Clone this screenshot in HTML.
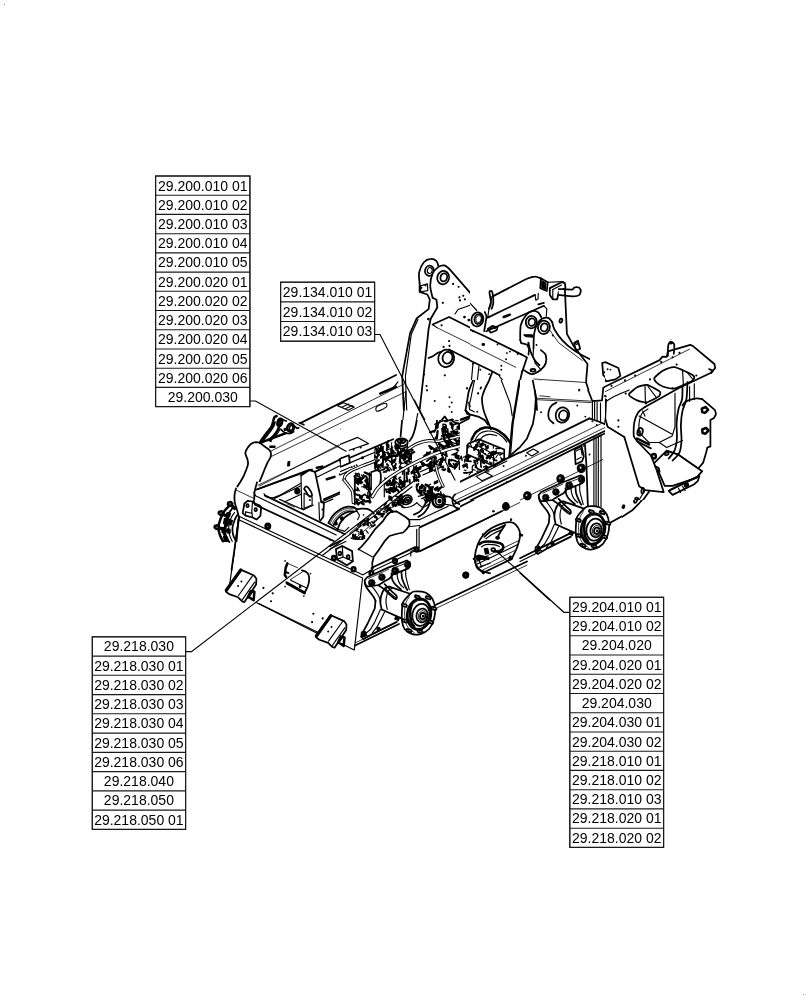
<!DOCTYPE html>
<html><head><meta charset="utf-8"><title>Parts diagram</title>
<style>
html,body{margin:0;padding:0;background:#fff;}
body{width:812px;height:1000px;overflow:hidden;font-family:"Liberation Sans",sans-serif;}
svg{display:block;position:absolute;left:0;top:0;filter:grayscale(1);}
.tb rect,.tb path{stroke:#1a1a1a;stroke-width:1.1;}
.tb text{font-family:"Liberation Sans",sans-serif;font-size:14.0px;fill:#000;text-anchor:middle;}
.d path,.d circle,.d ellipse,.d polygon,.d polyline,.d line{fill:none;stroke:#000;stroke-width:1.15;stroke-linejoin:round;stroke-linecap:round;}
.d .w{fill:#fff;}
.d .k{fill:#000;}
.d .t{stroke-width:0.8;}
.d .h{stroke-width:1.75;}
.d .hh{stroke-width:2.5;}
.ld path{fill:none;stroke:#000;stroke-width:1.15;}
</style></head><body>
<svg width="812" height="1000" viewBox="0 0 812 1000">
<rect x="0" y="0" width="812" height="1000" fill="#fff"/>
<g class="d">
<defs><clipPath id="c2_i"><path d="M300 380H430V530H300Z"/></clipPath><clipPath id="c2_1"><path d="M0 0H812V1000H0ZM340 420H460V540H340Z" clip-rule="evenodd"/></clipPath><clipPath id="c2_2"><path d="M0 0H812V1000H0ZM250 440H370V540H250Z" clip-rule="evenodd"/></clipPath><clipPath id="c3_i"><path d="M0 0H812V1000H0Z"/></clipPath><clipPath id="c3_1"><path d="M0 0H812V1000H0ZM430 380H520V500H430Z" clip-rule="evenodd"/></clipPath><clipPath id="c3_2"><path d="M0 0H812V1000H0ZM470 260H590V380H470Z" clip-rule="evenodd"/></clipPath><clipPath id="c4_i"><path d="M0 0H812V1000H0Z"/></clipPath><clipPath id="c4_1"><path d="M0 0H812V1000H0ZM520 390H640V510H520Z" clip-rule="evenodd"/></clipPath><clipPath id="c4_2"><path d="M0 0H812V1000H0ZM605 340H740V500H605Z" clip-rule="evenodd"/></clipPath><clipPath id="c4_3"><path d="M0 0H812V1000H0ZM470 260H590V380H470Z" clip-rule="evenodd"/></clipPath><clipPath id="c5_i"><path d="M0 0H812V1000H0Z"/></clipPath><clipPath id="c5_1"><path d="M0 0H812V1000H0ZM340 420H460V540H340Z" clip-rule="evenodd"/></clipPath><clipPath id="c5_2"><path d="M0 0H812V1000H0ZM520 390H640V510H520Z" clip-rule="evenodd"/></clipPath><clipPath id="c5_3"><path d="M0 0H812V1000H0ZM430 380H520V500H430Z" clip-rule="evenodd"/></clipPath><clipPath id="c6_i"><path d="M0 0H622V1000H0Z"/></clipPath><clipPath id="c6_1"><path d="M0 0H812V1000H0ZM520 390H640V510H520Z" clip-rule="evenodd"/></clipPath><clipPath id="c7_i"><path d="M0 0H812V1000H0Z"/></clipPath><clipPath id="c7_1"><path d="M0 0H812V1000H0ZM340 420H460V540H340Z" clip-rule="evenodd"/></clipPath><clipPath id="c7_2"><path d="M0 0H812V1000H0ZM250 440H370V540H250Z" clip-rule="evenodd"/></clipPath><clipPath id="c7_3"><path d="M0 0H812V1000H0ZM430 400H590V560H430Z" clip-rule="evenodd"/></clipPath><clipPath id="c9_i"><path d="M622 0H812V1000H622Z"/></clipPath><clipPath id="c9_1"><path d="M0 0H812V1000H0ZM520 390H640V510H520Z" clip-rule="evenodd"/></clipPath><clipPath id="c9_2"><path d="M0 0H812V1000H0ZM605 340H740V500H605Z" clip-rule="evenodd"/></clipPath><clipPath id="c11_i"><path d="M0 0H812V1000H0Z"/></clipPath><clipPath id="c11_1"><path d="M0 0H812V1000H0ZM340 420H460V540H340Z" clip-rule="evenodd"/></clipPath><clipPath id="c11_2"><path d="M0 0H812V1000H0ZM330 540H370V560H330Z" clip-rule="evenodd"/></clipPath><clipPath id="c12_i"><path d="M340 420H460V540H340Z"/></clipPath><clipPath id="c13_i"><path d="M520 390H640V510H520Z"/></clipPath><clipPath id="c13_1"><path d="M0 0H812V1000H0ZM605 340H740V500H605Z" clip-rule="evenodd"/></clipPath><clipPath id="c14_i"><path d="M430 380H520V500H430Z"/></clipPath><clipPath id="c14_1"><path d="M0 0H812V1000H0ZM340 420H460V540H340Z" clip-rule="evenodd"/></clipPath><clipPath id="c15_i"><path d="M605 340H740V500H605Z"/></clipPath><clipPath id="c16_i"><path d="M470 260H590V380H470Z"/></clipPath></defs>
<path d="M238.3 519.4 L362.6 578.0 L354.3 650.0 L258.7 603.6"/>
<path d="M238.3 519.4 L234.1 553.9 L229.6 584.7"/>
<path d="M239.5 516.5 L362.6 574.8"/>
<path d="M229.6 584.7 L232.1 588.4"/>
<path d="M256.7 602.7 L317.1 633.2"/>
<path class='w h' d="M240.7 569.6 L254.0 575.5 L256.4 578.8 L256.1 584.4 L244.4 602.1 L242.2 601.4 L238.1 597.3 L229.2 594.1 L226.1 591.8 L225.9 590.1 L240.7 569.6"/>
<path class='hh' d="M225.9 590.3 L240.7 569.6"/>
<path class='h' d="M226.5 591.3 L241.1 570.8"/>
<path d="M252.5 575.9 L238.5 595.5"/>
<path d="M254.7 582.2 L242.2 599.9"/>
<path class='w hh' d="M250.7 591.0 L254.4 591.8 L253.6 600.3 L251.0 598.4 L248.1 596.9 L250.7 591.0"/>
<path class='hh' d="M248.1 596.9 L252.5 591.0"/>
<circle class="k" cx="241.4" cy="581.4" r="0.4"/>
<circle class="k" cx="238.1" cy="585.9" r="0.4"/>
<path class='w h' d="M330.8 615.2 L344.1 621.1 L346.5 624.4 L346.2 630.0 L334.5 647.7 L332.3 647.0 L328.2 642.9 L319.3 639.7 L316.2 637.4 L316.0 635.7 L330.8 615.2"/>
<path class='hh' d="M316.0 635.9 L330.8 615.2"/>
<path class='h' d="M316.6 636.9 L331.2 616.4"/>
<path d="M342.6 621.5 L328.6 641.1"/>
<path d="M344.8 627.8 L332.3 645.5"/>
<path class='w hh' d="M340.8 636.6 L344.5 637.4 L343.7 645.9 L341.1 644.0 L338.2 642.5 L340.8 636.6"/>
<path class='hh' d="M338.2 642.5 L342.6 636.6"/>
<circle class="k" cx="331.5" cy="627.0" r="0.4"/>
<circle class="k" cx="328.2" cy="631.5" r="0.4"/>
<path class='t' d="M287.4 563.3 L297.5 567.7"/>
<path class='hh' d="M287.4 563.3 L285.7 567.7 L284.8 575.1 L286.0 576.7"/>
<path class='h' d="M285.8 572.2 L288.5 573.1"/>
<path class='h' d="M301.8 570.3 C302.5 570.6 305.1 571.2 306.2 571.9 C307.3 572.6 307.9 573.3 308.4 574.5 C308.9 575.8 309.3 577.6 309.2 579.6 C309.1 581.5 308.6 584.1 307.8 586.2 C307.1 588.4 305.2 591.4 304.7 592.5"/>
<path class='t' d="M302.5 571.9 L290.3 579.6"/>
<path class='hh' d="M286.6 582.5 L304.4 592.5"/>
<path class='hh' d="M287.1 583.4 L304.6 593.2"/>
<path d="M290.7 580.3 L306.2 587.8"/>
<path class='k' d="M299.3 585.9 L300.7 585.5 L301.0 587.2 L299.6 587.5Z"/>
<circle class="k" cx="285.1" cy="560.9" r="0.3"/>
<circle class="k" cx="310.5" cy="573.6" r="0.3"/>
<circle class="k" cx="285.1" cy="586.6" r="0.3"/>
<circle class="k" cx="303.8" cy="596.0" r="0.3"/>
<circle class="k" cx="263.4" cy="587.9" r="0.5"/>
<circle class="k" cx="272.7" cy="593.3" r="0.5"/>
<circle class="k" cx="271.0" cy="601.2" r="0.5"/>
<circle class="k" cx="313.4" cy="613.7" r="0.5"/>
<circle class="k" cx="322.7" cy="618.4" r="0.5"/>
<circle class="k" cx="312.1" cy="622.1" r="0.5"/>
<circle class="k" cx="322.0" cy="627.0" r="0.5"/>
<path class='t' d="M270.9 456.7 L405.8 391.7"/>
<path class='t' d="M259.5 486.0 L338.9 444.9"/>
<path class='h' d="M257.6 489.3 L312.0 469.5"/>
<path class='h' d="M300.4 423.1 L396.1 375.0"/>
<path class='t' d="M269.1 452.0 L404.8 383.7"/>
<path class='w h' d="M259.7 481.3 L262.5 474.6 L265.0 468.3 L267.6 462.4 L270.3 457.9 L271.0 455.0 L270.7 452.0 L269.1 449.7 L259.5 442.6 L256.1 442.1 L253.2 442.7 L250.2 444.6 L247.7 447.6 L245.8 451.0 L245.3 453.2 L246.1 455.9 L247.5 459.4 L248.1 462.8 L247.7 465.8 L245.5 471.7 L243.3 476.8 L240.3 482.0 L237.3 486.5"/>
<path class='hh' d="M260.2 442.1 C260.7 441.3 261.9 439.4 263.3 437.5 C264.6 435.6 266.9 432.7 268.3 430.9 C269.7 429.0 270.9 428.0 271.7 426.4 C272.5 424.8 272.7 422.8 273.2 421.3 C273.6 419.7 273.8 418.1 274.4 417.3 C274.9 416.4 276.2 416.3 276.6 416.1"/>
<path class='h' d="M262.4 441.4 C263.0 440.6 264.7 438.5 266.1 436.8 C267.4 435.0 269.3 432.6 270.5 430.9 C271.7 429.1 272.7 427.9 273.5 426.4 C274.2 425.0 274.7 422.9 275.0 422.1"/>
<path class='hh' d="M269.0 439.9 C269.7 439.4 271.5 438.0 272.7 436.8 C274.0 435.5 275.4 433.8 276.4 432.3 C277.4 430.9 278.1 429.2 278.6 427.9 C279.2 426.6 279.4 425.0 279.5 424.4"/>
<path d="M271.6 439.7 C272.2 439.2 273.8 437.6 275.0 436.4 C276.1 435.2 277.4 433.6 278.3 432.3 C279.1 431.0 279.8 429.3 280.1 428.6"/>
<path class='hh' d="M260.2 442.8 L269.8 439.1 L286.0 433.2"/>
<path class='k' d="M269.5 439.7 L270.8 439.1 L271.4 441.1 L270.1 441.5Z"/>
<ellipse class='w hh' cx="279.8" cy="422.4" rx="2.2" ry="3.8" transform="rotate(15 279.8 422.4)"/>
<ellipse class='h' cx="280.1" cy="422.4" rx="1.0" ry="2.4" transform="rotate(15 280.1 422.4)"/>
<path class='h' d="M282.2 419.5 L286.3 421.0"/>
<path class='h' d="M281.0 429.5 C281.6 430.0 283.1 431.8 284.6 432.5 C286.0 433.2 288.2 433.6 289.7 433.5 C291.2 433.4 292.9 432.0 293.6 431.7"/>
<ellipse class='w hh' cx="290.6" cy="427.6" rx="3.3" ry="4.1" transform="rotate(15 290.6 427.6)"/>
<ellipse class='h' cx="291.2" cy="427.9" rx="1.8" ry="2.6" transform="rotate(15 291.2 427.9)"/>
<path class='h' d="M294.9 426.4 L297.1 428.3 L298.7 427.8"/>
<path class='k' d="M284.1 428.6 L286.0 428.3 L286.3 430.1 L284.4 430.4Z"/>
<path class='h' d="M299.3 422.7 L303.9 424.7"/>
<path class='k' d="M269.9 446.1 L275.0 446.1 L275.0 447.3 L269.9 447.3Z"/>
<path class='k' d="M288.0 461.8 L289.8 461.5 L289.5 465.8 L287.7 465.9Z"/>
<g clip-path="url(#c2_2)">
<g clip-path="url(#c2_1)">
<g clip-path="url(#c2_i)">
<path d="M337.4 405.6 L343.6 402.7 L354.3 407.1 L348.1 410.3 L337.4 405.6"/>
<path d="M342.2 407.1 L348.8 404.1"/>
<path d="M345.9 408.6 L352.2 405.6"/>
<path d="M375.9 408.9 C376.1 408.4 375.8 407.1 377.3 406.2 C378.9 405.3 383.4 403.5 385.0 403.3 C386.6 403.0 386.6 403.8 386.8 404.4 C387.0 405.1 387.6 406.0 386.2 407.1 C384.8 408.2 380.0 410.5 378.4 411.1 C376.7 411.7 376.6 411.0 376.2 410.6 C375.7 410.3 375.9 409.2 375.9 408.9"/>
<path d="M339.5 444.3 L354.3 437.7 L367.6 444.0 L352.2 451.0"/>
<path d="M320.0 436.9 L344.8 451.0"/>
<path d="M320.0 451.0 L339.2 459.9"/>
<circle class="k" cx="351.8" cy="449.5" r="0.4"/>
<circle class="k" cx="360.2" cy="447.6" r="0.4"/>
<path class='h' d="M339.2 459.9 L348.8 455.4 L349.3 462.1 L341.0 466.2 L339.2 459.9"/>
<path class='h' d="M320.0 469.5 L339.2 459.9"/>
<path class='h' d="M320.0 472.7 L340.0 463.5"/>
<path class='h' d="M349.3 458.4 L392.4 438.7"/>
<path d="M349.3 461.8 L376.2 449.5"/>
<path d="M320.0 482.8 L340.7 473.2"/>
<path class='hh' d="M328.9 480.5 L332.6 479.1"/>
<circle class="k" cx="351.3" cy="468.3" r="0.4"/>
<circle class="k" cx="353.7" cy="467.2" r="0.4"/>
<circle class="k" cx="355.5" cy="466.5" r="0.4"/>
<path d="M414.4 400.0 L440.0 448.8"/>
<path d="M405.9 391.7 L401.3 434.7"/>
<path d="M417.8 413.3 L412.4 438.7"/>
<path d="M423.4 436.9 C424.2 435.7 426.4 432.0 427.9 429.6 C429.4 427.1 431.6 423.4 432.3 422.2"/>
<ellipse class='w h' cx="401.0" cy="440.6" rx="5.3" ry="3.3"/>
<ellipse class='h' cx="401.0" cy="439.6" rx="3.3" ry="1.9"/>
<ellipse class='k' cx="401.0" cy="439.3" rx="1.5" ry="0.9"/>
<path d="M395.7 441.4 L395.7 445.1"/>
<path d="M406.3 441.4 L406.3 445.1"/>
<path class='h' d="M395.7 445.1 C396.6 445.5 399.2 447.6 401.0 447.6 C402.8 447.6 405.4 445.5 406.3 445.1"/>
<path class='h' d="M340.7 477.6 C340.9 476.8 340.4 474.4 341.9 472.7 C343.3 471.1 345.8 469.6 349.6 467.7 C353.3 465.8 360.1 463.1 364.3 461.3 C368.6 459.6 373.2 458.0 375.0 457.3"/>
<path d="M343.3 478.3 C343.5 477.7 343.1 476.0 344.4 474.6 C345.7 473.3 347.7 471.9 351.0 470.2 C354.4 468.5 360.4 466.0 364.3 464.3 C368.3 462.6 373.0 460.6 374.7 459.9"/>
<path class='h' d="M340.7 477.6 C341.6 478.8 344.3 482.9 345.9 485.0 C347.5 487.1 349.4 487.1 350.3 490.1 C351.2 493.2 351.2 501.2 351.3 503.4"/>
<path d="M343.3 478.3 C344.3 479.4 347.2 483.0 348.8 485.0 C350.4 486.9 351.9 487.3 352.8 490.1 C353.7 493.0 353.8 500.0 354.0 502.0"/>
<path class='h' d="M373.2 494.6 C373.9 493.3 374.9 490.1 377.6 487.2 C380.3 484.2 384.3 480.5 389.5 476.8 C394.6 473.2 403.0 468.3 408.7 465.0 C414.3 461.7 418.2 459.1 423.4 456.9 C428.7 454.7 437.2 452.6 440.0 451.7"/>
<path d="M375.9 496.1 C376.5 495.0 377.2 492.2 379.9 489.4 C382.5 486.7 386.6 483.1 391.7 479.5 C396.7 475.9 404.6 471.0 410.1 467.7 C415.7 464.3 420.0 461.6 424.9 459.4 C429.9 457.2 437.5 455.2 440.0 454.4"/>
<path d="M407.2 447.3 C408.4 446.6 411.4 444.0 414.6 442.9 C417.8 441.7 422.7 440.4 426.4 440.2 C430.1 440.0 435.0 441.2 436.7 441.4"/>
<path d="M408.7 449.5 C409.9 448.8 413.0 446.2 416.1 445.1 C419.1 444.0 423.7 443.0 427.1 442.9 C430.6 442.7 435.1 443.8 436.7 444.0"/>
<path class='h' d="M370.2 520.0 C372.2 518.2 376.7 513.6 382.1 509.4 C387.5 505.1 397.3 499.0 402.8 494.6 C408.2 490.1 412.6 484.7 414.6 482.8"/>
<path d="M373.9 520.0 C375.8 518.5 379.7 514.8 385.0 510.8 C390.3 506.8 400.4 500.4 405.7 496.1 C411.0 491.7 415.0 486.5 416.8 484.5"/>
<path class='h' d="M368.8 473.9 C369.8 473.4 373.0 470.9 374.7 470.9 C376.4 470.9 378.3 471.9 379.1 473.9 C380.0 475.9 380.3 479.8 379.9 482.8 C379.4 485.7 376.8 490.1 376.2 491.6"/>
<path d="M368.8 473.9 L368.8 494.6"/>
<path class='k' d="M356.9 476.8 L360.2 475.7 L360.5 479.5 L357.2 480.7Z"/>
<path class='k' d="M359.9 480.5 L363.2 479.4 L363.4 483.2 L360.2 484.4Z"/>
<path class='k' d="M356.9 485.7 L360.2 484.5 L360.5 488.4 L357.2 489.6Z"/>
<path class='k' d="M361.4 488.7 L364.6 487.5 L364.9 491.3 L361.7 492.5Z"/>
<path class='k' d="M357.7 494.6 L360.9 493.4 L361.2 497.2 L358.0 498.4Z"/>
<path class='k' d="M362.9 496.1 L366.1 494.9 L366.4 498.7 L363.2 499.9Z"/>
<path class='k' d="M364.3 476.8 L367.6 475.7 L367.9 479.5 L364.6 480.7Z"/>
<path class='k' d="M365.8 482.8 L369.1 481.6 L369.4 485.4 L366.1 486.6Z"/>
<path class='k' d="M355.5 490.1 L358.7 489.0 L359.0 492.8 L355.8 494.0Z"/>
<path class='k' d="M364.3 502.0 L367.6 500.8 L367.9 504.6 L364.6 505.8Z"/>
<path class='k' d="M358.4 502.0 L361.7 500.8 L362.0 504.6 L358.7 505.8Z"/>
<path class='k' d="M377.6 451.7 L380.3 450.5 L380.6 453.5 L377.9 454.7Z"/>
<path class='k' d="M382.1 450.2 L384.7 449.1 L385.0 452.0 L382.4 453.2Z"/>
<path class='k' d="M379.1 457.6 L381.8 456.5 L382.1 459.4 L379.4 460.6Z"/>
<path class='k' d="M385.0 456.2 L387.7 455.0 L388.0 457.9 L385.3 459.1Z"/>
<path class='k' d="M376.2 462.1 L378.8 460.9 L379.1 463.8 L376.5 465.0Z"/>
<path class='k' d="M383.5 463.5 L386.2 462.4 L386.5 465.3 L383.8 466.5Z"/>
<path class='k' d="M389.5 465.0 L392.1 463.8 L392.4 466.8 L389.8 468.0Z"/>
<path class='k' d="M386.5 448.8 L389.2 447.6 L389.5 450.5 L386.8 451.7Z"/>
<path class='k' d="M393.9 450.2 L396.6 449.1 L396.8 452.0 L394.2 453.2Z"/>
<path class='k' d="M396.8 454.7 L399.5 453.5 L399.8 456.5 L397.1 457.6Z"/>
<path class='k' d="M402.8 451.7 L405.4 450.5 L405.7 453.5 L403.1 454.7Z"/>
<path class='k' d="M407.2 453.2 L409.9 452.0 L410.1 455.0 L407.5 456.2Z"/>
<path class='k' d="M399.8 447.3 L402.5 446.1 L402.8 449.1 L400.1 450.2Z"/>
<path class='k' d="M385.0 482.8 L387.4 481.9 L387.7 484.5 L385.3 485.4Z"/>
<path class='k' d="M389.5 480.5 L391.8 479.7 L392.1 482.3 L389.8 483.2Z"/>
<path class='k' d="M386.5 488.7 L388.9 487.8 L389.2 490.4 L386.8 491.3Z"/>
<path class='k' d="M392.4 487.2 L394.8 486.3 L395.1 489.0 L392.7 489.9Z"/>
<path class='k' d="M396.8 482.8 L399.2 481.9 L399.5 484.5 L397.1 485.4Z"/>
<path class='k' d="M399.8 476.8 L402.2 476.0 L402.5 478.6 L400.1 479.5Z"/>
<path class='k' d="M402.8 472.4 L405.1 471.5 L405.4 474.2 L403.1 475.1Z"/>
<path class='k' d="M407.2 469.5 L409.6 468.6 L409.9 471.2 L407.5 472.1Z"/>
<path class='k' d="M408.7 476.8 L411.0 476.0 L411.3 478.6 L409.0 479.5Z"/>
<path class='k' d="M396.8 491.6 L399.2 490.7 L399.5 493.4 L397.1 494.3Z"/>
<path class='k' d="M389.5 494.6 L391.8 493.7 L392.1 496.4 L389.8 497.2Z"/>
<path class='k' d="M383.5 494.6 L385.9 493.7 L386.2 496.4 L383.8 497.2Z"/>
<path class='k' d="M414.6 470.9 L416.9 470.0 L417.2 472.7 L414.9 473.6Z"/>
<path class='k' d="M419.0 473.9 L421.4 473.0 L421.7 475.7 L419.3 476.6Z"/>
<path class='k' d="M423.4 468.0 L425.8 467.1 L426.1 469.8 L423.7 470.6Z"/>
<path class='k' d="M426.4 476.8 L428.8 476.0 L429.1 478.6 L426.7 479.5Z"/>
<path class='k' d="M422.0 482.8 L424.3 481.9 L424.6 484.5 L422.3 485.4Z"/>
<path class='k' d="M416.1 479.8 L418.4 478.9 L418.7 481.6 L416.4 482.5Z"/>
<path class='k' d="M429.4 469.5 L431.7 468.6 L432.0 471.2 L429.7 472.1Z"/>
<path class='k' d="M432.3 465.0 L434.7 464.1 L435.0 466.8 L432.6 467.7Z"/>
<path class='k' d="M423.4 488.7 L425.8 487.8 L426.1 490.4 L423.7 491.3Z"/>
<path class='k' d="M417.5 490.1 L419.9 489.3 L420.2 491.9 L417.8 492.8Z"/>
<path class='k' d="M413.1 485.7 L415.5 484.8 L415.8 487.5 L413.4 488.4Z"/>
<path d="M376.2 448.8 L376.2 469.5"/>
<path d="M383.5 447.3 L383.5 468.0"/>
<path d="M393.9 445.8 L393.9 459.1"/>
<path d="M402.8 448.8 L411.6 451.7 L411.6 459.1"/>
<path d="M355.5 473.9 L355.5 503.4"/>
<path d="M368.8 494.6 L373.2 497.5 L373.2 503.4"/>
<ellipse class='h' cx="407.2" cy="500.5" rx="5.9" ry="4.7" transform="rotate(-25 407.2 500.5)"/>
<ellipse cx="407.2" cy="500.5" rx="3.3" ry="2.5" transform="rotate(-25 407.2 500.5)"/>
<ellipse class='hh' cx="432.3" cy="497.5" rx="3.8" ry="4.4"/>
<ellipse class='h' cx="432.3" cy="497.5" rx="1.5" ry="1.8"/>
<path class='h' d="M414.6 503.4 C416.1 502.7 421.0 500.5 423.4 499.0 C425.9 497.5 428.4 495.3 429.4 494.6"/>
<path class='h' d="M417.5 509.4 C419.0 508.5 423.9 505.4 426.4 504.2 C428.9 503.0 431.3 502.3 432.3 502.0"/>
<ellipse class='hh' cx="438.2" cy="502.0" rx="2.7" ry="5.0"/>
<path d="M333.3 520.0 C334.3 518.7 336.5 514.3 339.2 512.3 C341.9 510.3 346.4 508.3 349.6 507.9 C352.8 507.5 356.9 509.7 358.4 510.1"/>
<path d="M336.3 520.0 C337.2 519.1 339.7 516.1 342.2 514.5 C344.6 513.0 349.6 511.5 351.0 510.8"/>
<path class='h' d="M358.4 510.1 C359.4 510.5 362.9 510.7 364.3 512.3 C365.8 514.0 366.8 518.7 367.3 520.0"/>
<path class='h' d="M330.3 520.0 C331.3 518.5 333.3 513.2 336.3 510.8 C339.2 508.4 346.1 506.5 348.1 505.7"/>
<path class='hh' d="M320.0 491.6 L321.5 494.6 L321.5 520.0"/>
<path d="M323.0 497.5 L342.2 488.7"/>
<path d="M323.0 502.0 L337.7 494.6"/>
</g>
</g>
</g>
<g clip-path="url(#c3_2)">
<g clip-path="url(#c3_1)">
<g clip-path="url(#c3_i)">
<path d="M478.7 302.2 L527.9 277.6 L536.8 276.6 L550.0 283.5"/>
<path d="M492.5 298.3 L535.8 278.0"/>
<path d="M488.5 313.1 L541.7 288.4"/>
<path class='t' d="M492.5 315.0 L543.7 290.4"/>
<path d="M488.1 328.8 L527.9 312.7 L550.0 306.2"/>
<path d="M536.8 276.6 L537.8 285.5 L541.7 288.4"/>
<path d="M539.8 279.6 L546.7 281.5 L547.6 290.4 L541.7 292.4 L539.8 279.6"/>
<path d="M536.8 299.3 L541.7 297.3 L542.7 302.2 L537.8 304.2"/>
<path class='h' d="M505.3 316.0 L508.2 314.6 L509.2 317.0"/>
<path class='h' d="M488.5 328.8 L494.4 325.9 L497.4 327.8 L491.5 331.2 L488.5 328.8"/>
<path class='h' d="M488.5 307.5 C488.7 306.6 489.7 304.1 489.7 301.6 C489.7 299.2 488.5 294.7 488.5 293.0 C488.6 291.2 489.5 291.2 490.1 291.0 C490.7 290.8 491.7 290.5 492.1 291.8 C492.5 293.1 492.6 296.2 492.5 298.9 C492.3 301.5 491.5 306.1 491.3 307.5"/>
<path d="M455.0 314.0 L458.0 309.5 L478.7 302.2 L488.5 307.5 L484.2 329.8"/>
<ellipse class='w h' cx="477.1" cy="320.0" rx="5.9" ry="6.7" transform="rotate(20 477.1 320.0)"/>
<ellipse cx="478.3" cy="319.4" rx="3.9" ry="4.7" transform="rotate(20 478.3 319.4)"/>
<circle class="k" cx="464.5" cy="317.0" r="0.8"/>
<circle class="k" cx="468.8" cy="320.0" r="0.8"/>
<path class='h' d="M419.6 283.1 C419.5 281.3 418.4 275.6 419.2 272.1 C419.9 268.6 422.0 264.4 423.9 262.2 C425.8 260.0 428.3 259.1 430.4 258.9 C432.5 258.6 435.0 259.6 436.3 260.8 C437.7 262.1 438.1 265.3 438.5 266.2"/>
<ellipse class='h' cx="429.4" cy="270.7" rx="4.3" ry="5.1" transform="rotate(15 429.4 270.7)"/>
<ellipse cx="429.8" cy="270.5" rx="2.4" ry="3.0" transform="rotate(15 429.8 270.5)"/>
<path class='h' d="M419.6 283.1 L419.6 291.8 L427.4 294.5 L429.8 299.7 L428.6 309.1 L416.8 318.2 L410.1 333.2 L402.2 376.1 L403.8 410.0"/>
<path d="M418.0 319.4 L411.3 334.3 L405.4 376.1 L406.7 410.0"/>
<path d="M420.5 285.9 L427.4 283.9 L427.8 290.6 L420.7 291.8 L420.5 285.9"/>
<circle class="k" cx="421.5" cy="287.8" r="0.4"/>
<circle class="k" cx="425.5" cy="285.5" r="0.4"/>
<path class='w h' d="M432.6 297.7 C432.2 295.6 430.2 289.5 430.2 285.5 C430.2 281.5 431.2 276.7 432.6 273.6 C433.9 270.6 436.5 268.3 438.5 266.9 C440.4 265.6 442.6 265.1 444.4 265.4 C446.2 265.7 448.3 268.2 449.1 268.7"/>
<path class='h' d="M449.1 268.7 L478.7 302.6"/>
<ellipse class='w h' cx="443.2" cy="277.6" rx="5.9" ry="6.7" transform="rotate(15 443.2 277.6)"/>
<ellipse class='h' cx="443.8" cy="277.4" rx="3.3" ry="4.1" transform="rotate(15 443.8 277.4)"/>
<path class='h' d="M432.6 297.7 L436.5 299.7 L437.3 307.5 L430.6 319.0 L428.6 329.2 L423.5 376.1 L419.6 410.0"/>
<circle class="k" cx="428.4" cy="319.0" r="0.8"/>
<path class='h' d="M432.6 324.5 L449.1 317.0 L526.0 355.8"/>
<path class='t' d="M436.9 327.6 L516.1 366.7"/>
<path d="M432.6 324.5 L436.9 327.6"/>
<path class='h' d="M428.6 358.0 L432.6 356.4 L438.3 352.5 L449.1 349.5 L517.7 384.4"/>
<path class='h' d="M526.0 355.8 L518.1 384.4 L516.1 410.0"/>
<ellipse class='w h' cx="446.2" cy="358.4" rx="7.9" ry="8.7" transform="rotate(15 446.2 358.4)"/>
<ellipse class='h' cx="447.5" cy="357.8" rx="4.9" ry="5.9" transform="rotate(15 447.5 357.8)"/>
<path class='h' d="M474.7 364.3 L471.2 387.9 L467.2 410.0"/>
<path d="M474.7 364.3 L492.5 372.6"/>
<path d="M477.7 368.2 L472.8 391.9 L469.8 410.0"/>
<path class='h' d="M492.5 372.6 C491.5 374.8 488.3 381.8 486.9 386.0 C485.6 390.2 484.8 393.8 484.2 397.8 C483.5 401.8 483.2 408.0 483.0 410.0"/>
<path d="M497.4 376.1 C498.7 377.8 503.5 382.7 505.3 386.0 C507.1 389.2 507.7 394.2 508.2 395.8"/>
<path d="M508.2 395.8 L516.1 401.7"/>
<path d="M500.3 376.1 C501.7 378.1 505.6 384.6 508.2 387.9 C510.9 391.2 514.8 394.5 516.1 395.8"/>
<path class='h' d="M521.6 333.2 C521.8 331.2 521.4 324.6 522.4 321.3 C523.5 318.0 525.9 315.2 527.9 313.4 C530.0 311.7 532.8 311.0 534.8 311.1 C536.9 311.2 539.3 313.7 540.1 314.2"/>
<ellipse class='h' cx="532.9" cy="321.9" rx="5.3" ry="6.1" transform="rotate(15 532.9 321.9)"/>
<ellipse cx="533.3" cy="321.7" rx="2.8" ry="3.3" transform="rotate(15 533.3 321.7)"/>
<path class='w h' d="M535.8 337.1 C536.0 335.4 536.0 329.8 537.0 326.8 C538.0 323.9 540.0 321.0 541.7 319.4 C543.5 317.7 546.3 317.3 547.6 317.0 C549.0 316.7 549.6 317.7 550.0 317.8"/>
<ellipse class='w h' cx="544.1" cy="327.2" rx="5.9" ry="6.7" transform="rotate(15 544.1 327.2)"/>
<ellipse class='h' cx="544.7" cy="327.0" rx="3.3" ry="4.1" transform="rotate(15 544.7 327.0)"/>
<path class='h' d="M521.6 333.2 L520.8 342.6 L526.4 345.0 L528.3 348.9 L526.0 355.8"/>
<path class='h' d="M535.8 337.1 L531.9 339.1 L531.5 345.0 L536.2 352.9 L542.9 360.3 L543.7 366.3 L536.8 369.4 L526.0 368.2"/>
<path d="M542.9 360.3 L550.0 363.3"/>
<ellipse class='h' cx="532.9" cy="370.2" rx="2.2" ry="1.4"/>
<path class='h' d="M531.9 376.1 L536.2 397.8 L537.0 410.0"/>
<path d="M536.8 369.4 L531.9 376.1"/>
<path d="M543.7 366.3 L550.0 368.2"/>
<path class='t' d="M539.8 395.8 L550.0 396.8"/>
<circle class="k" cx="442.8" cy="302.8" r="0.5"/>
<circle class="k" cx="453.1" cy="283.9" r="0.5"/>
<circle class="k" cx="458.6" cy="286.7" r="0.5"/>
<circle class="k" cx="459.4" cy="297.3" r="0.5"/>
<circle class="k" cx="463.3" cy="295.7" r="0.5"/>
<circle class="k" cx="464.9" cy="299.3" r="0.5"/>
<circle class="k" cx="460.0" cy="300.4" r="0.5"/>
<circle class="k" cx="441.6" cy="325.3" r="0.5"/>
<circle class="k" cx="449.1" cy="341.0" r="0.5"/>
<circle class="k" cx="449.5" cy="345.8" r="0.5"/>
<circle class="k" cx="443.6" cy="346.9" r="0.5"/>
<circle class="k" cx="473.2" cy="331.2" r="0.5"/>
<circle class="k" cx="482.6" cy="344.6" r="0.5"/>
<circle class="k" cx="497.4" cy="344.6" r="0.5"/>
<circle class="k" cx="508.2" cy="352.5" r="0.5"/>
<circle class="k" cx="511.8" cy="351.3" r="0.5"/>
<circle class="k" cx="502.3" cy="365.9" r="0.5"/>
<circle class="k" cx="502.7" cy="369.8" r="0.5"/>
<circle class="k" cx="506.3" cy="360.3" r="0.5"/>
<circle class="k" cx="426.5" cy="386.0" r="0.5"/>
<circle class="k" cx="427.0" cy="390.3" r="0.5"/>
<circle class="k" cx="444.8" cy="375.3" r="0.5"/>
<circle class="k" cx="449.1" cy="396.8" r="0.5"/>
<circle class="k" cx="423.9" cy="374.5" r="0.5"/>
<circle class="k" cx="478.7" cy="386.0" r="0.5"/>
<circle class="k" cx="481.0" cy="387.9" r="0.5"/>
<circle class="k" cx="477.7" cy="393.8" r="0.5"/>
<circle class="k" cx="470.8" cy="384.0" r="0.5"/>
<circle class="k" cx="527.9" cy="342.6" r="0.5"/>
<circle class="k" cx="536.8" cy="346.2" r="0.5"/>
<circle class="k" cx="526.0" cy="360.3" r="0.5"/>
</g>
</g>
</g>
<g clip-path="url(#c4_3)">
<g clip-path="url(#c4_2)">
<g clip-path="url(#c4_1)">
<g clip-path="url(#c4_i)">
<path d="M540.0 278.3 L549.4 282.5 L550.8 290.4 L544.7 293.2"/>
<path class='h' d="M549.4 289.5 L554.0 282.5 L564.6 281.1 L565.7 295.1 L557.8 299.8 L550.8 298.6 L549.4 289.5"/>
<path d="M554.0 282.5 L554.5 292.8 L557.8 299.8"/>
<path class='h' d="M559.2 289.5 C561.1 289.6 567.9 290.3 570.4 290.0 C572.9 289.6 572.8 288.0 574.2 287.6 C575.5 287.2 577.5 287.1 578.6 287.6 C579.7 288.1 580.9 289.2 580.9 290.4 C580.9 291.6 580.0 293.8 578.6 294.6 C577.2 295.5 574.4 295.5 572.8 295.6 C571.2 295.6 571.3 295.3 569.0 295.1 C566.8 294.9 560.8 294.7 559.2 294.6"/>
<path d="M540.0 295.1 L547.0 292.8"/>
<path class='h' d="M564.6 295.1 L567.1 337.2 L570.9 347.0 L572.8 350.1 L587.5 363.9 L586.1 382.6 L591.9 400.2"/>
<path class='t' d="M540.0 309.6 L547.0 315.2 L554.0 328.3 L560.1 340.0 L570.9 351.7 L582.1 360.1"/>
<path d="M540.0 306.3 L545.1 305.4"/>
<path class='h' d="M540.0 350.1 C540.5 350.7 542.3 351.8 542.8 353.6 C543.4 355.4 543.7 358.5 543.3 360.6 C542.8 362.8 540.5 365.5 540.0 366.5"/>
<path class='h' d="M575.1 342.4 L578.8 341.0 L580.2 350.3 L575.6 351.7 L575.1 342.4"/>
<ellipse cx="577.0" cy="343.8" rx="1.9" ry="1.4"/>
<path class='t' d="M540.0 379.8 L589.6 375.1"/>
<path class='t' d="M540.0 395.2 L590.5 400.9"/>
<circle class="k" cx="561.1" cy="321.3" r="0.6"/>
<circle class="k" cx="553.1" cy="335.3" r="0.6"/>
<circle class="k" cx="568.5" cy="340.7" r="0.6"/>
<circle class="k" cx="579.3" cy="389.9" r="0.6"/>
<circle class="k" cx="577.4" cy="405.5" r="0.6"/>
<circle class="k" cx="563.4" cy="396.9" r="0.6"/>
<circle class="k" cx="585.6" cy="414.4" r="0.6"/>
<circle class="k" cx="590.3" cy="413.3" r="0.6"/>
<ellipse class='w h' cx="557.5" cy="414.4" rx="9.8" ry="11.2" transform="rotate(15 557.5 414.4)"/>
<ellipse class='h' cx="561.5" cy="413.3" rx="5.8" ry="7.0" transform="rotate(15 561.5 413.3)"/>
<path d="M550.5 406.2 L554.5 405.1"/>
<path d="M554.0 425.0 L558.3 423.8"/>
<path class='w h' d="M540.0 439.2 C544.7 437.5 559.3 432.1 568.1 428.9 C576.9 425.8 586.8 421.8 592.6 420.5 C598.5 419.3 600.6 420.4 603.2 421.5 C605.8 422.5 607.7 424.8 608.3 426.6 C608.9 428.4 610.3 430.0 606.7 432.2 C603.1 434.4 596.4 436.7 586.8 439.7 C577.2 442.7 555.6 448.3 549.4 450.0"/>
<path d="M540.0 444.9 L593.8 425.7 L603.6 426.6"/>
<path class='t' d="M570.4 428.9 L598.5 422.9"/>
<path d="M540.0 450.0 L549.4 447.2"/>
<path d="M592.9 400.9 L592.9 421.5"/>
<path d="M596.2 400.9 L596.2 421.5"/>
<path d="M599.4 401.8 L599.4 421.9"/>
<path d="M602.2 400.4 L602.2 421.9"/>
<path d="M594.3 433.2 L594.3 450.0"/>
<path d="M597.6 434.3 L597.6 450.0"/>
<path d="M600.4 433.2 L600.4 450.0"/>
<path class='h' d="M602.2 398.5 L603.2 387.8 L689.8 345.6 L693.5 347.0 L713.2 363.4 L714.3 367.2 L710.3 372.8 L671.0 392.4 L645.3 406.5 L638.3 412.6 L635.0 421.9 L633.6 443.0"/>
<path class='t' d="M604.6 391.0 L689.8 349.4"/>
<path class='h' d="M602.2 398.5 L607.9 400.9 L606.9 410.2 L610.2 428.9 L633.6 443.0 L650.0 450.0"/>
<path d="M607.9 400.9 L627.0 391.0"/>
<path class='h' d="M602.2 363.0 L606.9 361.8 L619.6 367.6 L619.6 377.5 L610.2 382.1 L603.2 375.1 L602.2 363.0"/>
<circle class="k" cx="607.9" cy="368.8" r="0.5"/>
<circle class="k" cx="604.3" cy="372.3" r="0.5"/>
<circle class="k" cx="611.4" cy="369.5" r="0.5"/>
<path class='h' d="M667.5 355.9 C667.6 353.7 667.6 344.9 668.2 342.4 C668.8 339.8 670.2 340.7 671.0 340.7 C671.9 340.7 673.1 340.1 673.4 342.4 C673.7 344.6 673.0 352.1 672.9 354.1"/>
<ellipse class='k' cx="670.8" cy="341.9" rx="2.3" ry="1.4"/>
<path class='h' d="M630.8 391.5 C631.9 390.0 635.4 387.4 638.3 386.4 C641.2 385.3 644.2 383.9 648.1 385.2 C652.0 386.4 659.6 391.6 661.7 393.8 C663.7 396.1 662.2 397.0 660.3 398.5 C658.3 400.1 653.6 402.9 650.0 403.2 C646.3 403.5 641.3 401.7 638.3 400.4 C635.2 399.1 633.0 396.7 631.7 395.2 C630.5 393.8 629.7 393.0 630.8 391.5Z"/>
<path class='h' d="M654.7 377.0 C655.7 375.4 658.6 372.9 662.1 371.1 C665.7 369.4 671.2 365.9 676.2 366.5 C681.2 367.1 689.6 372.3 692.1 374.7 C694.6 377.0 693.8 378.3 690.9 380.5 C688.0 382.7 679.4 387.0 674.5 387.8 C669.7 388.5 664.8 386.4 661.7 385.2 C658.6 384.0 657.0 381.9 655.8 380.5 C654.7 379.1 653.6 378.6 654.7 377.0Z"/>
<path d="M640.6 387.5 L650.0 400.4"/>
<path d="M646.5 386.4 L647.2 402.3"/>
<path d="M680.4 368.1 L682.7 386.4"/>
<path d="M685.1 370.0 L691.6 377.0"/>
<path class='h' d="M644.4 409.8 L638.3 417.2 L637.3 437.8"/>
<path d="M638.3 417.2 L671.0 433.6 L676.2 428.9 L676.2 391.0"/>
<path d="M633.6 443.0 L666.4 445.3 L674.8 438.3 L676.2 428.9"/>
<path d="M689.8 381.7 L689.8 400.4"/>
<path d="M694.4 379.8 L694.4 398.5"/>
<path class='h' d="M710.3 372.8 L714.3 375.1"/>
<ellipse class='h' cx="640.6" cy="432.0" rx="3.3" ry="4.2" transform="rotate(20 640.6 432.0)"/>
<path d="M635.9 437.8 L643.0 444.9 L650.0 447.2"/>
<path d="M610.2 428.9 L617.2 433.2"/>
<circle class="k" cx="624.7" cy="380.5" r="0.5"/>
<circle class="k" cx="634.8" cy="375.1" r="0.5"/>
<circle class="k" cx="651.8" cy="366.5" r="0.5"/>
<circle class="k" cx="661.7" cy="361.1" r="0.5"/>
<circle class="k" cx="672.2" cy="355.5" r="0.5"/>
<circle class="k" cx="679.9" cy="352.4" r="0.5"/>
<circle class="k" cx="605.5" cy="393.8" r="0.5"/>
<circle class="k" cx="626.1" cy="393.8" r="0.5"/>
<circle class="k" cx="611.4" cy="386.4" r="0.5"/>
<circle class="k" cx="646.5" cy="402.3" r="0.5"/>
<circle class="k" cx="672.2" cy="389.2" r="0.5"/>
<circle class="k" cx="686.2" cy="372.3" r="0.5"/>
<circle class="k" cx="689.8" cy="387.5" r="0.5"/>
<circle class="k" cx="617.2" cy="421.5" r="0.5"/>
<circle class="k" cx="618.4" cy="427.3" r="0.5"/>
<circle class="k" cx="643.0" cy="414.4" r="0.5"/>
</g>
</g>
</g>
</g>
<g clip-path="url(#c5_3)">
<g clip-path="url(#c5_2)">
<g clip-path="url(#c5_1)">
<g clip-path="url(#c5_i)">
<path class='h' d="M509.8 458.3 L590.0 418.5"/>
<path class='t' d="M446.7 498.5 L508.8 469.0 L590.0 430.1"/>
<path class='h' d="M452.1 505.2 L520.0 472.1 L590.0 438.6"/>
<path class='t' d="M448.7 503.6 L520.0 469.4 L590.0 435.7"/>
<path class='h' d="M430.0 521.8 L449.7 511.9 L520.0 476.1 L590.0 443.0"/>
<path class='t' d="M430.0 546.8 L577.8 473.9"/>
<path d="M477.3 475.9 L489.1 470.5 L495.0 473.3 L483.6 478.8 L477.3 475.9"/>
<path class='h' d="M526.6 452.2 L532.5 449.3 L537.6 451.6 L531.7 454.8 L526.6 452.2"/>
<circle class="k" cx="503.3" cy="463.4" r="0.5"/>
<circle class="k" cx="519.7" cy="455.6" r="0.5"/>
<circle class="k" cx="541.9" cy="412.2" r="0.5"/>
<circle class="k" cx="556.1" cy="444.9" r="0.5"/>
<circle class="k" cx="449.3" cy="412.2" r="0.5"/>
<circle class="k" cx="451.7" cy="405.9" r="0.5"/>
<circle class="k" cx="493.1" cy="511.3" r="0.5"/>
<circle class="k" cx="511.2" cy="519.2" r="0.5"/>
<circle class="k" cx="521.6" cy="535.0" r="0.5"/>
<circle class="k" cx="506.5" cy="482.8" r="0.5"/>
<path class='h' d="M444.8 496.6 C445.6 496.9 448.5 497.1 449.7 498.5 C450.9 500.0 452.1 503.0 452.1 505.2 C452.1 507.5 450.1 510.8 449.7 511.9"/>
<path class='h' d="M430.0 502.5 C431.3 501.8 435.4 499.5 437.9 498.5 C440.3 497.5 443.6 496.9 444.8 496.6"/>
<ellipse class='w hh' cx="437.9" cy="501.5" rx="5.9" ry="6.7"/>
<ellipse class='h' cx="437.9" cy="501.5" rx="2.8" ry="3.3"/>
<ellipse class='k' cx="437.9" cy="501.5" rx="1.0" ry="1.2"/>
<path d="M573.8 447.3 L573.8 465.0 L579.8 468.0"/>
<path d="M576.8 446.3 L576.8 464.0"/>
<path d="M585.7 442.4 L585.7 466.0"/>
<path d="M582.7 443.7 L582.7 465.0"/>
<path d="M573.8 451.6 L582.7 448.3"/>
<path class='h' d="M465.5 400.0 L466.7 409.9 L475.7 416.2 L485.6 418.1 L489.1 425.6"/>
<path d="M457.6 421.7 L469.4 418.7 L471.4 420.7 L461.5 423.6"/>
<path class='h' d="M481.6 400.0 C482.1 402.0 483.1 407.9 484.4 411.8 C485.6 415.8 487.2 420.6 489.1 423.6 C491.1 426.7 494.9 428.9 496.0 430.0"/>
<path class='h' d="M515.1 400.0 C514.7 403.3 513.5 413.1 512.8 419.7 C512.0 426.3 511.0 433.0 510.4 439.4 C509.8 445.8 509.4 455.2 509.2 458.3"/>
<path d="M517.7 400.0 C517.3 403.3 516.3 413.1 515.5 419.7 C514.7 426.3 513.5 433.3 512.8 439.4 C512.0 445.5 511.4 453.4 511.2 456.2"/>
<path class='h' d="M536.4 400.0 C535.7 403.3 534.4 413.1 532.5 419.7 C530.6 426.3 527.9 433.8 525.0 439.4 C522.1 445.0 517.8 450.0 515.1 453.2 C512.5 456.4 510.2 457.5 509.2 458.3"/>
<path d="M495.0 400.0 C495.7 402.0 496.7 408.9 499.0 411.8 C501.3 414.8 507.2 416.7 508.8 417.7"/>
<path class='h' d="M472.4 435.1 C473.5 434.2 476.5 431.2 479.3 430.0 C482.1 428.7 485.8 427.3 489.1 427.6 C492.5 427.8 496.3 429.5 499.4 431.5 C502.4 433.6 505.7 436.8 507.2 439.8 C508.8 442.8 508.6 447.7 508.8 449.3"/>
<path d="M476.3 437.4 C477.5 436.6 480.7 433.6 483.2 432.5 C485.7 431.5 488.5 430.8 491.1 431.1 C493.7 431.5 496.7 432.9 499.0 434.7 C501.3 436.5 503.9 440.6 504.9 441.8"/>
<path d="M472.4 435.1 L472.4 442.4"/>
<path class='h' d="M459.6 447.3 L469.4 442.4 L497.0 439.4 L505.3 447.3 L505.3 457.5 L485.6 469.0 L463.9 465.4 L459.6 459.1 L459.6 447.3"/>
<path d="M469.4 442.4 L469.4 451.6 L495.0 449.3 L497.0 439.4"/>
<path d="M469.4 451.6 L463.9 465.4"/>
<path d="M495.0 449.3 L505.3 457.5"/>
<path d="M474.3 444.9 L474.3 450.8"/>
<path d="M479.3 444.3 L479.3 450.4"/>
<path d="M485.2 443.7 L485.2 450.0"/>
<path d="M490.1 443.3 L490.1 449.7"/>
<path style="stroke-width:1.2" d="M478.9 458.3L481.5 453.6"/>
<path class="k" d="M481.3 457.6L483.7 456.3L483.7 458.2L481.3 459.4Z"/>
<path style="stroke-width:1.1" d="M486.9 448.5Q488.3 451.5 486.6 453.7"/>
<path style="stroke-width:1.4" d="M493.2 450.0L497.1 448.1"/>
<path style="stroke-width:1.2" d="M479.2 446.9Q478.7 448.7 481.7 448.4"/>
<path style="stroke-width:1.2" d="M477.1 464.7L478.6 464.2"/>
<path style="stroke-width:1.4" d="M487.6 462.1L489.1 462.7"/>
<path class="k" d="M465.7 460.3L468.2 459.1L468.2 461.7L465.7 462.9Z"/>
<path style="stroke-width:1.4" d="M480.0 443.4L480.1 446.7"/>
<path style="stroke-width:1.8" d="M502.8 457.8L505.5 456.0"/>
<path style="stroke-width:1.1" d="M469.5 445.4Q469.9 445.1 469.1 448.6"/>
<path class="k" d="M476.4 457.8L479.1 456.4L479.1 459.8L476.4 461.2Z"/>
<path class="k" d="M499.2 444.8L502.6 443.1L502.6 446.5L499.2 448.2Z"/>
<path style="stroke-width:1.8" d="M489.9 444.5L495.6 443.7"/>
<path class="k" d="M478.8 442.5L482.3 444.2L482.3 446.3L478.8 444.5Z"/>
<path style="stroke-width:1.9" d="M468.8 462.5Q471.2 464.4 473.8 465.0"/>
<path class="k" d="M487.7 441.6L491.1 439.9L491.1 443.1L487.7 444.8Z"/>
<path class="k" d="M471.9 452.6L473.7 451.6L473.7 454.0L471.9 454.9Z"/>
<path style="stroke-width:1.0" d="M479.1 449.2Q481.8 450.0 481.2 449.2"/>
<path style="stroke-width:1.4" d="M488.5 452.8L488.8 454.6"/>
<path style="stroke-width:1.8" d="M493.1 441.0L493.4 445.5"/>
<path style="stroke-width:1.5" d="M477.1 463.4L480.1 462.1"/>
<path style="stroke-width:1.7" d="M462.5 456.8L463.9 459.8"/>
<path class="k" d="M479.7 464.2L482.8 462.7L482.8 464.2L479.7 465.8Z"/>
<path style="stroke-width:1.4" d="M480.2 448.0L482.9 444.4"/>
<path style="stroke-width:1.6" d="M473.6 444.0L479.1 443.3"/>
<path style="stroke-width:1.7" d="M498.0 450.1Q499.2 448.0 502.7 448.1"/>
<path class="k" d="M501.7 445.6L503.9 444.5L503.9 448.1L501.7 449.2Z"/>
<path style="stroke-width:1.3" d="M470.1 442.8L474.3 446.0"/>
<path style="stroke-width:1.3" d="M489.2 462.9L491.4 458.2"/>
<path style="stroke-width:1.2" d="M489.0 448.4L492.1 447.1"/>
<path style="stroke-width:1.6" d="M469.8 461.5L473.7 463.4"/>
<path class="k" d="M468.7 453.5L470.2 452.7L470.2 455.3L468.7 456.0Z"/>
<path style="stroke-width:1.1" d="M464.8 447.5L470.7 447.5"/>
<path style="stroke-width:1.6" d="M490.4 444.6L492.7 447.4"/>
<path style="stroke-width:1.2" d="M476.7 454.0L476.8 458.4"/>
<path style="stroke-width:1.1" d="M495.6 459.3Q498.9 460.1 498.3 457.5"/>
<path class="k" d="M471.5 460.6L474.1 461.9L474.1 463.5L471.5 462.2Z"/>
<path style="stroke-width:1.4" d="M482.5 463.6Q484.8 462.9 487.0 460.6"/>
<path style="stroke-width:1.9" d="M499.2 453.0L503.7 453.6"/>
<path style="stroke-width:1.8" d="M467.8 454.9L471.6 455.1"/>
<path style="stroke-width:1.5" d="M472.9 451.2Q473.8 450.3 474.7 450.1"/>
<path class="k" d="M476.8 455.3L480.2 453.6L480.2 456.4L476.8 458.1Z"/>
<path class="k" d="M482.0 459.8L484.6 461.1L484.6 463.6L482.0 462.3Z"/>
<path class="k" d="M471.9 453.4L474.3 454.6L474.3 458.0L471.9 456.8Z"/>
<path style="stroke-width:1.7" d="M482.6 442.9Q482.3 441.5 484.6 442.3"/>
<path style="stroke-width:1.1" d="M490.1 451.2L491.8 446.7"/>
<path style="stroke-width:1.7" d="M469.6 443.6L472.4 446.9"/>
<path style="stroke-width:1.6" d="M481.8 466.1L486.6 463.8"/>
<path style="stroke-width:1.8" d="M470.1 459.8Q472.2 462.9 470.3 462.8"/>
<path class='h' d="M430.0 433.5 L455.6 480.8"/>
<path class='h' d="M432.8 432.5 L457.6 478.8"/>
<path class='h' d="M439.9 421.7 C440.5 420.9 442.8 416.7 443.8 416.7 C444.8 416.7 445.6 419.2 445.8 421.7 C445.9 424.1 444.3 428.6 444.8 431.5 C445.3 434.5 446.9 437.1 448.7 439.4 C450.5 441.7 453.8 444.0 455.6 445.3 C457.4 446.6 458.9 447.0 459.6 447.3"/>
<path class='h' d="M437.9 425.6 C438.5 426.3 440.8 427.3 441.8 429.6 C442.8 431.9 442.5 436.5 443.8 439.4 C445.1 442.4 447.4 445.3 449.7 447.3 C452.0 449.3 456.3 450.9 457.6 451.6"/>
<path d="M430.0 450.2 C431.6 450.1 436.6 448.8 439.9 449.3 C443.1 449.8 446.4 451.6 449.7 453.2 C453.0 454.8 457.9 458.1 459.6 459.1"/>
<path d="M430.0 457.1 C432.0 457.5 437.6 457.8 441.8 459.1 C446.1 460.4 453.3 464.0 455.6 465.0"/>
<path class='hh' d="M433.9 468.0 C434.3 469.1 434.9 472.1 435.9 474.9 C436.9 477.7 438.5 482.1 439.9 484.7 C441.2 487.4 443.1 489.7 443.8 490.6"/>
<path d="M437.9 467.0 C438.2 468.3 438.9 472.2 439.9 474.9 C440.8 477.5 442.2 480.5 443.4 482.8 C444.5 485.1 446.2 487.7 446.7 488.7"/>
<ellipse class='k' cx="435.5" cy="468.0" rx="2.0" ry="1.6"/>
<path d="M461.5 474.9 L481.2 467.0"/>
<path d="M459.6 480.8 L485.2 470.9"/>
<ellipse class='k' cx="505.9" cy="506.4" rx="3.3" ry="3.7"/>
<ellipse class='k' cx="527.5" cy="495.8" rx="3.3" ry="3.7"/>
<path class='h' d="M482.9 572.7 C481.8 571.5 477.7 568.1 476.4 565.3 C475.0 562.6 474.6 559.7 474.9 556.2 C475.1 552.7 476.5 547.8 477.8 544.3 C479.2 540.9 480.5 538.2 482.9 535.5 C485.2 532.8 488.3 530.1 491.7 528.1 C495.2 526.0 500.1 524.0 503.5 523.1 C507.0 522.1 510.0 521.6 512.4 522.5 C514.9 523.3 517.0 525.9 518.3 528.1 C519.6 530.2 520.3 532.3 520.1 535.5 C519.9 538.7 518.5 543.4 517.1 547.3 C515.8 551.1 512.7 556.7 511.8 558.5"/>
<path class='h' d="M484.3 536.9 C485.3 536.1 487.8 533.3 490.2 531.8 C492.7 530.3 496.7 529.2 499.1 528.1 C501.6 527.0 504.0 525.6 505.0 525.1"/>
<path d="M485.8 538.7 C487.0 537.9 490.5 535.2 493.2 533.7 C495.9 532.2 500.6 530.2 502.1 529.6"/>
<path class='h' d="M505.0 525.1 L500.6 531.8 L498.4 535.5"/>
<path class='t' d="M476.4 560.9 L518.3 540.8"/>
<path d="M477.2 564.1 L517.7 544.6"/>
<path class='t' d="M479.3 568.0 L515.4 550.2"/>
<path class='t' d="M481.4 570.6 L512.7 555.9"/>
<path class='h' d="M483.2 572.7 L510.9 559.4"/>
<path class='hh' d="M479.3 544.3 C480.1 543.9 481.5 542.0 484.3 541.7 C487.1 541.3 493.2 541.8 496.2 542.3 C499.1 542.7 500.9 543.3 502.1 544.3 C503.2 545.4 503.4 547.5 503.0 548.8 C502.5 550.0 501.0 551.3 499.4 551.7 C497.8 552.1 494.5 551.2 493.5 551.1"/>
<path d="M481.4 547.0 C482.1 546.6 483.5 545.0 485.8 544.6 C488.1 544.3 492.7 544.6 495.0 544.9 C497.2 545.3 498.7 546.4 499.4 546.7"/>
<path class='k' d="M475.5 556.2 L478.7 555.0 L488.8 557.3 L488.8 559.4 L476.9 559.4Z"/>
<path class='k' d="M484.3 548.8 L487.6 548.2 L488.8 553.2 L485.5 554.1Z"/>
<ellipse class='k' cx="497.6" cy="537.7" rx="1.8" ry="1.5"/>
<ellipse class='w h' cx="493.2" cy="549.7" rx="1.8" ry="1.5"/>
<path class='hh' d="M511.8 558.5 C511.4 558.7 509.7 559.7 509.5 559.4 C509.2 559.1 510.2 557.2 510.3 556.7"/>
<circle class="k" cx="510.9" cy="520.1" r="0.5"/>
<circle class="k" cx="482.9" cy="534.3" r="0.5"/>
<circle class="k" cx="521.0" cy="534.9" r="0.5"/>
<circle class="k" cx="473.7" cy="558.8" r="0.5"/>
<circle class="k" cx="483.2" cy="573.3" r="0.5"/>
<circle class="k" cx="493.8" cy="511.2" r="0.5"/>
<circle class="k" cx="503.5" cy="526.6" r="0.5"/>
<ellipse class='h' cx="465.9" cy="575.1" rx="2.5" ry="2.7"/>
<ellipse class='h' cx="465.9" cy="575.1" rx="1.3" ry="1.5"/>
</g>
</g>
</g>
</g>
<g clip-path="url(#c6_1)">
<g clip-path="url(#c6_i)">
<path d="M587.0 443.9 L588.0 505.0"/>
<path d="M593.3 440.0 L593.3 507.0"/>
<path d="M595.9 440.0 L595.9 507.4"/>
<path d="M598.8 440.0 L598.8 508.0"/>
<path d="M601.8 440.0 L601.8 509.0"/>
<path class='h' d="M575.2 449.5 L583.1 445.9 L585.0 462.1 L575.6 465.6 L575.2 449.5"/>
<path d="M577.5 451.8 L582.7 449.9 L583.4 458.7 L577.9 461.3"/>
<circle class="k" cx="590.0" cy="454.2" r="0.5"/>
<circle class="k" cx="527.5" cy="454.2" r="0.5"/>
<path d="M527.9 452.2 L532.2 449.9 L536.2 451.8 L531.4 454.6 L527.9 452.2"/>
<path class='h' d="M520.0 558.2 L571.6 532.6"/>
<path d="M520.0 561.4 L537.7 552.7"/>
<path class='hh' d="M520.0 534.6 L522.0 535.4"/>
<path class='h' d="M624.4 440.0 L640.6 488.5 L643.7 487.3 L646.5 493.2 L640.6 502.7 L630.9 511.3 L607.7 523.9"/>
<path d="M630.3 440.0 L643.2 479.4"/>
<ellipse class='h' cx="635.9" cy="500.1" rx="2.0" ry="3.0" transform="rotate(30 635.9 500.1)"/>
<ellipse class='h' cx="622.9" cy="507.4" rx="1.2" ry="1.8" transform="rotate(30 622.9 507.4)"/>
<path d="M641.8 489.3 C642.2 489.7 644.0 490.8 644.1 491.6 C644.3 492.4 642.8 493.8 642.6 494.2"/>
<path class='h' d="M646.1 445.9 L656.4 450.2 L654.0 455.4 L657.9 466.0 L656.0 471.9 L661.9 491.6 L671.7 494.4 L680.0 490.4"/>
<path d="M657.9 466.0 L680.0 456.2"/>
<path class='h' d="M661.9 480.4 L680.0 471.9"/>
<path d="M664.8 491.6 L680.0 483.7"/>
<path d="M656.0 471.9 L665.8 467.6"/>
<path d="M669.8 494.8 L673.7 491.6 L680.0 488.9"/>
<path d="M638.2 440.0 L650.0 446.9 L657.9 443.0"/>
<path d="M650.0 446.9 L651.0 453.8"/>
<ellipse class='hh' cx="654.0" cy="455.8" rx="2.0" ry="2.4"/>
<path d="M665.8 451.8 L669.8 453.8"/>
<circle class="k" cx="666.8" cy="459.7" r="0.6"/>
<circle class="k" cx="671.7" cy="443.9" r="0.6"/>
<path class='h' d="M677.6 440.0 L680.0 445.9"/>
<path d="M520.0 573.0 L549.6 600.0"/>
</g>
</g>
<g clip-path="url(#c7_3)">
<g clip-path="url(#c7_2)">
<g clip-path="url(#c7_1)">
<g clip-path="url(#c7_i)">
<path class='h' d="M371.4 568.0 L415.1 547.1"/>
<path d="M373.7 570.4 L416.7 549.9"/>
<path d="M419.1 528.4 L419.1 547.5 L415.1 549.5 L410.8 551.5 L410.8 556.0"/>
<path d="M416.7 529.4 L416.7 547.1"/>
<path class='h' d="M419.7 527.4 L490.0 494.3"/>
<path class='t' d="M422.6 529.4 L490.0 497.9"/>
<path class='h' d="M354.6 645.7 L399.0 624.0"/>
<path class='h' d="M434.4 605.5 L527.0 561.5"/>
<path class='t' d="M436.4 608.2 L527.0 565.1"/>
<path class='t' d="M355.6 642.7 L397.0 622.4"/>
<path style="fill:#fff;stroke:none" d="M358.4 549.3 L361.8 546.3 L367.7 539.4 L375.6 528.6 L382.5 521.7 L386.5 515.8 L389.4 512.8 L396.3 511.3 L405.2 516.7 L409.1 519.7 L409.6 523.6 L407.1 528.6 L403.2 532.5 L396.3 534.0 L389.4 536.0 L384.5 541.4 L378.6 550.2 L373.6 557.1 L372.2 563.1 L372.7 569.0 L372.2 556.7Z"/>
<path class='h' d="M372.7 569.0 L372.2 563.1 L373.6 557.1 L378.6 550.2 L384.5 541.4 L389.4 536.0 L396.3 534.0 L403.2 532.5 L407.1 528.6 L409.1 525.8 L409.6 523.6 L409.1 519.7 L405.2 516.7 L396.3 511.3 L392.4 511.6 L389.4 512.8"/>
<path class='h' d="M389.4 512.8 L386.5 515.8 L382.5 521.7 L375.6 528.6 L367.7 539.4 L361.8 546.3 L358.4 549.3"/>
<path d="M358.4 549.3 L372.2 556.7"/>
<path d="M408.0 519.6 L419.9 519.6 L448.2 506.2"/>
<path d="M408.4 526.7 L419.7 525.5"/>
<path d="M372.4 569.2 L363.1 574.7"/>
<path class='h' d="M330.0 546.2 L348.7 536.5"/>
<path d="M330.0 549.1 L345.8 541.6"/>
<path class='w h' d="M335.9 549.1 L342.2 546.0 L352.1 551.1 L352.9 561.3 L346.9 565.3 L337.1 559.4 L335.9 549.1"/>
<path d="M342.2 546.0 L343.0 557.0 L337.1 559.4"/>
<path d="M343.0 557.0 L352.9 561.3"/>
<ellipse class='h' cx="339.9" cy="553.4" rx="1.4" ry="1.8"/>
<ellipse class='h' cx="348.1" cy="557.0" rx="1.4" ry="1.8"/>
<ellipse class='hh' cx="333.9" cy="558.0" rx="1.8" ry="2.0"/>
<ellipse class='hh' cx="353.6" cy="569.2" rx="1.8" ry="2.0"/>
<ellipse class='hh' cx="371.4" cy="573.2" rx="1.8" ry="2.0"/>
<ellipse class='hh' cx="395.0" cy="560.9" rx="1.8" ry="2.0"/>
<ellipse class='hh' cx="416.7" cy="549.5" rx="1.8" ry="2.0"/>
<ellipse class='h' cx="465.6" cy="575.1" rx="2.4" ry="2.6"/>
<ellipse cx="465.6" cy="575.1" rx="1.2" ry="1.4"/>
<path class='h' d="M490.0 531.8 C488.7 532.7 484.4 534.4 482.1 537.3 C479.8 540.2 477.4 545.4 476.2 549.1 C475.0 552.8 474.5 556.0 474.8 559.4 C475.2 562.7 475.6 566.9 478.2 569.2 C480.7 571.5 488.0 572.5 490.0 573.2"/>
<path d="M490.0 539.3 C488.9 539.9 485.4 541.2 483.7 543.2 C482.0 545.2 480.6 548.5 479.8 551.1 C478.9 553.7 478.4 556.3 478.8 559.0 C479.1 561.6 481.2 565.5 481.7 566.8"/>
<path d="M475.8 555.0 L490.0 549.1"/>
<path d="M476.8 561.3 L490.0 556.0"/>
<path d="M479.8 566.8 L490.0 563.3"/>
<ellipse class='k' cx="483.7" cy="551.1" rx="1.6" ry="2.0"/>
<circle class="k" cx="473.4" cy="558.6" r="0.6"/>
<circle class="k" cx="483.7" cy="572.8" r="0.6"/>
<circle class="k" cx="482.7" cy="535.7" r="0.6"/>
<path class='h' d="M446.3 497.9 C447.9 498.9 454.6 502.1 456.1 503.8 C457.6 505.5 455.5 507.4 455.3 508.1"/>
<path d="M455.3 508.1 L419.9 525.9"/>
<ellipse class='w hh' cx="437.4" cy="500.8" rx="6.7" ry="7.5"/>
<ellipse class='h' cx="438.0" cy="501.2" rx="3.5" ry="4.1"/>
<ellipse class='k' cx="438.4" cy="501.4" rx="1.4" ry="1.6"/>
<path class='h' d="M422.6 502.2 C423.6 500.8 426.8 495.0 428.5 493.9 C430.2 492.9 433.1 493.9 432.9 495.9 C432.6 497.9 429.6 503.1 426.9 506.2 C424.3 509.2 418.7 512.7 417.1 514.0"/>
<path d="M416.7 501.8 C417.7 502.8 420.6 505.8 422.6 507.7 C424.6 509.7 428.5 511.7 428.5 513.6 C428.5 515.6 423.6 518.6 422.6 519.6"/>
<path d="M404.9 501.8 C406.2 501.2 410.5 497.9 412.8 497.9 C415.1 497.9 418.0 499.9 418.7 501.8 C419.3 503.8 418.3 507.7 416.7 509.7 C415.1 511.7 410.1 513.0 408.8 513.6"/>
<path d="M452.2 499.9 L490.0 481.7"/>
<path class='k' d="M349.7 493.9 L352.7 493.0 L352.9 496.3 L349.9 497.3Z"/>
<path class='k' d="M355.6 497.9 L358.6 496.9 L358.8 500.2 L355.8 501.2Z"/>
<path class='k' d="M361.5 492.0 L364.5 491.0 L364.7 494.3 L361.7 495.3Z"/>
<path class='k' d="M369.4 495.9 L372.4 494.9 L372.6 498.3 L369.6 499.3Z"/>
<path class='k' d="M375.3 492.0 L378.3 491.0 L378.5 494.3 L375.5 495.3Z"/>
<path class='k' d="M395.0 501.8 L398.0 500.8 L398.2 504.2 L395.2 505.2Z"/>
<path class='k' d="M399.0 495.9 L401.9 494.9 L402.1 498.3 L399.2 499.3Z"/>
<path class='k' d="M383.2 509.7 L386.2 508.7 L386.4 512.1 L383.4 513.1Z"/>
<path class='k' d="M379.3 515.6 L382.2 514.6 L382.4 518.0 L379.5 519.0Z"/>
<path class='k' d="M371.4 519.6 L374.3 518.6 L374.5 521.9 L371.6 522.9Z"/>
<path class='k' d="M367.4 523.5 L370.4 522.5 L370.6 525.9 L367.6 526.8Z"/>
<path class='k' d="M357.6 529.4 L360.5 528.4 L360.7 531.8 L357.8 532.8Z"/>
<path class='k' d="M353.6 534.3 L356.6 533.3 L356.8 536.7 L353.8 537.7Z"/>
<path class='k' d="M389.1 505.8 L392.1 504.8 L392.3 508.1 L389.3 509.1Z"/>
<path class='k' d="M393.1 493.9 L396.0 493.0 L396.2 496.3 L393.3 497.3Z"/>
<path class='k' d="M385.2 497.9 L388.1 496.9 L388.3 500.2 L385.4 501.2Z"/>
<path class='h' d="M330.0 519.6 C331.3 518.2 335.3 513.3 337.9 511.7 C340.5 510.0 343.5 509.4 345.8 509.7 C348.1 510.0 350.4 512.0 351.7 513.6 C353.0 515.3 353.3 518.6 353.6 519.6"/>
<path d="M333.9 523.5 C334.9 522.3 337.7 518.1 339.9 516.6 C342.0 515.1 344.9 514.5 346.7 514.6 C348.6 514.8 350.0 517.1 350.7 517.6"/>
<path d="M330.0 513.6 C331.0 512.7 333.6 509.7 335.9 507.7 C338.2 505.8 341.2 503.1 343.8 501.8 C346.4 500.5 350.4 500.2 351.7 499.9"/>
<path d="M330.0 537.3 L361.5 521.5 L389.1 507.7"/>
<path d="M330.0 540.2 L353.6 528.4"/>
<path d="M353.6 528.4 L357.6 534.3"/>
<path d="M351.7 513.6 C352.3 515.6 354.0 523.8 355.6 525.5 C357.3 527.1 359.9 525.1 361.5 523.5 C363.2 521.9 365.8 517.9 365.5 515.6 C365.1 513.3 360.5 510.7 359.6 509.7"/>
<path d="M402.9 501.8 C403.9 502.5 406.8 503.8 408.8 505.8 C410.8 507.7 413.4 511.0 414.7 513.6 C416.0 516.3 416.4 520.2 416.7 521.5"/>
</g>
</g>
</g>
</g>
<path class='hh' d="M229.8 505.5 C228.9 506.4 225.9 508.9 224.4 511.0 C222.8 513.2 221.7 515.7 220.7 518.4 C219.7 521.1 218.6 524.6 218.4 527.3 C218.3 530.0 219.0 532.3 219.8 534.7 C220.5 537.0 222.4 540.2 222.9 541.3"/>
<path class='h' d="M232.5 508.1 C231.7 509.2 229.1 512.3 227.9 514.7 C226.7 517.2 225.8 520.1 225.3 522.9 C224.8 525.6 224.5 528.4 224.8 531.0 C225.1 533.6 226.4 536.5 227.2 538.4 C227.9 540.2 229.0 541.5 229.4 542.1"/>
<path class='h' d="M237.5 514.7 C237.0 515.6 235.5 517.8 234.7 519.9 C233.9 522.0 232.8 524.8 232.5 527.3 C232.2 529.8 232.5 532.3 233.1 534.7 C233.7 537.0 235.5 540.2 236.0 541.3"/>
<path d="M234.6 512.5 C233.9 513.5 231.8 516.1 230.9 518.4 C229.9 520.8 229.0 523.8 228.8 526.6 C228.5 529.3 228.8 532.2 229.4 534.7 C230.0 537.1 231.8 540.2 232.3 541.3"/>
<path class='k' d="M227.2 512.5 L230.5 513.4 L228.5 516.9 L225.8 515.5Z"/>
<path class='k' d="M224.4 518.4 L228.5 519.9 L227.2 524.3 L223.5 523.6Z"/>
<path class='k' d="M221.6 527.3 L226.1 528.0 L225.7 533.2 L222.1 532.6Z"/>
<path class='k' d="M229.4 519.2 L232.5 520.5 L231.0 525.1 L228.5 524.3Z"/>
<path class='k' d="M223.5 536.2 L227.2 536.9 L228.6 541.3 L224.4 541.3Z"/>
<path class='k' d="M227.2 528.8 L230.1 529.4 L230.1 533.2 L227.5 532.9Z"/>
<path class='hh' d="M226.4 531.0 L223.5 531.7 L224.4 534.7"/>
<path class='hh' d="M229.4 514.7 L226.4 521.4"/>
<path class='hh' d="M227.2 525.1 L224.8 527.3"/>
<path class='hh' d="M230.9 504.2 L235.1 508.4"/>
<path class='h' d="M230.4 505.1 L234.6 509.4"/>
<path class='w hh' d="M228.2 502.8 L230.7 502.0 L232.3 503.5 L232.0 505.1 L229.7 505.7 L227.9 504.4Z"/>
<path class='hh' d="M221.6 513.4 L227.5 515.9"/>
<path class='h' d="M221.2 514.3 L226.9 516.9"/>
<path class='w hh' d="M219.0 511.9 L221.5 511.2 L223.1 512.7 L222.8 514.3 L220.4 514.9 L218.7 513.5Z"/>
<path class='hh' d="M217.6 527.4 L223.8 528.8"/>
<path class='h' d="M217.1 528.3 L223.3 529.8"/>
<path class='w hh' d="M214.9 526.0 L217.4 525.2 L219.0 526.7 L218.7 528.3 L216.4 528.9 L214.6 527.6Z"/>
<path class='h' d="M239.0 516.9 C238.8 518.2 238.4 521.6 238.1 524.3 C237.8 527.0 237.5 530.4 237.2 533.2 C237.0 536.0 236.7 540.0 236.6 541.3"/>
<path class='h' d="M236.0 488.5 C235.8 489.5 234.8 492.3 234.6 494.6 C234.4 496.9 234.3 499.4 234.8 502.3 C235.3 505.1 236.9 509.4 237.6 511.9 C238.3 514.4 238.8 516.4 239.0 517.3"/>
<path class='h' d="M257.0 482.3 C256.6 484.0 255.0 489.3 254.5 492.2 C254.1 495.0 254.3 498.3 254.3 499.6"/>
<path class='t' d="M236.0 490.0 L254.3 498.6"/>
<path class='h' d="M239.0 517.5 L231.5 570.0"/>
<path class='w h' d="M244.4 503.5 L247.6 500.8 L252.5 501.5 L254.5 503.3 L259.2 505.2 L261.2 507.2 L260.4 515.8 L256.7 519.5 L252.5 517.5 L245.6 515.6 L242.7 513.1 L244.4 503.5"/>
<path d="M252.5 501.5 L251.8 511.9 L252.5 517.5"/>
<path d="M245.6 511.9 L251.8 513.3"/>
<path d="M245.6 511.9 L245.6 515.6"/>
<ellipse class='h' cx="247.5" cy="505.7" rx="1.2" ry="1.5"/>
<ellipse class='h' cx="255.7" cy="509.7" rx="1.2" ry="1.5"/>
<ellipse class='hh' cx="267.8" cy="526.2" rx="2.2" ry="2.5"/>
<ellipse cx="267.8" cy="526.2" rx="1.0" ry="1.1"/>
<g clip-path="url(#c9_2)">
<g clip-path="url(#c9_1)">
<g clip-path="url(#c9_i)">
<path class='w h' d="M677.6 410.9 C678.1 410.0 678.6 406.8 680.5 405.0 C682.5 403.2 686.7 401.0 689.1 400.0 C691.5 399.0 693.3 398.8 695.0 399.1 C696.7 399.5 698.7 401.6 699.5 402.1"/>
<path class='h' d="M699.5 402.1 L714.2 410.3 L715.7 413.3 L714.5 416.8 L710.7 419.8 L710.7 443.4 L707.7 444.3 L706.8 448.2 L703.9 460.0"/>
<path class='h' d="M677.6 410.9 C677.3 413.9 675.9 423.3 676.1 428.7 C676.3 434.1 678.8 439.0 678.8 443.4 C678.8 447.9 677.8 452.5 676.1 455.3 C674.4 458.0 670.0 459.2 668.7 460.0"/>
<path d="M681.0 409.5 C680.8 412.7 679.5 423.0 679.7 428.7 C679.8 434.3 682.0 438.8 682.0 443.4 C682.0 448.1 680.9 454.0 679.7 456.7 C678.4 459.5 675.2 459.5 674.3 460.0"/>
<path d="M693.5 382.9 L694.4 399.1"/>
<path d="M683.2 385.8 L682.0 405.0"/>
<path d="M674.3 390.2 L674.3 431.6 L668.7 437.5"/>
<path class='w hh' d="M702.0 409.5 L705.8 408.0 L707.9 410.6 L704.9 413.3 L702.3 412.7Z"/>
<path class='h' d="M703.2 410.3 L705.8 409.8 L706.1 412.1"/>
<path class='w hh' d="M702.0 429.0 L705.8 427.5 L707.9 430.1 L704.9 432.8 L702.3 432.2Z"/>
<path class='h' d="M703.2 429.9 L705.8 429.3 L706.1 431.6"/>
<path class='h' d="M708.3 373.7 L711.6 374.7 L710.5 376.7"/>
<path class='h' d="M620.0 435.5 L624.1 437.4 L639.5 485.0 L662.9 492.7 L664.3 489.5 L656.2 473.2 L652.8 462.9 L650.3 450.3 L624.1 437.4"/>
<path d="M639.5 485.0 L642.2 486.8 L643.3 492.7 L646.0 489.8 L650.3 489.5"/>
<path class='h' d="M650.3 489.5 L642.2 499.8 L632.6 510.1 L620.0 518.3"/>
<ellipse class='h' cx="636.0" cy="500.5" rx="1.3" ry="2.4" transform="rotate(25 636.0 500.5)"/>
<ellipse class='h' cx="623.0" cy="507.2" rx="0.9" ry="1.5" transform="rotate(25 623.0 507.2)"/>
<ellipse class='h' cx="643.3" cy="489.5" rx="1.2" ry="2.7" transform="rotate(10 643.3 489.5)"/>
<path class='h' d="M634.0 420.0 L634.0 436.3 L636.3 439.2 L649.6 445.1 L651.9 451.0"/>
<path d="M642.2 420.0 L671.7 433.6 L673.5 420.0"/>
<path class='h' d="M651.9 447.5 L671.7 436.6 L675.0 431.8 L676.5 420.0"/>
<path class='hh' d="M636.3 439.2 L648.1 443.6 L649.6 448.1"/>
<ellipse class='h' cx="639.2" cy="431.8" rx="2.4" ry="3.8" transform="rotate(35 639.2 431.8)"/>
<ellipse cx="639.7" cy="431.8" rx="1.0" ry="1.9" transform="rotate(35 639.7 431.8)"/>
<path class='h' d="M708.7 420.0 L709.6 442.2 L706.0 443.6 L704.5 462.9 L700.7 467.3 L682.1 451.3"/>
<path class='hh' d="M709.6 442.2 L709.9 447.3"/>
<path class='h' d="M676.5 420.0 C676.6 422.5 677.2 429.9 677.0 434.8 C676.9 439.7 676.5 445.9 675.6 449.6 C674.7 453.3 673.1 455.2 671.7 456.9 C670.4 458.7 668.3 459.4 667.6 459.9"/>
<path d="M680.6 420.0 C680.6 423.0 681.1 432.6 680.9 437.7 C680.6 442.9 678.9 448.7 679.1 451.0 C679.4 453.3 681.8 451.5 682.4 451.6"/>
<path class='h' d="M653.3 462.9 L664.3 449.6 L682.1 451.3 L702.8 471.1 L696.8 476.5 L671.7 483.5 L664.3 482.1 L656.2 470.2"/>
<path d="M664.3 449.6 L671.7 456.9"/>
<path d="M668.8 479.9 C670.0 479.5 673.9 478.1 676.2 477.9 C678.4 477.8 682.8 478.2 682.1 479.1 C681.3 480.0 673.4 482.8 671.7 483.5"/>
<path class='h' d="M668.8 489.5 L693.9 478.5 L696.8 477.0 L695.4 480.9 L692.4 483.8 L671.7 494.2 L668.8 489.5"/>
<path d="M670.2 488.3 L693.2 477.3"/>
<path d="M682.1 483.8 L685.0 488.0"/>
<path d="M678.4 485.8 L680.3 489.5"/>
<ellipse class='hh' cx="686.8" cy="484.4" rx="1.3" ry="1.5"/>
<ellipse class='hh' cx="654.7" cy="455.8" rx="1.9" ry="2.1"/>
<ellipse class='h' cx="668.8" cy="453.7" rx="2.1" ry="1.2" transform="rotate(-25 668.8 453.7)"/>
<ellipse class='hh' cx="705.0" cy="430.6" rx="2.1" ry="2.2"/>
<circle class="k" cx="669.5" cy="443.3" r="0.6"/>
<path class='h' d="M654.7 467.3 L658.1 468.8 L658.7 471.7"/>
</g>
</g>
</g>
<path class='hh' d="M380.2 393.6 L396.0 386.9"/>
<path d="M386.1 392.1 C387.3 391.3 391.0 389.4 393.0 387.7 C395.0 386.0 397.1 382.8 397.9 381.8"/>
<path class='h' d="M264.8 495.4 L344.8 534.2"/>
<path d="M253.9 492.3 L255.5 495.8 L336.2 534.9"/>
<path class='h' d="M253.7 500.9 L254.9 504.6 L333.7 541.0"/>
<path class='h' d="M419.5 551.4 L502.0 511.0"/>
<path class='t' d="M533.7 379.0 L586.0 382.5"/>
<path d="M322.0 555.8 L412.0 486.8"/>
<g clip-path="url(#c11_2)">
<g clip-path="url(#c11_1)">
<g clip-path="url(#c11_i)">
<path class='t' d="M258.1 485.2 L301.0 464.5 L340.4 445.3"/>
<path class='h' d="M255.9 489.7 L309.9 469.6"/>
<path d="M264.0 493.5 C264.4 494.0 264.4 496.1 266.0 496.7 C267.6 497.4 271.3 497.9 273.6 497.6 C276.0 497.3 279.2 495.4 280.3 495.0"/>
<path d="M280.3 495.0 L301.0 483.2"/>
<path d="M274.4 498.5 L300.5 486.1"/>
<path d="M279.6 499.4 L303.2 509.8"/>
<path d="M284.3 502.1 L301.7 494.1"/>
<path d="M303.2 509.8 L318.9 502.4"/>
<path class='t' d="M286.9 503.8 L294.3 507.2"/>
<path class='w h' d="M301.0 475.5 L309.4 470.1 L315.0 471.9 L320.3 496.2 L321.2 502.1 L323.9 503.0 L323.3 516.8 L320.3 520.7"/>
<path d="M301.0 475.5 L301.7 508.3"/>
<path d="M318.9 502.4 L319.5 519.8"/>
<path d="M301.7 508.3 L304.7 509.5"/>
<path class='h' d="M304.1 488.8 C304.4 488.4 305.3 486.4 306.2 486.4 C307.0 486.4 308.1 487.3 309.1 488.8 C310.1 490.2 312.0 493.7 312.1 495.0 C312.1 496.3 310.4 496.9 309.4 496.5 C308.4 496.0 307.0 493.3 306.2 492.0 C305.3 490.7 304.4 489.3 304.1 488.8"/>
<path d="M304.1 493.2 L312.1 497.0 L312.1 505.0 L304.1 508.3 L304.1 493.2"/>
<circle class="k" cx="309.9" cy="499.9" r="0.4"/>
<circle class="k" cx="322.4" cy="509.5" r="0.4"/>
<ellipse class='hh' cx="297.3" cy="491.1" rx="1.9" ry="2.2"/>
<ellipse cx="297.3" cy="491.1" rx="0.7" ry="0.9"/>
<path class='h' d="M315.0 471.9 L340.4 459.2"/>
<path d="M316.8 477.2 L341.9 464.8"/>
<path class='h' d="M323.9 499.4 L347.8 488.8"/>
<path d="M321.2 502.1 L344.6 491.7"/>
<path d="M323.9 503.0 L332.8 499.1"/>
<path class='w h' d="M339.6 459.2 L348.4 455.4 L349.3 462.2 L341.6 466.6 L339.6 459.2"/>
<path class='h' d="M349.3 458.0 L370.0 447.7"/>
<path d="M349.3 462.2 L370.0 452.7"/>
<path class='hh' d="M326.8 479.3 L334.5 476.9"/>
<path class='hh' d="M316.8 467.8 L322.4 466.6"/>
<circle class="k" cx="352.0" cy="466.6" r="0.4"/>
<circle class="k" cx="354.2" cy="465.7" r="0.4"/>
<circle class="k" cx="356.4" cy="464.8" r="0.4"/>
<circle class="k" cx="344.6" cy="462.2" r="0.4"/>
<path class='h' d="M340.1 474.3 C340.5 473.8 341.2 472.4 342.5 471.6 C343.8 470.8 345.0 470.6 347.8 469.6 C350.6 468.5 355.7 466.8 359.4 465.4 C363.1 464.0 368.2 461.7 370.0 461.0"/>
<path d="M342.5 475.5 C342.9 475.1 343.5 474.0 344.6 473.4 C345.7 472.8 346.4 472.6 349.0 471.6 C351.6 470.6 356.6 468.9 360.1 467.5 C363.6 466.1 368.3 464.0 370.0 463.3"/>
<path class='h' d="M340.1 474.3 C340.9 476.0 342.6 481.7 344.6 484.3 C346.6 487.0 350.7 487.3 352.0 490.2 C353.3 493.2 352.2 500.1 352.3 502.1"/>
<path d="M342.5 475.5 C343.2 476.8 344.9 481.3 346.8 483.6 C348.7 485.9 352.9 486.6 354.2 489.5 C355.5 492.5 354.6 499.4 354.6 501.3"/>
<path class='h' d="M328.4 523.0 C329.1 521.8 330.9 517.8 332.8 515.6 C334.7 513.4 337.2 511.2 339.7 509.7 C342.2 508.2 345.3 507.2 347.6 506.7 C349.9 506.3 352.0 506.8 353.5 507.2 C355.0 507.7 356.1 509.0 356.7 509.3"/>
<path class='t' d="M329.9 524.0 C330.5 522.8 332.2 518.9 334.0 516.8 C335.8 514.6 338.2 512.5 340.5 511.1 C342.8 509.7 345.8 508.7 348.0 508.3 C350.1 507.9 352.6 508.7 353.5 508.7"/>
<path class='t' d="M331.6 524.7 C332.3 523.6 333.9 520.0 335.6 518.0 C337.2 516.0 339.5 514.0 341.7 512.7 C343.8 511.3 346.6 510.5 348.6 510.1 C350.5 509.7 352.5 510.3 353.3 510.3"/>
<path class='h' d="M333.3 525.7 C333.9 524.6 335.4 521.3 336.9 519.4 C338.5 517.5 340.6 515.5 342.7 514.2 C344.7 513.0 347.4 512.1 349.2 511.7 C351.0 511.3 352.8 511.8 353.5 511.9"/>
<path class='h' d="M337.7 529.2 C338.1 528.2 339.0 525.0 340.2 523.0 C341.4 521.0 343.3 518.7 345.1 517.1 C346.9 515.5 349.1 514.2 351.0 513.2 C353.0 512.1 355.7 511.3 356.7 510.9"/>
<path d="M328.4 523.0 L337.7 529.2"/>
<path d="M337.7 529.2 L344.6 531.4 L348.8 527.4"/>
<path class='k' d="M340.2 517.6 L342.9 516.8 L343.6 519.6 L341.1 520.3Z"/>
<path class='k' d="M334.8 522.5 L336.7 521.9 L337.3 524.5 L335.4 525.1Z"/>
<path class='h' d="M356.7 509.3 C357.4 509.2 359.6 508.8 361.4 508.7 C363.2 508.7 365.6 508.6 367.3 508.9 C368.9 509.3 370.1 510.1 371.2 510.9 C372.3 511.7 373.4 513.2 373.8 513.6"/>
<path d="M356.7 510.9 C357.1 511.6 359.2 514.0 359.4 515.4 C359.6 516.9 357.9 518.9 357.6 519.6"/>
<circle class="k" cx="363.5" cy="514.8" r="0.3"/>
<path d="M354.2 475.5 L362.3 471.8 L370.0 474.0"/>
<path d="M354.2 475.5 L354.2 506.5"/>
<path class='h' d="M360.1 474.0 L360.1 502.1"/>
<path class='h' d="M365.3 474.7 L365.3 499.1"/>
<path class='k' d="M354.9 478.7 L359.4 477.8 L359.4 481.1 L354.9 482.0Z"/>
<path class='k' d="M361.1 476.9 L364.7 476.1 L364.7 480.5 L361.1 481.4Z"/>
<path class='k' d="M355.2 484.3 L359.4 483.4 L359.4 487.3 L355.2 488.2Z"/>
<path class='k' d="M360.8 484.3 L364.7 483.4 L364.7 487.0 L360.8 487.9Z"/>
<path class='k' d="M355.7 491.0 L359.5 490.1 L359.5 494.5 L355.7 495.4Z"/>
<path class='k' d="M361.1 490.2 L364.7 489.4 L364.7 493.5 L361.1 494.4Z"/>
<path class='k' d="M355.2 498.4 L359.7 497.5 L359.7 501.3 L355.2 502.2Z"/>
<path class='k' d="M361.6 496.9 L365.4 496.0 L365.4 499.9 L361.6 500.7Z"/>
<path class='k' d="M366.2 478.7 L369.1 477.8 L369.1 481.7 L366.2 482.6Z"/>
<path class='k' d="M366.5 485.8 L369.4 484.9 L369.4 489.4 L366.5 490.2Z"/>
<path class='k' d="M366.7 493.2 L369.4 492.3 L369.4 496.2 L366.7 497.0Z"/>
<path d="M352.0 502.1 L356.4 506.5 L362.3 505.0"/>
<path class='h' d="M353.4 528.7 C354.2 529.7 356.2 533.1 357.9 534.6 C359.6 536.1 361.8 537.5 363.8 537.5 C365.8 537.5 369.0 535.1 370.0 534.6"/>
<path d="M352.0 534.6 C352.7 535.6 354.7 539.0 356.4 540.5 C358.1 542.0 361.3 543.0 362.3 543.4"/>
<path class='h' d="M362.3 528.7 L370.0 525.0"/>
<path class='hh' d="M359.4 533.1 L368.2 528.7"/>
<path class='w h' d="M337.5 548.6 L342.8 546.7 L344.6 548.6 L349.3 550.5 L352.0 552.3 L351.4 560.0"/>
<path d="M342.8 546.7 L342.2 560.0"/>
<ellipse class='h' cx="340.1" cy="552.3" rx="1.2" ry="1.8"/>
<ellipse class='h' cx="347.8" cy="556.0" rx="1.2" ry="1.8"/>
</g>
</g>
</g>
<g clip-path="url(#c12_i)">
<path d="M340.0 444.4 L357.7 437.4 L368.4 443.6 L349.2 450.3"/>
<circle class="k" cx="353.6" cy="449.6" r="0.5"/>
<circle class="k" cx="360.7" cy="447.5" r="0.5"/>
<path class='h' d="M340.0 458.7 L348.9 455.2 L349.8 462.9 L340.9 466.7"/>
<path class='h' d="M340.0 458.7 L340.0 466.7"/>
<path class='h' d="M349.8 457.8 L393.2 439.2"/>
<path d="M349.8 462.9 L374.3 452.5"/>
<path d="M340.0 471.7 L350.3 467.3"/>
<path d="M340.0 475.0 L348.9 471.0"/>
<circle class="k" cx="351.8" cy="467.0" r="0.4"/>
<circle class="k" cx="354.2" cy="466.1" r="0.4"/>
<circle class="k" cx="356.6" cy="465.2" r="0.4"/>
<ellipse class='k' cx="362.5" cy="457.7" rx="0.9" ry="1.0"/>
<path class='h' d="M402.1 420.0 L400.6 436.3"/>
<path class='h' d="M416.8 420.0 C416.5 421.7 415.4 427.6 414.6 430.3 C413.9 433.1 413.3 434.8 412.4 436.6 C411.6 438.3 410.0 440.2 409.5 441.0"/>
<path d="M340.0 428.9 L340.0 428.9"/>
<ellipse class='w h' cx="401.5" cy="442.2" rx="6.2" ry="3.8"/>
<ellipse class='h' cx="401.5" cy="441.0" rx="3.8" ry="2.2"/>
<ellipse class='k' cx="401.5" cy="440.7" rx="1.8" ry="1.0"/>
<path d="M395.3 442.5 L395.6 446.3"/>
<path d="M407.7 442.5 L407.4 446.3"/>
<path class='h' d="M395.6 446.3 C396.6 446.7 399.5 448.7 401.5 448.7 C403.4 448.7 406.4 446.7 407.4 446.3"/>
<path class='h' d="M371.3 472.0 C372.6 471.7 377.1 469.8 378.7 470.2 C380.3 470.7 380.5 472.8 380.8 475.0 C381.0 477.2 380.9 481.1 380.2 483.5 C379.5 486.0 377.0 488.7 376.4 489.8"/>
<path d="M371.3 472.0 L371.3 489.5"/>
<path d="M384.3 468.8 C385.1 468.5 387.5 466.7 388.8 467.0 C390.0 467.2 391.2 469.7 391.7 470.2"/>
<path class='h' d="M354.8 476.2 L354.8 504.2"/>
<path class='h' d="M369.6 473.2 L369.6 502.8"/>
<path d="M374.9 449.6 L374.9 468.8"/>
<path class='h' d="M382.9 446.6 L382.9 467.3"/>
<path class='h' d="M391.7 445.9 L391.7 464.3"/>
<path d="M400.6 448.1 L400.6 462.9"/>
<path d="M409.5 448.1 L409.5 461.4"/>
<path d="M374.9 468.8 C375.5 469.1 376.8 471.0 378.4 471.0 C380.0 471.0 383.3 469.1 384.3 468.8"/>
<path d="M384.3 480.6 L384.3 496.8"/>
<path class='h' d="M394.1 475.0 L394.1 490.9"/>
<path class='h' d="M404.4 469.7 L404.4 485.0"/>
<path class='h' d="M442.0 428.9 C442.2 430.1 442.5 434.0 443.4 436.3 C444.4 438.5 446.4 440.7 447.9 442.2 C449.4 443.6 450.3 444.4 452.3 445.1 C454.3 445.9 458.7 446.4 460.0 446.6"/>
<path d="M444.6 428.3 C444.9 429.5 445.2 433.3 446.1 435.4 C447.0 437.4 448.7 439.4 450.0 440.7 C451.2 442.0 452.1 442.5 453.8 443.1 C455.5 443.6 459.0 444.0 460.0 444.2"/>
<path d="M434.6 424.4 L452.3 417.0"/>
<ellipse class='k' cx="435.5" cy="465.8" rx="1.3" ry="1.2"/>
<path d="M416.8 468.8 L434.6 461.4"/>
<path d="M419.8 472.0 L437.5 464.3"/>
<path d="M422.8 475.0 L443.4 466.1"/>
<ellipse class='h' cx="406.8" cy="499.8" rx="5.3" ry="4.4" transform="rotate(-25 406.8 499.8)"/>
<ellipse class='h' cx="407.4" cy="499.8" rx="3.0" ry="2.4" transform="rotate(-25 407.4 499.8)"/>
<ellipse class='k' cx="407.7" cy="500.0" rx="1.2" ry="1.0"/>
<path d="M399.1 502.8 C399.9 503.5 401.6 506.6 403.5 507.2 C405.5 507.8 408.7 507.2 410.9 506.5 C413.2 505.7 415.9 503.4 416.8 502.8"/>
<ellipse class='w hh' cx="438.7" cy="500.7" rx="6.2" ry="6.5"/>
<ellipse class='h' cx="439.3" cy="501.0" rx="3.8" ry="4.1"/>
<ellipse class='k' cx="439.6" cy="501.1" rx="1.6" ry="1.8"/>
<ellipse class='w hh' cx="429.3" cy="496.8" rx="3.3" ry="3.8"/>
<ellipse class='h' cx="429.3" cy="496.8" rx="1.2" ry="1.5"/>
<path class='h' d="M426.9 499.8 C426.5 500.8 425.4 503.7 424.2 505.7 C423.1 507.7 421.5 510.1 419.8 511.6 C418.1 513.1 414.9 514.1 413.9 514.6"/>
<path class='h' d="M430.4 501.0 C430.0 502.0 429.2 505.1 428.1 507.2 C426.9 509.3 425.3 511.8 423.6 513.4 C422.0 515.0 419.2 516.2 418.3 516.8"/>
<path d="M416.8 502.8 C417.8 503.5 420.8 506.9 422.8 507.2 C424.7 507.4 427.7 504.7 428.7 504.2"/>
<path class='h' d="M443.4 496.8 C444.4 496.8 447.1 495.9 449.4 496.8 C451.6 497.8 455.0 501.5 456.7 502.8 C458.5 504.0 459.5 504.0 460.0 504.2"/>
<path d="M445.2 504.2 C446.4 504.5 449.9 505.0 452.3 505.7 C454.8 506.5 458.7 508.2 460.0 508.7"/>
<path d="M443.4 493.9 L446.4 496.8"/>
<path style="stroke-width:1.7" d="M354.7 502.1L359.4 503.6"/>
<path style="stroke-width:1.0" d="M357.1 487.0L359.7 491.2"/>
<path style="stroke-width:1.8" d="M367.0 478.5L367.3 480.1"/>
<path style="stroke-width:2.3" d="M359.1 479.9L363.5 477.7"/>
<path style="stroke-width:2.3" d="M359.4 495.3L362.1 497.4"/>
<path style="stroke-width:2.0" d="M355.1 494.1L357.9 495.0"/>
<path style="stroke-width:1.8" d="M367.8 497.6Q368.0 497.3 370.2 494.6"/>
<path style="stroke-width:1.2" d="M361.5 474.9Q363.2 476.6 362.3 479.3"/>
<path style="stroke-width:1.3" d="M366.8 487.4Q366.1 490.1 367.8 489.4"/>
<path style="stroke-width:1.8" d="M364.2 484.6L364.2 487.3"/>
<path style="stroke-width:1.7" d="M364.6 501.7L370.3 501.0"/>
<path style="stroke-width:1.9" d="M359.9 502.5L363.8 500.6"/>
<path class="k" d="M355.3 479.3L358.0 480.7L358.0 484.1L355.3 482.8Z"/>
<path style="stroke-width:1.5" d="M360.5 498.7Q361.2 499.4 364.6 499.9"/>
<path style="stroke-width:1.2" d="M356.6 482.5Q357.0 482.1 358.7 479.4"/>
<path style="stroke-width:2.4" d="M357.5 480.7Q358.8 478.3 360.9 479.8"/>
<path style="stroke-width:1.0" d="M361.5 486.8L365.4 486.8"/>
<path style="stroke-width:1.1" d="M367.4 495.3Q366.9 497.4 369.7 496.1"/>
<path style="stroke-width:1.1" d="M359.3 473.9L360.4 479.2"/>
<path style="stroke-width:1.1" d="M356.5 503.9L358.9 503.4"/>
<path style="stroke-width:1.5" d="M369.1 491.6L371.2 494.6"/>
<path style="stroke-width:1.9" d="M358.1 481.8L358.3 484.3"/>
<path style="stroke-width:1.1" d="M367.5 497.0Q371.5 495.6 372.3 496.5"/>
<path style="stroke-width:1.3" d="M367.7 492.4L367.9 494.4"/>
<path style="stroke-width:1.6" d="M366.7 497.6L369.6 498.0"/>
<path style="stroke-width:1.8" d="M355.6 473.4L358.2 476.4"/>
<path style="stroke-width:2.1" d="M359.8 481.2L362.3 482.4"/>
<path style="stroke-width:1.8" d="M354.3 476.3Q356.2 475.7 358.4 473.5"/>
<path style="stroke-width:2.1" d="M356.7 500.9L358.3 504.6"/>
<path class="k" d="M367.0 482.5L369.1 483.6L369.1 485.2L367.0 484.1Z"/>
<path style="stroke-width:2.4" d="M365.4 480.6L369.1 484.9"/>
<path style="stroke-width:1.5" d="M354.9 478.5Q355.5 477.5 358.5 479.0"/>
<path class="k" d="M361.0 501.8L364.0 503.3L364.0 505.1L361.0 503.5Z"/>
<path style="stroke-width:1.9" d="M359.1 482.7L361.0 483.4"/>
<path style="stroke-width:1.1" d="M355.1 477.4Q356.9 478.1 357.6 480.5"/>
<path style="stroke-width:1.5" d="M367.9 486.9L368.8 491.8"/>
<path class="k" d="M366.2 477.4L368.0 478.3L368.0 481.8L366.2 480.9Z"/>
<path style="stroke-width:1.8" d="M355.5 489.8L357.8 490.5"/>
<path style="stroke-width:2.0" d="M365.7 501.5Q367.9 500.5 370.5 502.2"/>
<path style="stroke-width:1.6" d="M365.5 495.1Q366.8 496.2 368.5 496.9"/>
<path style="stroke-width:2.0" d="M357.5 488.3L358.0 489.8"/>
<path style="stroke-width:1.9" d="M363.4 475.1Q363.0 475.9 366.5 476.5"/>
<path style="stroke-width:1.7" d="M361.8 496.3Q363.0 495.5 364.9 494.3"/>
<path class="k" d="M359.5 495.2L361.1 496.0L361.1 498.7L359.5 497.9Z"/>
<path style="stroke-width:1.8" d="M356.2 499.2Q358.3 499.6 358.8 500.3"/>
<path style="stroke-width:1.4" d="M355.1 475.2Q356.5 476.3 357.4 475.3"/>
<path style="stroke-width:1.7" d="M367.1 480.8Q366.1 482.2 367.0 486.8"/>
<path style="stroke-width:2.4" d="M364.9 472.5L370.0 474.9"/>
<path class="k" d="M368.5 487.0L370.7 488.1L370.7 489.9L368.5 488.8Z"/>
<path class="k" d="M365.1 486.1L367.2 485.0L367.2 487.1L365.1 488.2Z"/>
<path class="k" d="M359.2 477.1L361.2 478.1L361.2 480.3L359.2 479.3Z"/>
<path style="stroke-width:2.2" d="M369.1 485.7L369.0 489.4"/>
<path style="stroke-width:1.1" d="M406.2 463.3L408.5 464.2"/>
<path style="stroke-width:1.0" d="M393.5 452.4L395.1 452.3"/>
<path style="stroke-width:1.3" d="M385.6 452.8Q385.4 452.6 387.8 452.4"/>
<path style="stroke-width:2.3" d="M386.9 458.7L389.8 454.9"/>
<path style="stroke-width:2.0" d="M404.6 454.0L406.4 449.5"/>
<path style="stroke-width:1.9" d="M392.6 456.0L397.7 456.1"/>
<path style="stroke-width:1.3" d="M408.2 451.5Q410.8 450.3 411.9 451.9"/>
<path style="stroke-width:2.2" d="M407.9 448.1L412.6 450.0"/>
<path style="stroke-width:2.0" d="M392.8 460.7L395.6 459.3"/>
<path class="k" d="M405.3 451.4L408.5 449.8L408.5 453.6L405.3 455.2Z"/>
<path style="stroke-width:2.1" d="M373.7 462.2Q375.4 462.4 378.9 460.1"/>
<path class="k" d="M376.3 452.0L377.8 451.2L377.8 453.0L376.3 453.7Z"/>
<path class="k" d="M375.0 463.5L377.0 462.5L377.0 465.9L375.0 466.9Z"/>
<path class="k" d="M403.3 457.1L406.0 455.7L406.0 459.0L403.3 460.4Z"/>
<path style="stroke-width:1.4" d="M386.0 459.3L389.4 460.6"/>
<path style="stroke-width:1.9" d="M384.5 452.0Q382.9 453.1 384.5 454.5"/>
<path style="stroke-width:1.4" d="M397.6 451.5L397.1 454.5"/>
<path style="stroke-width:1.2" d="M399.2 463.2L400.9 462.0"/>
<path style="stroke-width:1.6" d="M382.0 469.7Q383.6 469.9 384.5 469.1"/>
<path style="stroke-width:1.2" d="M404.5 460.9L407.3 464.9"/>
<path class="k" d="M380.4 456.7L382.1 455.9L382.1 457.4L380.4 458.3Z"/>
<path style="stroke-width:2.3" d="M399.0 452.7L402.4 457.1"/>
<path style="stroke-width:1.8" d="M388.6 457.6L394.0 455.9"/>
<path class="k" d="M400.5 455.7L404.0 457.5L404.0 459.3L400.5 457.5Z"/>
<path style="stroke-width:1.1" d="M383.9 472.0Q386.6 472.8 387.1 471.0"/>
<path style="stroke-width:1.4" d="M398.6 455.0L400.2 455.4"/>
<path class="k" d="M382.7 456.1L385.0 454.9L385.0 458.1L382.7 459.2Z"/>
<path class="k" d="M404.1 453.1L405.8 453.9L405.8 455.6L404.1 454.8Z"/>
<path style="stroke-width:1.2" d="M399.1 467.7L401.5 462.4"/>
<path style="stroke-width:1.4" d="M392.4 465.3Q393.3 466.9 394.2 470.3"/>
<path style="stroke-width:1.8" d="M390.0 461.6L392.2 462.3"/>
<path style="stroke-width:1.3" d="M409.2 462.9L411.5 461.2"/>
<path style="stroke-width:2.4" d="M398.3 453.5L404.0 455.4"/>
<path style="stroke-width:2.0" d="M387.4 446.7L386.8 450.2"/>
<path style="stroke-width:2.0" d="M395.3 445.8L398.4 444.7"/>
<path style="stroke-width:2.3" d="M375.4 447.6Q377.1 449.9 376.9 450.9"/>
<path style="stroke-width:1.0" d="M382.3 458.1L383.7 462.2"/>
<path class="k" d="M399.9 466.3L403.4 468.0L403.4 471.2L399.9 469.4Z"/>
<path style="stroke-width:1.8" d="M375.6 467.7L380.4 464.8"/>
<path style="stroke-width:2.4" d="M401.1 454.6Q399.1 455.7 401.1 457.0"/>
<path style="stroke-width:1.6" d="M405.6 463.5L409.2 459.2"/>
<path style="stroke-width:2.2" d="M397.2 449.8L399.7 453.3"/>
<path style="stroke-width:1.7" d="M374.8 455.9Q374.3 457.7 377.5 456.8"/>
<path style="stroke-width:1.8" d="M395.5 448.6L397.5 445.6"/>
<path style="stroke-width:2.2" d="M375.6 465.7Q377.6 466.1 378.5 467.3"/>
<path style="stroke-width:1.6" d="M394.0 466.9Q394.3 469.2 396.3 467.8"/>
<path style="stroke-width:1.5" d="M378.3 464.8L378.6 467.9"/>
<path style="stroke-width:1.9" d="M394.2 466.2L393.5 469.6"/>
<path class="k" d="M387.0 443.8L388.9 444.8L388.9 447.8L387.0 446.9Z"/>
<path style="stroke-width:1.5" d="M378.0 446.9L380.8 451.3"/>
<path style="stroke-width:2.2" d="M411.2 454.0L410.7 458.9"/>
<path style="stroke-width:1.4" d="M385.5 458.4L385.8 462.0"/>
<path style="stroke-width:1.0" d="M391.8 442.4L391.4 444.5"/>
<path style="stroke-width:2.2" d="M387.3 468.3L389.3 470.5"/>
<path style="stroke-width:1.1" d="M395.4 452.6Q394.4 454.4 395.8 458.2"/>
<path style="stroke-width:1.1" d="M388.5 449.4L393.0 447.7"/>
<path style="stroke-width:2.1" d="M400.1 458.1Q399.9 461.2 399.6 461.5"/>
<path style="stroke-width:2.1" d="M387.0 464.1L388.0 465.5"/>
<path style="stroke-width:2.4" d="M407.0 456.8L410.5 458.7"/>
<path style="stroke-width:1.6" d="M404.8 455.0L410.3 454.9"/>
<path style="stroke-width:2.1" d="M378.5 468.1Q377.1 469.0 379.0 471.0"/>
<path style="stroke-width:1.3" d="M399.8 446.2L401.6 441.0"/>
<path style="stroke-width:1.0" d="M394.7 446.2L397.9 443.8"/>
<path class="k" d="M387.5 457.2L389.7 456.1L389.7 457.6L387.5 458.8Z"/>
<path style="stroke-width:1.9" d="M382.5 455.9L385.2 454.7"/>
<path style="stroke-width:1.2" d="M411.3 454.5L411.3 459.7"/>
<path style="stroke-width:2.1" d="M380.9 445.4L381.0 448.7"/>
<path style="stroke-width:2.0" d="M395.6 456.4L397.3 454.6"/>
<path class="k" d="M396.0 447.0L398.7 445.7L398.7 448.6L396.0 450.0Z"/>
<path style="stroke-width:1.3" d="M401.1 463.7Q402.9 463.5 406.1 461.7"/>
<path style="stroke-width:1.6" d="M378.6 450.8L382.0 450.9"/>
<path class="k" d="M392.2 461.3L395.1 459.9L395.1 462.0L392.2 463.5Z"/>
<path style="stroke-width:2.2" d="M381.4 449.0L383.7 453.3"/>
<path style="stroke-width:2.1" d="M411.1 453.4L414.3 452.0"/>
<path style="stroke-width:1.9" d="M386.6 444.9L388.3 440.9"/>
<path class="k" d="M401.2 450.3L404.5 448.7L404.5 450.9L401.2 452.5Z"/>
<path style="stroke-width:2.0" d="M394.7 467.2Q395.6 464.4 395.9 463.8"/>
<path style="stroke-width:1.7" d="M379.1 466.5L381.9 463.2"/>
<path style="stroke-width:1.5" d="M383.3 472.1L388.5 469.8"/>
<path style="stroke-width:1.2" d="M387.4 453.8L391.8 453.0"/>
<path style="stroke-width:1.4" d="M388.0 451.9Q387.8 454.5 391.2 456.8"/>
<path style="stroke-width:1.6" d="M407.5 461.0L411.2 458.2"/>
<path style="stroke-width:2.0" d="M376.8 458.7Q376.1 456.6 379.3 454.7"/>
<path style="stroke-width:1.8" d="M386.0 456.9Q387.5 457.3 387.6 458.1"/>
<path style="stroke-width:2.1" d="M378.9 452.3L380.2 448.5"/>
<path style="stroke-width:1.9" d="M377.7 449.1L378.0 454.8"/>
<path style="stroke-width:1.9" d="M408.4 457.7Q411.6 456.8 411.1 455.6"/>
<path style="stroke-width:1.6" d="M374.3 461.4L377.7 461.5"/>
<path style="stroke-width:2.3" d="M405.0 462.3Q405.2 461.2 408.9 461.2"/>
<path class="k" d="M383.7 457.9L386.6 459.4L386.6 461.1L383.7 459.6Z"/>
<path style="stroke-width:2.1" d="M395.5 447.3Q395.7 448.6 398.9 447.9"/>
<path style="stroke-width:1.2" d="M380.5 468.3L382.1 464.4"/>
<path style="stroke-width:1.6" d="M374.3 461.6L375.5 463.9"/>
<path class="k" d="M390.9 449.1L393.9 450.7L393.9 454.4L390.9 452.8Z"/>
<path style="stroke-width:1.4" d="M384.7 467.0L387.4 467.0"/>
<path style="stroke-width:1.0" d="M391.3 482.9L392.3 481.4"/>
<path style="stroke-width:2.3" d="M414.3 478.9L414.5 481.0"/>
<path class="k" d="M388.9 495.7L392.0 497.3L392.0 500.7L388.9 499.1Z"/>
<path style="stroke-width:1.6" d="M399.3 485.8L402.0 490.1"/>
<path class="k" d="M416.0 467.5L417.9 468.5L417.9 472.2L416.0 471.3Z"/>
<path style="stroke-width:2.3" d="M402.3 482.5L406.7 481.2"/>
<path style="stroke-width:2.2" d="M388.0 491.9L390.0 493.2"/>
<path style="stroke-width:1.6" d="M385.9 488.9Q386.6 491.6 386.5 492.3"/>
<path style="stroke-width:1.4" d="M394.4 482.2Q397.5 481.7 399.8 484.9"/>
<path style="stroke-width:2.0" d="M414.0 476.9Q418.5 478.0 419.3 476.6"/>
<path style="stroke-width:1.4" d="M391.9 484.6Q394.2 487.1 394.3 485.7"/>
<path style="stroke-width:1.7" d="M394.3 474.6L395.1 478.8"/>
<path style="stroke-width:1.0" d="M393.5 488.7L398.8 486.3"/>
<path style="stroke-width:1.5" d="M406.4 472.7L406.6 475.6"/>
<path style="stroke-width:1.2" d="M392.0 477.3L396.4 476.1"/>
<path style="stroke-width:1.8" d="M407.1 472.3L407.9 474.0"/>
<path style="stroke-width:1.3" d="M407.9 469.3L408.7 474.1"/>
<path class="k" d="M393.1 490.2L396.6 488.4L396.6 490.6L393.1 492.4Z"/>
<path style="stroke-width:1.2" d="M414.1 474.6Q416.6 474.6 416.7 476.3"/>
<path style="stroke-width:1.3" d="M394.8 476.7L397.0 479.3"/>
<path style="stroke-width:2.1" d="M400.7 483.8L403.5 481.6"/>
<path class="k" d="M416.2 478.4L418.7 479.7L418.7 481.5L416.2 480.2Z"/>
<path class="k" d="M417.3 468.1L420.8 466.3L420.8 469.0L417.3 470.8Z"/>
<path style="stroke-width:1.9" d="M389.4 489.5L389.2 491.1"/>
<path style="stroke-width:2.2" d="M391.9 484.0L394.1 479.3"/>
<path style="stroke-width:1.9" d="M409.6 479.7L409.8 482.8"/>
<path style="stroke-width:2.1" d="M395.8 489.0Q399.0 490.3 398.6 492.3"/>
<path style="stroke-width:2.3" d="M390.6 485.0L395.4 482.4"/>
<path class="k" d="M392.7 479.6L395.9 481.2L395.9 484.2L392.7 482.6Z"/>
<path class="k" d="M388.3 489.7L390.0 490.6L390.0 492.3L388.3 491.5Z"/>
<path style="stroke-width:1.8" d="M412.8 470.6L416.4 466.0"/>
<path style="stroke-width:1.3" d="M384.4 490.1Q388.9 489.5 389.3 487.8"/>
<path style="stroke-width:1.5" d="M398.5 486.7L401.5 488.0"/>
<path style="stroke-width:1.6" d="M384.9 478.0L387.1 483.5"/>
<path style="stroke-width:1.7" d="M408.4 467.6L409.0 471.3"/>
<path style="stroke-width:1.3" d="M415.2 467.3L415.1 470.3"/>
<path style="stroke-width:2.4" d="M417.8 472.2L419.7 475.9"/>
<path style="stroke-width:1.2" d="M411.0 472.2L415.3 469.6"/>
<path style="stroke-width:1.1" d="M398.0 484.6L403.9 483.4"/>
<path style="stroke-width:2.2" d="M386.8 485.1Q387.7 485.7 389.3 484.4"/>
<path style="stroke-width:1.6" d="M414.0 472.4L414.6 475.4"/>
<path style="stroke-width:2.2" d="M389.9 482.4Q390.5 483.3 391.7 484.7"/>
<path style="stroke-width:1.6" d="M402.9 471.0L402.6 474.1"/>
<path style="stroke-width:1.2" d="M413.8 465.9L413.5 469.8"/>
<path style="stroke-width:1.2" d="M396.3 485.5L396.0 490.3"/>
<path style="stroke-width:1.6" d="M385.9 480.8Q385.6 481.0 388.0 484.6"/>
<path style="stroke-width:2.1" d="M392.5 487.8Q392.2 491.5 391.8 491.3"/>
<path style="stroke-width:1.6" d="M387.5 483.3L389.7 484.1"/>
<path class="k" d="M402.7 483.0L404.8 482.0L404.8 485.3L402.7 486.3Z"/>
<path style="stroke-width:1.4" d="M413.0 476.6L416.2 481.2"/>
<path class="k" d="M411.3 472.0L414.2 470.6L414.2 472.6L411.3 474.0Z"/>
<path style="stroke-width:1.9" d="M406.8 476.4Q406.6 477.8 407.6 481.4"/>
<path style="stroke-width:2.0" d="M385.7 480.5Q387.1 483.1 385.9 483.5"/>
<path class="k" d="M390.4 487.3L392.6 488.4L392.6 491.7L390.4 490.6Z"/>
<path style="stroke-width:1.7" d="M387.7 480.5Q388.7 481.4 390.1 480.8"/>
<path class="k" d="M399.4 479.3L401.4 480.3L401.4 483.7L399.4 482.7Z"/>
<path class="k" d="M402.8 483.9L404.3 484.7L404.3 486.6L402.8 485.9Z"/>
<path class="k" d="M388.3 479.4L390.2 480.4L390.2 482.3L388.3 481.3Z"/>
<path class="k" d="M401.8 485.2L404.6 483.8L404.6 486.4L401.8 487.7Z"/>
<path style="stroke-width:1.7" d="M399.0 478.2L400.4 477.3"/>
<path style="stroke-width:1.5" d="M414.4 473.5Q414.3 473.2 417.9 471.0"/>
<path style="stroke-width:1.0" d="M391.4 489.3Q395.2 489.5 395.0 491.1"/>
<path class="k" d="M435.7 425.4L438.1 424.2L438.1 427.8L435.7 429.0Z"/>
<path style="stroke-width:1.9" d="M455.7 461.3L458.5 462.2"/>
<path class="k" d="M454.2 464.5L456.9 463.1L456.9 466.2L454.2 467.6Z"/>
<path style="stroke-width:2.2" d="M452.2 445.3L457.0 447.9"/>
<path style="stroke-width:2.1" d="M436.3 448.0Q436.3 451.3 436.6 450.7"/>
<path style="stroke-width:1.6" d="M440.9 450.8Q441.2 451.1 440.4 453.2"/>
<path style="stroke-width:2.2" d="M432.6 457.5L435.6 457.1"/>
<path style="stroke-width:1.6" d="M429.9 448.0Q431.7 450.0 432.0 448.9"/>
<path style="stroke-width:1.2" d="M456.9 457.4L459.4 455.9"/>
<path style="stroke-width:1.6" d="M453.3 463.5Q454.0 465.8 455.5 464.4"/>
<path style="stroke-width:2.3" d="M450.2 436.1Q449.6 437.6 452.4 437.1"/>
<path style="stroke-width:2.4" d="M442.4 469.4Q443.9 470.5 445.1 469.4"/>
<path style="stroke-width:1.3" d="M434.6 471.2L437.9 469.4"/>
<path class="k" d="M445.8 440.1L447.7 441.1L447.7 442.7L445.8 441.7Z"/>
<path class="k" d="M429.1 464.0L430.7 463.2L430.7 466.8L429.1 467.6Z"/>
<path style="stroke-width:1.3" d="M458.8 439.2L460.5 438.4"/>
<path style="stroke-width:2.1" d="M454.6 468.7L457.3 465.2"/>
<path style="stroke-width:2.4" d="M445.8 453.2L446.4 454.9"/>
<path style="stroke-width:1.7" d="M453.7 424.6L458.1 423.2"/>
<path style="stroke-width:2.2" d="M435.3 438.3Q437.3 439.2 436.8 437.9"/>
<path style="stroke-width:2.1" d="M453.3 447.9L456.8 445.5"/>
<path style="stroke-width:1.7" d="M449.3 465.9L453.3 467.0"/>
<path style="stroke-width:1.5" d="M442.9 424.3Q446.1 424.3 445.6 424.8"/>
<path style="stroke-width:1.9" d="M434.8 457.2L436.1 458.7"/>
<path style="stroke-width:1.3" d="M439.5 443.0Q441.7 440.1 441.3 437.9"/>
<path style="stroke-width:2.2" d="M452.0 424.6Q453.8 424.1 451.8 427.6"/>
<path class="k" d="M426.6 452.0L428.3 452.9L428.3 456.2L426.6 455.3Z"/>
<path style="stroke-width:2.4" d="M438.7 444.2L443.2 446.1"/>
<path style="stroke-width:2.3" d="M445.8 451.5L448.2 448.3"/>
<path style="stroke-width:1.9" d="M436.2 449.5Q435.9 448.9 438.8 451.2"/>
<path style="stroke-width:1.9" d="M452.0 424.1L452.6 429.1"/>
<path style="stroke-width:1.0" d="M456.1 434.0L456.2 435.6"/>
<path style="stroke-width:1.7" d="M451.2 459.6L455.1 460.9"/>
<path style="stroke-width:2.2" d="M455.8 457.5Q458.7 458.7 459.2 458.6"/>
<path style="stroke-width:1.4" d="M451.9 454.8Q453.4 454.6 456.3 453.5"/>
<path style="stroke-width:1.6" d="M459.4 464.2L460.3 466.9"/>
<path style="stroke-width:2.3" d="M428.3 465.4L431.5 465.5"/>
<path style="stroke-width:1.9" d="M455.2 448.6L458.3 450.6"/>
<path style="stroke-width:1.2" d="M441.4 419.6L446.7 421.7"/>
<path style="stroke-width:2.1" d="M445.9 446.2Q449.0 444.9 448.4 446.9"/>
<path style="stroke-width:2.3" d="M430.9 462.2L430.5 466.7"/>
<path style="stroke-width:1.3" d="M447.1 447.5Q448.8 446.8 450.4 447.0"/>
<path style="stroke-width:1.5" d="M423.7 464.8L429.1 465.2"/>
<path class="k" d="M458.4 425.3L461.7 423.6L461.7 427.0L458.4 428.7Z"/>
<path style="stroke-width:2.3" d="M454.9 447.5L458.0 444.0"/>
<path style="stroke-width:2.3" d="M433.3 464.0Q435.6 464.3 436.8 461.5"/>
<path style="stroke-width:2.2" d="M443.7 429.8L446.7 431.8"/>
<path style="stroke-width:1.1" d="M458.0 420.3L460.0 418.0"/>
<path style="stroke-width:1.5" d="M438.0 447.9L441.6 445.1"/>
<path style="stroke-width:1.4" d="M439.2 465.7L441.2 464.2"/>
<path style="stroke-width:1.2" d="M448.7 434.2L450.2 437.1"/>
<path style="stroke-width:1.2" d="M438.6 447.9Q441.8 449.0 441.9 446.6"/>
<path style="stroke-width:1.4" d="M429.7 456.0L432.1 459.6"/>
<path class="k" d="M431.3 466.4L434.4 464.8L434.4 466.5L431.3 468.1Z"/>
<path style="stroke-width:1.7" d="M442.4 453.5Q444.1 454.7 447.1 456.3"/>
<path class="k" d="M459.6 426.0L462.9 427.7L462.9 429.4L459.6 427.8Z"/>
<path style="stroke-width:2.3" d="M429.2 446.1L434.3 449.2"/>
<path style="stroke-width:1.5" d="M448.8 459.9L451.6 460.7"/>
<path style="stroke-width:1.1" d="M444.3 435.8Q446.0 438.4 444.1 437.6"/>
<path style="stroke-width:1.2" d="M446.4 432.3L447.3 430.0"/>
<path style="stroke-width:1.1" d="M440.8 443.9Q440.6 445.2 442.7 448.5"/>
<path style="stroke-width:1.2" d="M442.8 425.6Q444.9 426.3 443.0 429.5"/>
<path style="stroke-width:2.1" d="M445.1 435.1Q449.5 434.9 450.0 433.7"/>
<path style="stroke-width:1.8" d="M447.0 440.0Q446.2 439.8 448.8 442.4"/>
<path style="stroke-width:2.0" d="M445.0 421.2Q446.7 421.5 448.9 419.5"/>
<path style="stroke-width:2.2" d="M437.6 431.2L437.0 436.8"/>
<path style="stroke-width:1.8" d="M441.7 435.9L443.9 435.4"/>
<path class="k" d="M439.7 461.7L442.5 460.3L442.5 462.3L439.7 463.7Z"/>
<path style="stroke-width:2.3" d="M424.2 456.1L426.9 454.7"/>
<path class="k" d="M421.7 462.2L423.6 463.1L423.6 466.0L421.7 465.1Z"/>
<path class="k" d="M438.9 463.8L441.4 462.5L441.4 464.7L438.9 465.9Z"/>
<path style="stroke-width:2.3" d="M453.7 433.6L457.3 431.5"/>
<path style="stroke-width:2.3" d="M425.6 455.0L430.1 452.2"/>
<path style="stroke-width:1.4" d="M427.2 466.4L428.7 466.8"/>
<path style="stroke-width:1.8" d="M437.0 420.1L436.7 423.9"/>
<path style="stroke-width:1.8" d="M448.5 433.9L452.4 435.2"/>
<path style="stroke-width:1.3" d="M445.7 456.9L445.7 460.8"/>
<path style="stroke-width:1.8" d="M444.2 447.5L447.7 445.3"/>
<path class="k" d="M447.8 467.9L449.7 468.9L449.7 472.6L447.8 471.6Z"/>
<path style="stroke-width:1.4" d="M446.1 444.9L450.2 446.7"/>
<path style="stroke-width:1.4" d="M451.8 431.8L451.9 437.7"/>
<path class="k" d="M455.0 453.9L458.5 455.6L458.5 458.0L455.0 456.3Z"/>
<path style="stroke-width:2.1" d="M434.8 450.4Q433.6 449.2 435.9 451.9"/>
<path style="stroke-width:1.7" d="M458.2 440.6L461.3 440.3"/>
<path class="k" d="M442.9 446.9L444.7 445.9L444.7 448.5L442.9 449.4Z"/>
<path class="k" d="M450.0 422.0L451.8 422.9L451.8 425.4L450.0 424.5Z"/>
<path style="stroke-width:2.3" d="M448.9 463.7Q452.0 466.2 451.6 465.7"/>
<path style="stroke-width:1.3" d="M458.7 460.4L459.7 463.4"/>
<path style="stroke-width:1.3" d="M438.4 459.9L443.0 457.9"/>
<path style="stroke-width:2.2" d="M454.4 439.5L459.5 442.0"/>
<path style="stroke-width:1.4" d="M432.9 465.5L435.5 463.7"/>
<path style="stroke-width:2.0" d="M443.0 449.9Q442.5 453.7 441.9 455.5"/>
<path style="stroke-width:1.3" d="M450.2 463.8L452.7 467.3"/>
<path style="stroke-width:1.5" d="M457.2 464.8Q457.5 463.8 459.2 463.2"/>
<path style="stroke-width:1.9" d="M427.0 461.0Q430.3 458.1 431.2 458.8"/>
<path class="k" d="M444.5 426.4L446.4 425.5L446.4 428.8L444.5 429.8Z"/>
<path style="stroke-width:2.0" d="M456.4 443.1L460.0 445.0"/>
<path class="k" d="M433.4 451.3L435.4 452.3L435.4 454.0L433.4 453.0Z"/>
<path style="stroke-width:1.7" d="M454.8 419.7L457.3 420.5"/>
<path style="stroke-width:2.2" d="M420.7 461.6L424.6 464.3"/>
<path style="stroke-width:1.9" d="M436.2 460.9L437.8 461.5"/>
<path style="stroke-width:1.4" d="M455.7 440.7Q456.6 442.8 458.3 444.3"/>
<path style="stroke-width:2.3" d="M452.8 431.7L457.6 433.3"/>
<path style="stroke-width:2.2" d="M447.7 436.9L447.6 439.3"/>
<path style="stroke-width:1.6" d="M429.9 462.4L432.1 460.9"/>
<path style="stroke-width:2.2" d="M434.8 458.3L433.9 463.1"/>
<path class="k" d="M429.6 468.1L432.7 466.6L432.7 470.3L429.6 471.8Z"/>
<path style="stroke-width:1.8" d="M449.2 439.6L449.0 444.7"/>
<path style="stroke-width:1.4" d="M448.1 435.7Q450.3 437.7 451.2 437.7"/>
<path style="stroke-width:1.4" d="M455.1 468.1L457.1 465.2"/>
<path style="stroke-width:1.6" d="M453.6 454.6Q455.3 454.2 457.3 452.4"/>
<path style="stroke-width:2.1" d="M430.0 432.4L433.8 431.0"/>
<path style="stroke-width:2.1" d="M449.5 459.7Q448.0 463.1 450.1 464.7"/>
<path style="stroke-width:2.0" d="M436.6 436.3Q436.3 436.2 436.7 438.0"/>
<path style="stroke-width:1.1" d="M424.1 456.7L429.1 456.5"/>
<path class="k" d="M440.5 458.7L443.4 457.2L443.4 460.6L440.5 462.1Z"/>
<path style="stroke-width:1.6" d="M455.4 455.7L456.9 455.3"/>
<path class="k" d="M459.2 466.9L461.0 467.8L461.0 470.2L459.2 469.3Z"/>
<path style="stroke-width:2.0" d="M441.0 466.1L443.3 467.4"/>
<path class="k" d="M457.1 426.3L459.3 427.4L459.3 429.5L457.1 428.4Z"/>
<path style="stroke-width:2.3" d="M432.7 497.2L436.3 496.5"/>
<path style="stroke-width:1.4" d="M428.4 485.8L430.4 484.3"/>
<path class="k" d="M434.3 482.1L437.7 480.5L437.7 482.5L434.3 484.1Z"/>
<path class="k" d="M419.4 486.6L422.7 485.0L422.7 487.9L419.4 489.6Z"/>
<path class="k" d="M423.8 487.8L425.6 488.7L425.6 490.3L423.8 489.4Z"/>
<path style="stroke-width:1.4" d="M440.7 491.6L441.2 494.7"/>
<path class="k" d="M420.0 490.4L422.0 491.4L422.0 495.1L420.0 494.1Z"/>
<path style="stroke-width:1.9" d="M437.9 489.0L442.0 486.8"/>
<path style="stroke-width:1.7" d="M417.1 486.4L418.5 483.6"/>
<path style="stroke-width:1.8" d="M416.7 484.4Q416.2 486.0 417.1 490.1"/>
<path style="stroke-width:1.1" d="M425.8 484.1L428.9 485.5"/>
<path class="k" d="M417.4 489.5L420.7 491.2L420.7 493.3L417.4 491.7Z"/>
<path style="stroke-width:1.6" d="M419.5 490.2Q419.0 493.6 419.5 493.0"/>
<path class="k" d="M430.4 487.2L432.5 488.3L432.5 491.6L430.4 490.5Z"/>
<path class="k" d="M425.7 493.2L427.8 494.2L427.8 497.0L425.7 496.0Z"/>
<path style="stroke-width:1.9" d="M427.3 496.5L431.9 498.8"/>
<path style="stroke-width:2.2" d="M423.9 492.3L426.9 496.7"/>
<path class="k" d="M431.0 491.8L434.3 493.4L434.3 497.1L431.0 495.4Z"/>
<path style="stroke-width:1.9" d="M434.4 489.0L437.8 489.2"/>
<path class="k" d="M435.0 496.4L436.8 495.4L436.8 498.0L435.0 498.9Z"/>
<path style="stroke-width:1.2" d="M418.3 496.3L424.0 494.8"/>
<path style="stroke-width:1.8" d="M429.8 490.1Q431.5 490.2 430.0 494.4"/>
<path style="stroke-width:2.4" d="M425.6 484.8L429.0 486.8"/>
<path style="stroke-width:1.6" d="M421.8 484.6L425.9 487.8"/>
<path class="k" d="M435.2 488.0L437.9 486.6L437.9 489.4L435.2 490.8Z"/>
<path class="k" d="M425.5 500.5L427.2 499.6L427.2 502.4L425.5 503.3Z"/>
<path style="stroke-width:1.4" d="M424.0 499.0L425.3 501.2"/>
<path style="stroke-width:1.7" d="M429.1 488.4Q430.8 488.8 431.6 489.7"/>
<path style="stroke-width:1.3" d="M421.8 498.7L425.4 496.9"/>
<path style="stroke-width:2.0" d="M421.2 490.8Q424.4 490.1 425.5 491.0"/>
<path style="stroke-width:2.0" d="M430.0 487.5L433.1 486.9"/>
<path class="k" d="M432.2 495.5L435.1 497.0L435.1 498.9L432.2 497.5Z"/>
<path style="stroke-width:1.7" d="M438.0 491.4L441.3 487.3"/>
<path style="stroke-width:1.4" d="M427.7 497.9L430.9 496.6"/>
<path style="stroke-width:1.8" d="M429.8 490.6Q430.7 491.3 429.7 494.0"/>
<path class="k" d="M427.3 490.8L429.1 489.9L429.1 492.8L427.3 493.7Z"/>
<path style="stroke-width:1.8" d="M402.2 507.0L404.2 507.5"/>
<path class="k" d="M402.7 499.1L405.2 500.3L405.2 502.3L402.7 501.0Z"/>
<path style="stroke-width:1.1" d="M395.2 502.0L398.8 504.1"/>
<path style="stroke-width:1.1" d="M397.4 498.9Q401.4 499.3 402.2 497.0"/>
<path style="stroke-width:1.7" d="M395.7 500.1Q399.0 500.1 400.9 501.7"/>
<path class="k" d="M397.9 501.8L399.8 500.8L399.8 504.3L397.9 505.2Z"/>
<path style="stroke-width:1.4" d="M395.7 496.3L399.9 497.0"/>
<path style="stroke-width:2.4" d="M397.9 497.1Q399.4 497.2 401.3 494.8"/>
<path style="stroke-width:2.1" d="M395.7 506.0L398.2 501.4"/>
<path style="stroke-width:1.6" d="M398.2 504.6L402.5 506.1"/>
<path style="stroke-width:2.3" d="M399.4 498.9Q400.6 499.5 402.4 497.0"/>
<path style="stroke-width:1.7" d="M400.4 500.3L402.8 496.2"/>
<path class="k" d="M400.3 499.8L403.7 501.6L403.7 504.5L400.3 502.8Z"/>
<path style="stroke-width:1.0" d="M399.3 499.0L398.7 501.7"/>
<path style="stroke-width:3.3;stroke:#000" d="M408.9 448.7 C410.3 447.8 414.1 445.0 417.4 443.6 C420.7 442.3 425.3 441.1 428.7 440.7 C432.1 440.3 434.8 441.5 437.8 441.3 C440.8 441.0 443.0 440.0 446.7 439.2 C450.4 438.4 457.8 436.7 460.0 436.3"/>
<path style="stroke-width:1.5;stroke:#fff" d="M408.9 448.7 C410.3 447.8 414.1 445.0 417.4 443.6 C420.7 442.3 425.3 441.1 428.7 440.7 C432.1 440.3 434.8 441.5 437.8 441.3 C440.8 441.0 443.0 440.0 446.7 439.2 C450.4 438.4 457.8 436.7 460.0 436.3"/>
<path style="stroke-width:3.3;stroke:#000" d="M344.1 479.9 C344.4 479.0 344.4 476.5 345.6 475.0 C346.8 473.4 348.6 472.1 351.2 470.7 C353.9 469.2 357.5 467.9 361.4 466.3 C365.3 464.7 372.4 461.9 374.6 461.1"/>
<path style="stroke-width:1.5;stroke:#fff" d="M344.1 479.9 C344.4 479.0 344.4 476.5 345.6 475.0 C346.8 473.4 348.6 472.1 351.2 470.7 C353.9 469.2 357.5 467.9 361.4 466.3 C365.3 464.7 372.4 461.9 374.6 461.1"/>
<path style="stroke-width:3.3;stroke:#000" d="M344.1 479.9 C344.9 480.8 347.2 483.7 348.6 485.6 C350.0 487.6 351.6 488.7 352.4 491.5 C353.2 494.3 353.2 500.6 353.3 502.5"/>
<path style="stroke-width:1.5;stroke:#fff" d="M344.1 479.9 C344.9 480.8 347.2 483.7 348.6 485.6 C350.0 487.6 351.6 488.7 352.4 491.5 C353.2 494.3 353.2 500.6 353.3 502.5"/>
<path style="stroke-width:3.7;stroke:#000" d="M372.5 496.6 C373.4 495.1 375.2 491.0 378.1 487.8 C381.0 484.7 384.7 481.3 389.8 477.6 C394.9 474.0 403.1 469.1 408.7 466.0 C414.3 462.8 418.1 461.0 423.5 458.6 C428.9 456.2 435.1 453.5 441.2 451.5 C447.3 449.4 456.9 447.0 460.0 446.2"/>
<path style="stroke-width:1.9;stroke:#fff" d="M372.5 496.6 C373.4 495.1 375.2 491.0 378.1 487.8 C381.0 484.7 384.7 481.3 389.8 477.6 C394.9 474.0 403.1 469.1 408.7 466.0 C414.3 462.8 418.1 461.0 423.5 458.6 C428.9 456.2 435.1 453.5 441.2 451.5 C447.3 449.4 456.9 447.0 460.0 446.2"/>
<path style="stroke-width:3.1;stroke:#000" d="M435.8 465.5 C436.1 466.7 436.7 470.2 437.5 472.9 C438.4 475.6 439.9 479.3 440.8 481.5 C441.7 483.7 442.8 485.4 443.2 486.2"/>
<path style="stroke-width:1.3;stroke:#fff" d="M435.8 465.5 C436.1 466.7 436.7 470.2 437.5 472.9 C438.4 475.6 439.9 479.3 440.8 481.5 C441.7 483.7 442.8 485.4 443.2 486.2"/>
<path class='h' d="M470.3 417.2 L469.5 419.4 L459.1 423.8 L454.7 422.4 L450.2 419.4 L447.3 420.9 L444.3 415.7 L441.4 418.7 L436.9 426.1 L434.3 432.0"/>
<path class='hh' d="M443.2 427.5 C443.3 429.5 443.4 436.4 444.3 439.4 C445.3 442.4 448.0 444.5 448.8 445.6"/>
<path class='h' d="M447.6 429.0 C447.8 430.6 448.0 436.2 448.8 438.6 C449.5 441.1 451.5 442.9 452.0 443.8"/>
<path d="M450.2 432.0 L482.8 418.7"/>
<path d="M451.7 436.4 L484.2 421.9"/>
<path class='h' d="M328.4 523.0 C329.1 521.8 330.9 517.8 332.8 515.6 C334.7 513.4 337.2 511.2 339.7 509.7 C342.2 508.2 345.3 507.2 347.6 506.7 C349.9 506.3 352.0 506.8 353.5 507.2 C355.0 507.7 356.1 509.0 356.7 509.3"/>
<path class='t' d="M329.9 524.0 C330.5 522.8 332.2 518.9 334.0 516.8 C335.8 514.6 338.2 512.5 340.5 511.1 C342.8 509.7 345.8 508.7 348.0 508.3 C350.1 507.9 352.6 508.7 353.5 508.7"/>
<path class='t' d="M331.6 524.7 C332.3 523.6 333.9 520.0 335.6 518.0 C337.2 516.0 339.5 514.0 341.7 512.7 C343.8 511.3 346.6 510.5 348.6 510.1 C350.5 509.7 352.5 510.3 353.3 510.3"/>
<path class='h' d="M333.3 525.7 C333.9 524.6 335.4 521.3 336.9 519.4 C338.5 517.5 340.6 515.5 342.7 514.2 C344.7 513.0 347.4 512.1 349.2 511.7 C351.0 511.3 352.8 511.8 353.5 511.9"/>
<path class='h' d="M337.7 529.2 C338.1 528.2 339.0 525.0 340.2 523.0 C341.4 521.0 343.3 518.7 345.1 517.1 C346.9 515.5 349.1 514.2 351.0 513.2 C353.0 512.1 355.7 511.3 356.7 510.9"/>
<path d="M328.4 523.0 L337.7 529.2"/>
<path d="M337.7 529.2 L344.6 531.4 L348.8 527.4"/>
<path class='k' d="M340.2 517.6 L342.9 516.8 L343.6 519.6 L341.1 520.3Z"/>
<path class='k' d="M334.8 522.5 L336.7 521.9 L337.3 524.5 L335.4 525.1Z"/>
<path class='h' d="M356.7 509.3 C357.4 509.2 359.6 508.8 361.4 508.7 C363.2 508.7 365.6 508.6 367.3 508.9 C368.9 509.3 370.1 510.1 371.2 510.9 C372.3 511.7 373.4 513.2 373.8 513.6"/>
<path d="M356.7 510.9 C357.1 511.6 359.2 514.0 359.4 515.4 C359.6 516.9 357.9 518.9 357.6 519.6"/>
<circle class="k" cx="363.5" cy="514.8" r="0.3"/>
<path class='t' d="M455.0 494.5 L460.0 492.1"/>
<path class='t' d="M455.0 500.6 L460.0 498.2"/>
<path class='h' d="M455.0 503.8 L460.0 501.4"/>
<path class='h' d="M455.0 494.5 C454.6 495.1 453.2 496.6 452.8 498.0 C452.4 499.4 452.4 501.5 452.8 503.0 C453.2 504.5 454.1 506.0 455.0 507.0 C455.9 508.0 457.5 508.8 458.0 509.2"/>
<path style="fill:#fff;stroke:none" d="M358.4 549.3 L361.8 546.3 L367.7 539.4 L375.6 528.6 L382.5 521.7 L386.5 515.8 L389.4 512.8 L396.3 511.3 L405.2 516.7 L409.1 519.7 L409.6 523.6 L407.1 528.6 L403.2 532.5 L396.3 534.0 L389.4 536.0 L384.5 541.4 L378.6 550.2 L373.6 557.1 L372.2 563.1 L372.7 569.0 L372.2 556.7Z"/>
<path class='h' d="M372.7 569.0 L372.2 563.1 L373.6 557.1 L378.6 550.2 L384.5 541.4 L389.4 536.0 L396.3 534.0 L403.2 532.5 L407.1 528.6 L409.1 525.8 L409.6 523.6 L409.1 519.7 L405.2 516.7 L396.3 511.3 L392.4 511.6 L389.4 512.8"/>
<path class='h' d="M389.4 512.8 L386.5 515.8 L382.5 521.7 L375.6 528.6 L367.7 539.4 L361.8 546.3 L358.4 549.3"/>
<path d="M358.4 549.3 L372.2 556.7"/>
<path d="M408.4 526.7 L419.7 525.5"/>
<path d="M408.0 519.6 L419.9 519.6 L448.2 506.2"/>
<path d="M419.1 528.4 L419.1 547.5"/>
<path d="M416.7 529.4 L416.7 547.1"/>
<path class='h' d="M419.7 527.4 L490.0 494.3"/>
<path class="k" d="M374.4 515.6L376.9 516.9L376.9 518.5L374.4 517.2Z"/>
<path style="stroke-width:1.5" d="M368.1 522.6L369.8 522.8"/>
<path class="k" d="M366.8 523.0L368.4 523.8L368.4 525.7L366.8 524.9Z"/>
<path style="stroke-width:1.2" d="M384.6 505.4L386.7 502.9"/>
<path style="stroke-width:1.4" d="M383.9 507.2L385.3 506.8"/>
<path style="stroke-width:1.4" d="M364.2 519.8L367.4 522.0"/>
<path style="stroke-width:1.1" d="M387.4 511.1Q385.9 513.4 387.9 513.6"/>
<path class="k" d="M376.8 511.5L379.2 512.6L379.2 515.0L376.8 513.8Z"/>
<path style="stroke-width:1.8" d="M371.8 526.6L375.0 524.9"/>
<path style="stroke-width:1.1" d="M375.1 517.5Q374.1 516.3 375.8 516.3"/>
<path style="stroke-width:1.1" d="M354.7 536.0L355.8 534.2"/>
<path style="stroke-width:1.2" d="M357.4 539.0L360.7 539.6"/>
<path style="stroke-width:1.4" d="M353.7 534.1L353.8 535.9"/>
<path style="stroke-width:1.2" d="M358.7 524.2Q357.3 524.1 358.3 526.4"/>
<path style="stroke-width:1.1" d="M357.0 531.3Q359.8 530.8 358.7 534.1"/>
<path style="stroke-width:1.4" d="M376.3 520.5Q375.0 521.5 377.5 518.7"/>
<path style="stroke-width:1.1" d="M370.1 522.7Q370.8 525.9 371.5 526.1"/>
<path class="k" d="M385.5 506.9L388.3 505.5L388.3 507.3L385.5 508.7Z"/>
<path style="stroke-width:1.2" d="M364.1 521.4Q363.0 521.6 365.2 522.2"/>
<path style="stroke-width:1.1" d="M390.1 508.1Q389.2 509.7 391.7 510.0"/>
<path style="stroke-width:1.4" d="M356.6 529.0L356.8 530.6"/>
<path class="k" d="M353.9 536.6L356.8 538.0L356.8 540.0L353.9 538.6Z"/>
<path style="stroke-width:1.8" d="M381.5 516.1L382.7 516.7"/>
<path style="stroke-width:1.6" d="M393.7 505.3L395.4 504.8"/>
<path style="stroke-width:1.6" d="M374.3 521.0L374.5 522.3"/>
<path class="k" d="M353.4 535.4L356.7 537.1L356.7 539.6L353.4 538.0Z"/>
<path style="stroke-width:1.0" d="M369.6 528.2L370.8 527.8"/>
<path style="stroke-width:1.1" d="M366.6 521.5Q365.2 520.7 367.8 521.0"/>
<path class="k" d="M390.4 509.6L392.6 510.7L392.6 512.4L390.4 511.3Z"/>
<path style="stroke-width:1.7" d="M360.4 522.9L360.2 526.1"/>
<path style="stroke-width:1.4" d="M355.0 530.6L358.0 529.6"/>
<path class="k" d="M367.0 519.1L368.5 518.3L368.5 521.0L367.0 521.8Z"/>
<path style="stroke-width:1.6" d="M371.8 521.8L373.9 523.1"/>
<path class="k" d="M360.4 531.4L363.3 532.8L363.3 535.4L360.4 534.0Z"/>
<path style="stroke-width:1.1" d="M351.7 538.2Q352.1 538.6 354.5 537.0"/>
<path class="k" d="M363.7 523.8L365.3 523.0L365.3 525.1L363.7 525.9Z"/>
<path style="stroke-width:1.4" d="M361.8 523.3Q361.4 521.6 364.2 520.1"/>
<path style="stroke-width:1.3" d="M383.4 511.5L384.9 511.3"/>
<path style="stroke-width:1.3" d="M356.5 538.6Q358.3 537.2 357.4 539.9"/>
<path style="stroke-width:1.3" d="M354.5 538.0L355.8 538.5"/>
<path style="stroke-width:1.5" d="M352.5 538.6L353.7 537.9"/>
<path style="stroke-width:1.8" d="M356.3 538.9L356.6 541.2"/>
<path class="k" d="M379.4 512.4L382.8 514.1L382.8 515.9L379.4 514.2Z"/>
<path style="stroke-width:1.4" d="M360.9 529.8L361.9 531.6"/>
<path style="stroke-width:1.6" d="M358.2 537.9L360.1 536.9"/>
<path class="k" d="M387.0 509.0L390.4 507.3L390.4 509.7L387.0 511.4Z"/>
<path style="stroke-width:1.3" d="M392.9 507.0L395.9 504.8"/>
<path style="stroke-width:1.2" d="M351.0 538.1Q351.6 538.5 354.9 538.7"/>
<path style="stroke-width:1.4" d="M384.6 509.3L387.0 511.1"/>
<path style="stroke-width:1.5" d="M384.1 505.3Q384.1 504.7 385.7 504.4"/>
<path style="stroke-width:1.2" d="M379.9 509.1L382.4 508.6"/>
<path class="k" d="M361.8 536.8L364.6 535.4L364.6 538.3L361.8 539.7Z"/>
<path class="k" d="M392.2 503.0L395.0 501.7L395.0 504.1L392.2 505.5Z"/>
<path class="k" d="M382.5 513.5L384.2 512.7L384.2 514.6L382.5 515.4Z"/>
<path style="stroke-width:1.7" d="M356.8 539.5L359.5 537.8"/>
<path style="stroke-width:1.2" d="M366.1 530.7L368.2 533.1"/>
<path style="stroke-width:1.1" d="M378.4 510.4L379.2 511.3"/>
<path style="stroke-width:1.8" d="M361.4 530.0Q362.4 531.8 361.5 532.1"/>
<path class="k" d="M352.6 534.2L355.6 535.7L355.6 538.3L352.6 536.8Z"/>
<path style="stroke-width:1.7" d="M385.7 506.7L388.8 505.7"/>
<path class='t' d="M349.6 533.3 L389.0 499.9"/>
<path class='t' d="M353.5 539.8 L394.9 504.8"/>
</g>
<g clip-path="url(#c13_1)">
<g clip-path="url(#c13_i)">
<path class='h' d="M650.0 220.0 L690.0 340.0 L700.0 470.0"/>
<path class='h' d="M521.8 370.7 L532.9 378.1 L534.6 388.4 L535.8 398.8 L534.9 412.1 L532.9 423.9 L526.9 438.7 L519.6 447.5 L509.2 456.4"/>
<path class='h' d="M521.8 370.7 L519.6 379.6 L512.2 423.9 L509.2 456.4"/>
<path d="M520.4 379.6 L513.1 423.9 L510.7 453.4"/>
<path class='t' d="M533.7 379.0 L586.1 382.5"/>
<path class='t' d="M536.7 398.2 L590.5 401.1"/>
<path class='t' d="M537.3 399.7 L591.4 402.6"/>
<path class='h' d="M556.5 402.6 C555.7 403.1 552.8 404.0 551.5 405.6 C550.1 407.1 548.9 409.9 548.5 412.1 C548.1 414.3 548.3 417.0 549.1 418.9 C550.0 420.7 552.8 422.6 553.5 423.3"/>
<path class='h' d="M588.0 390.0 L592.4 401.2 L602.0 400.3 L603.1 390.0"/>
<path d="M592.4 401.8 L592.4 419.0"/>
<path d="M594.6 401.8 L594.6 419.6"/>
<path d="M597.1 402.4 L597.1 420.7"/>
<path d="M600.5 403.0 L600.5 421.9"/>
<path d="M593.9 437.6 L593.9 510.0"/>
<path d="M596.1 436.7 L596.1 510.0"/>
<path d="M598.3 436.1 L598.3 510.0"/>
<path d="M601.0 435.2 L601.0 506.7"/>
<ellipse class='w h' cx="562.4" cy="415.0" rx="6.7" ry="7.7" transform="rotate(15 562.4 415.0)"/>
<ellipse class='h' cx="563.3" cy="415.3" rx="4.3" ry="5.0" transform="rotate(15 563.3 415.3)"/>
<path class='h' d="M520.0 452.8 L589.5 418.4"/>
<path class='t' d="M520.0 463.4 L601.0 423.7"/>
<path class='t' d="M520.0 469.4 L607.2 426.4"/>
<path class='h' d="M520.0 472.2 L608.4 429.3"/>
<path class='h' d="M520.0 476.0 L600.5 435.5"/>
<path class='h' d="M589.5 418.4 C591.4 419.1 598.0 421.3 601.0 422.5 C603.9 423.7 606.0 424.6 607.2 425.8 C608.4 426.9 608.6 428.1 608.4 429.3 C608.1 430.5 607.0 431.8 605.7 432.9 C604.4 433.9 601.4 435.1 600.5 435.5"/>
<path d="M526.7 452.8 L533.3 449.1 L538.6 452.1 L531.8 455.9 L526.7 452.8"/>
<circle class="k" cx="525.9" cy="455.8" r="0.4"/>
<circle class="k" cx="592.4" cy="421.3" r="0.4"/>
<circle class="k" cx="596.8" cy="424.9" r="0.4"/>
<circle class="k" cx="541.0" cy="412.2" r="0.4"/>
<circle class="k" cx="577.3" cy="405.4" r="0.4"/>
<circle class="k" cx="585.3" cy="416.6" r="0.4"/>
<circle class="k" cx="579.1" cy="390.6" r="0.4"/>
<circle class="k" cx="618.7" cy="420.7" r="0.4"/>
<circle class="k" cx="617.8" cy="427.8" r="0.4"/>
<circle class="k" cx="589.5" cy="454.4" r="0.4"/>
<circle class="k" cx="605.0" cy="395.9" r="0.4"/>
<path class='h' d="M605.0 424.3 C605.3 422.0 605.6 414.4 607.2 410.7 C608.8 406.9 611.4 404.5 614.6 401.8 C617.8 399.1 623.9 396.4 626.4 394.4 C628.9 392.5 629.1 390.7 629.7 390.0"/>
<path class='h' d="M608.7 428.7 L623.4 437.6 L640.0 487.5"/>
<path d="M614.6 432.9 L626.7 439.1"/>
<path d="M629.7 390.0 L633.8 394.4 L640.0 399.2"/>
<path class='h' d="M640.0 412.2 C639.3 412.9 636.6 412.9 635.6 416.6 C634.5 420.3 633.1 430.3 633.8 434.3 C634.5 438.3 639.0 439.5 640.0 440.5"/>
<path d="M640.0 418.1 C639.6 418.6 638.0 418.6 637.5 421.0 C636.9 423.5 636.3 430.1 636.7 432.9 C637.2 435.6 639.5 436.6 640.0 437.3"/>
<path d="M623.4 393.0 L632.3 388.5"/>
<ellipse class='h' cx="635.6" cy="500.5" rx="1.3" ry="2.4" transform="rotate(25 635.6 500.5)"/>
<ellipse class='h' cx="623.4" cy="506.7" rx="0.9" ry="1.5" transform="rotate(25 623.4 506.7)"/>
<path class='h' d="M650.0 489.0 L641.5 501.0 L631.0 511.5 L609.6 523.4"/>
<path class='h' d="M574.7 449.4 L581.5 446.2 L583.8 456.5 L582.1 461.2 L575.6 464.2 L574.7 449.4"/>
<path d="M576.2 450.9 L580.9 448.5 L582.1 455.0"/>
<path d="M576.9 459.5 L581.3 457.2"/>
<path class='h' d="M585.0 445.0 L586.5 466.8 L588.0 510.0"/>
<path d="M583.3 446.2 L585.0 445.0"/>
<ellipse class='k' cx="581.3" cy="468.3" rx="4.0" ry="4.3"/>
<ellipse class='w t' cx="580.7" cy="467.7" rx="1.4" ry="1.4"/>
<ellipse class='k' cx="560.6" cy="478.7" rx="3.7" ry="4.0"/>
<ellipse class='w t' cx="560.0" cy="478.1" rx="1.3" ry="1.3"/>
<ellipse class='k' cx="527.4" cy="495.8" rx="3.7" ry="4.0"/>
<ellipse class='w t' cx="526.8" cy="495.2" rx="1.3" ry="1.3"/>
<path class='t' d="M520.0 500.1 L602.8 459.5"/>
</g>
</g>
<g clip-path="url(#c14_1)">
<g clip-path="url(#c14_i)">
<path class='h' d="M473.2 380.0 C472.7 381.2 469.3 389.6 468.7 391.8 C468.1 394.0 467.3 400.3 466.9 402.2 C466.6 404.0 465.6 409.5 465.5 410.3"/>
<path class='h' d="M465.5 410.3 L467.2 414.0 L471.7 414.9 L479.1 416.9 L485.0 420.2 L487.9 424.6"/>
<path d="M468.7 402.2 L469.6 409.6 L474.3 411.8"/>
<path class='h' d="M465.5 410.3 L469.9 414.9 L468.7 418.7 L459.9 423.2 L456.6 422.9 L452.2 419.3 L447.7 420.8 L444.8 416.4 L441.8 419.9 L437.4 427.6"/>
<path class='hh' d="M461.0 419.6 L468.7 416.9"/>
<path class='h' d="M489.4 380.0 C488.7 381.5 486.2 385.9 485.0 388.9 C483.7 391.9 482.3 394.5 482.0 398.0 C481.8 401.5 482.5 405.9 483.5 409.9 C484.5 413.8 486.7 418.5 487.9 421.7 C489.2 424.9 490.4 427.8 490.9 429.1"/>
<path d="M501.2 380.0 C502.0 382.0 504.2 387.9 505.7 391.8 C507.1 395.8 509.0 399.7 510.1 403.6 C511.2 407.6 511.8 413.7 512.2 415.8"/>
<path class='h' d="M521.8 370.7 L532.9 378.1 L534.6 388.4 L535.8 398.8 L534.9 412.1 L532.9 423.9 L526.9 438.7 L519.6 447.5 L509.2 456.4"/>
<path class='h' d="M521.8 370.7 L519.6 379.6 L512.2 423.9 L509.2 456.4"/>
<path d="M520.4 379.6 L513.1 423.9 L510.7 453.4"/>
<path class='t' d="M533.7 379.0 L586.1 382.5"/>
<path class='t' d="M536.7 398.2 L590.5 401.1"/>
<path class='t' d="M537.3 399.7 L591.4 402.6"/>
<path class='h' d="M556.5 402.6 C555.7 403.1 552.8 404.0 551.5 405.6 C550.1 407.1 548.9 409.9 548.5 412.1 C548.1 414.3 548.3 417.0 549.1 418.9 C550.0 420.7 552.8 422.6 553.5 423.3"/>
<path class='hh' d="M471.7 439.4 C472.4 438.2 473.9 434.0 476.1 432.0 C478.3 430.0 481.8 428.1 485.0 427.6 C488.2 427.1 492.1 427.8 495.3 429.1 C498.5 430.3 501.7 432.8 504.2 435.0 C506.7 437.2 509.1 441.1 510.1 442.4"/>
<path d="M474.6 440.9 C475.4 439.8 477.1 435.7 479.1 434.1 C481.0 432.5 483.7 431.4 486.5 431.1 C489.2 430.8 492.6 431.3 495.3 432.3 C498.0 433.3 500.8 435.4 502.7 437.0 C504.6 438.7 506.2 441.2 506.8 442.1"/>
<path d="M478.8 442.1 C479.4 441.2 480.9 438.0 482.6 436.7 C484.3 435.5 486.8 434.6 489.1 434.4 C491.4 434.2 495.3 435.4 496.5 435.6"/>
<path d="M471.7 439.4 L469.9 443.5"/>
<path class='h' d="M467.2 445.3 L468.7 443.5 L479.1 439.4 L504.2 449.5 L504.2 459.8 L493.8 466.0 L466.9 454.2 L467.2 445.3"/>
<path d="M479.1 439.4 L479.1 446.5 L493.5 453.9 L493.8 466.0"/>
<path d="M467.2 445.3 L479.1 450.6"/>
<path class="k" d="M490.6 452.6L493.8 451.0L493.8 454.4L490.6 456.0Z"/>
<path class="k" d="M485.9 446.5L488.2 445.4L488.2 448.2L485.9 449.4Z"/>
<path style="stroke-width:1.3" d="M500.7 457.3L501.4 458.8"/>
<path style="stroke-width:1.1" d="M480.3 444.0L481.6 444.9"/>
<path style="stroke-width:1.7" d="M481.3 445.4Q484.0 446.0 482.9 443.4"/>
<path style="stroke-width:1.7" d="M493.2 459.2Q496.7 461.3 496.7 460.3"/>
<path style="stroke-width:1.2" d="M481.4 448.2L483.5 451.3"/>
<path style="stroke-width:1.3" d="M485.4 454.6L487.6 455.3"/>
<path style="stroke-width:1.2" d="M477.5 454.7L482.8 456.5"/>
<path class="k" d="M486.4 457.1L489.9 455.4L489.9 457.3L486.4 459.0Z"/>
<path style="stroke-width:1.5" d="M498.4 453.3L500.9 452.6"/>
<path class="k" d="M482.4 459.2L484.5 460.3L484.5 463.7L482.4 462.7Z"/>
<path style="stroke-width:1.1" d="M468.9 445.8L468.7 447.9"/>
<path style="stroke-width:1.1" d="M489.7 463.9L492.7 463.0"/>
<path style="stroke-width:1.2" d="M494.8 454.5L496.5 451.0"/>
<path style="stroke-width:1.9" d="M488.1 455.4L490.1 458.1"/>
<path style="stroke-width:1.3" d="M481.9 443.5L485.7 444.7"/>
<path class="k" d="M475.5 444.8L477.8 443.6L477.8 446.7L475.5 447.9Z"/>
<path style="stroke-width:1.4" d="M488.8 453.5Q490.5 452.0 490.2 453.0"/>
<path style="stroke-width:1.1" d="M493.5 445.7L493.3 448.2"/>
<path style="stroke-width:1.7" d="M494.8 452.8L498.6 453.0"/>
<path style="stroke-width:1.3" d="M476.7 458.4Q477.1 458.8 480.9 457.9"/>
<path style="stroke-width:1.6" d="M489.8 458.8L492.7 453.8"/>
<path style="stroke-width:1.4" d="M483.8 453.2Q485.5 454.7 485.5 453.8"/>
<path class="k" d="M493.8 452.0L496.2 450.9L496.2 453.5L493.8 454.7Z"/>
<path class="k" d="M481.1 455.8L483.5 457.0L483.5 460.0L481.1 458.7Z"/>
<path style="stroke-width:1.8" d="M480.6 456.7L482.6 455.4"/>
<path style="stroke-width:1.1" d="M470.1 443.4L471.6 446.6"/>
<path style="stroke-width:1.5" d="M478.9 456.5L480.5 456.9"/>
<path style="stroke-width:1.4" d="M485.0 445.3L487.0 447.9"/>
<path style="stroke-width:1.2" d="M488.9 456.6L494.6 458.3"/>
<path style="stroke-width:1.5" d="M489.7 462.1L491.2 462.9"/>
<path style="stroke-width:1.8" d="M478.5 450.0L479.1 454.0"/>
<path style="stroke-width:1.7" d="M496.1 448.6L500.1 448.1"/>
<path style="stroke-width:1.7" d="M481.9 459.7L487.2 461.3"/>
<path style="stroke-width:1.1" d="M495.9 457.7Q496.3 456.4 498.5 454.0"/>
<path class="k" d="M480.6 449.4L483.4 450.8L483.4 452.9L480.6 451.6Z"/>
<path style="stroke-width:1.1" d="M499.6 454.8L503.2 453.4"/>
<path style="stroke-width:1.4" d="M480.0 452.4L480.7 455.5"/>
<path style="stroke-width:1.3" d="M476.7 441.9Q477.6 442.8 478.7 442.0"/>
<path class="k" d="M473.8 447.3L476.1 446.1L476.1 449.3L473.8 450.5Z"/>
<path style="stroke-width:1.3" d="M499.8 455.1L503.0 453.0"/>
<path style="stroke-width:1.5" d="M494.4 465.1L496.4 464.0"/>
<path class="k" d="M480.7 443.9L483.1 442.7L483.1 445.5L480.7 446.7Z"/>
<path style="stroke-width:1.8" d="M501.5 459.7L505.2 458.6"/>
<path style="stroke-width:1.2" d="M465.7 455.8Q467.5 455.5 465.4 457.7"/>
<path style="stroke-width:1.2" d="M476.8 471.6L478.2 470.9"/>
<path style="stroke-width:1.2" d="M463.4 457.3L467.4 455.7"/>
<path style="stroke-width:1.6" d="M467.1 472.8Q467.9 472.5 472.3 472.0"/>
<path style="stroke-width:1.5" d="M475.9 464.5Q476.4 466.3 476.1 467.7"/>
<path style="stroke-width:1.1" d="M472.0 469.3L475.3 470.3"/>
<path class="k" d="M466.0 459.5L468.4 458.3L468.4 460.2L466.0 461.5Z"/>
<path style="stroke-width:1.1" d="M477.4 460.4Q478.4 463.1 477.2 463.9"/>
<path class="k" d="M465.9 456.8L468.6 455.4L468.6 457.0L465.9 458.4Z"/>
<path style="stroke-width:1.6" d="M475.3 467.1L476.2 465.5"/>
<path class="k" d="M468.0 456.7L470.2 455.6L470.2 457.2L468.0 458.4Z"/>
<path style="stroke-width:1.2" d="M464.3 470.0L466.0 470.6"/>
<path style="stroke-width:1.8" d="M476.0 467.0Q478.0 469.9 480.8 470.0"/>
<path style="stroke-width:1.4" d="M459.1 457.0Q462.2 457.1 462.1 460.4"/>
<path style="stroke-width:1.7" d="M459.7 458.8Q461.8 457.4 461.3 456.5"/>
<path style="stroke-width:1.7" d="M480.9 461.7Q480.6 464.9 481.2 467.1"/>
<path style="stroke-width:1.8" d="M463.9 472.8Q464.3 473.0 466.6 473.0"/>
<path style="stroke-width:1.2" d="M469.1 475.0L472.7 470.3"/>
<path style="stroke-width:1.0" d="M486.9 472.0L489.1 471.8"/>
<path style="stroke-width:1.9" d="M467.0 464.6Q466.5 467.2 467.4 467.7"/>
<path class="k" d="M463.2 465.9L466.1 464.5L466.1 466.1L463.2 467.5Z"/>
<path style="stroke-width:1.9" d="M467.9 461.1L470.9 461.4"/>
<path style="stroke-width:1.1" d="M484.3 469.0Q487.1 471.1 486.8 469.6"/>
<path style="stroke-width:1.5" d="M464.9 459.2L464.6 462.0"/>
<path class="k" d="M476.3 459.0L478.3 458.0L478.3 460.2L476.3 461.3Z"/>
<path class="k" d="M474.0 460.0L475.8 460.9L475.8 463.7L474.0 462.8Z"/>
<path class="k" d="M485.6 465.8L487.8 466.9L487.8 469.3L485.6 468.2Z"/>
<path style="stroke-width:1.3" d="M472.3 468.4Q471.7 465.0 475.0 464.8"/>
<path style="stroke-width:1.2" d="M462.3 465.7Q465.6 463.3 466.9 463.5"/>
<path style="stroke-width:1.4" d="M483.7 467.0L486.6 466.2"/>
<path d="M476.1 476.4 L485.0 471.9 L492.4 476.1 L482.0 480.8 L476.1 476.4"/>
<path d="M485.0 471.9 L506.8 461.0"/>
<path class='h' d="M443.3 490.1 L509.8 457.1 L550.0 437.9"/>
<path class='t' d="M446.7 498.5 L508.8 469.0 L550.0 449.2"/>
<path class='t' d="M448.8 503.5 L520.0 469.4 L550.0 454.9"/>
<path class='h' d="M452.2 505.3 L520.0 472.1 L550.0 457.6"/>
<path class='h' d="M450.7 510.0 L520.0 476.1 L550.0 461.0"/>
<path d="M526.1 452.4 L533.4 449.5 L540.2 452.4 L532.9 455.7 L526.1 452.4"/>
<circle class="k" cx="466.9" cy="388.1" r="0.4"/>
<circle class="k" cx="481.0" cy="387.4" r="0.4"/>
<circle class="k" cx="478.0" cy="393.3" r="0.4"/>
<circle class="k" cx="477.3" cy="411.8" r="0.4"/>
<circle class="k" cx="540.8" cy="411.8" r="0.4"/>
<circle class="k" cx="503.6" cy="466.0" r="0.4"/>
<circle class="k" cx="506.8" cy="482.0" r="0.4"/>
<circle class="k" cx="445.1" cy="375.1" r="0.4"/>
<circle class="k" cx="426.6" cy="386.9" r="0.4"/>
<circle class="k" cx="467.2" cy="388.4" r="0.4"/>
<circle class="k" cx="480.5" cy="388.4" r="0.4"/>
<circle class="k" cx="478.3" cy="393.5" r="0.4"/>
<circle class="k" cx="449.5" cy="397.2" r="0.4"/>
<circle class="k" cx="434.7" cy="400.9" r="0.4"/>
<circle class="k" cx="451.7" cy="402.4" r="0.4"/>
<circle class="k" cx="449.5" cy="406.8" r="0.4"/>
<circle class="k" cx="423.6" cy="408.3" r="0.4"/>
<circle class="k" cx="451.7" cy="412.0" r="0.4"/>
<path d="M478.3 364.9 L473.9 383.2 L470.9 398.0 L469.5 403.9 L470.3 406.8"/>
</g>
</g>
<g clip-path="url(#c15_i)">
<path class='h' d="M603.6 387.3 L659.6 360.1 L662.4 356.6 L666.7 356.9 L667.9 351.4 L690.3 344.9 L693.3 346.3 L714.4 364.0 L715.2 368.0 L711.6 372.5"/>
<path class='t' d="M605.2 391.6 L689.6 349.1"/>
<path class='h' d="M667.9 355.8 C667.9 354.0 667.8 347.4 668.3 345.1 C668.8 342.9 670.0 342.5 671.0 342.4 C672.0 342.2 673.7 342.4 674.2 344.3 C674.6 346.2 673.9 352.2 673.8 353.8"/>
<ellipse class='k' cx="671.0" cy="342.8" rx="1.8" ry="1.2"/>
<path class='h' d="M601.7 363.3 L605.2 362.1 L618.4 368.0 L620.4 375.9 L615.5 379.4 L606.0 381.4 L602.1 373.5 L601.7 363.3"/>
<circle class="k" cx="604.0" cy="371.5" r="0.4"/>
<circle class="k" cx="607.6" cy="369.2" r="0.4"/>
<circle class="k" cx="610.5" cy="369.6" r="0.4"/>
<path class='h' d="M603.6 387.3 L602.1 397.1 L606.0 399.9"/>
<path d="M606.0 401.5 C607.3 400.7 609.6 398.7 613.5 396.7 C617.4 394.8 626.6 391.2 629.3 390.0"/>
<path class='h' d="M606.0 399.9 L605.2 418.8 L607.6 426.7 L624.3 436.9"/>
<circle class="k" cx="618.4" cy="420.4" r="0.5"/>
<circle class="k" cx="618.4" cy="426.7" r="0.5"/>
<circle class="k" cx="605.6" cy="396.2" r="0.5"/>
<circle class="k" cx="611.5" cy="385.7" r="0.5"/>
<circle class="k" cx="624.9" cy="380.4" r="0.5"/>
<circle class="k" cx="635.2" cy="375.5" r="0.5"/>
<circle class="k" cx="650.0" cy="379.4" r="0.5"/>
<circle class="k" cx="625.7" cy="393.6" r="0.5"/>
<circle class="k" cx="646.0" cy="403.4" r="0.5"/>
<circle class="k" cx="672.6" cy="388.3" r="0.5"/>
<circle class="k" cx="676.6" cy="364.6" r="0.5"/>
<circle class="k" cx="687.4" cy="382.4" r="0.5"/>
<circle class="k" cx="696.3" cy="375.5" r="0.5"/>
<circle class="k" cx="679.5" cy="352.8" r="0.5"/>
<circle class="k" cx="672.6" cy="357.3" r="0.5"/>
<circle class="k" cx="661.2" cy="362.1" r="0.5"/>
<path class='h' d="M711.6 372.5 L678.5 388.3 L645.0 407.0"/>
<path class='h' d="M645.0 407.0 C644.2 407.6 639.4 410.7 638.1 412.5 C636.9 414.4 634.7 420.0 634.2 422.8 C633.7 425.5 633.4 434.0 633.8 436.2 C634.2 438.3 637.1 440.9 637.5 441.5"/>
<path class='h' d="M637.5 441.5 L650.9 448.4"/>
<path d="M648.0 409.0 C647.0 409.7 643.5 411.0 642.1 413.3 C640.6 415.6 639.6 419.5 639.1 422.8 C638.6 426.0 639.1 431.0 639.1 432.6"/>
<path d="M639.1 416.1 L672.6 434.6 L675.0 426.7 L675.0 393.2"/>
<path d="M639.1 432.6 L649.0 442.5 L659.2 442.5 L672.6 435.8"/>
<path d="M659.2 442.5 L666.7 447.6 L682.5 440.5"/>
<path d="M642.7 410.9 L645.0 416.1"/>
<ellipse class='h' cx="640.1" cy="431.8" rx="2.6" ry="3.9" transform="rotate(15 640.1 431.8)"/>
<ellipse cx="639.1" cy="432.6" rx="1.2" ry="2.0" transform="rotate(15 639.1 432.6)"/>
<path class='hh' d="M637.1 438.5 L649.0 444.4"/>
<path class='h' d="M629.3 393.6 C630.0 392.7 635.4 388.2 637.1 387.3 C638.9 386.4 644.7 384.5 647.0 384.9 C649.3 385.4 658.6 390.5 659.8 391.6 C661.0 392.8 660.1 395.3 658.8 396.4 C657.5 397.4 649.2 401.9 647.0 402.3 C644.8 402.7 638.8 400.9 637.1 400.3 C635.5 399.7 631.0 397.0 630.2 396.4 C629.5 395.7 628.6 394.5 629.3 393.6Z"/>
<path class='h' d="M654.5 377.8 C655.2 376.7 660.7 371.8 662.8 370.7 C664.8 369.7 671.5 366.7 674.6 367.2 C677.6 367.7 691.5 374.1 693.3 375.5 C695.1 376.8 694.2 379.3 692.3 380.6 C690.4 381.9 677.5 387.9 674.6 388.5 C671.6 389.1 664.6 387.2 662.8 386.5 C660.9 385.8 656.7 382.6 655.9 381.8 C655.0 380.9 653.8 378.9 654.5 377.8Z"/>
<path d="M645.0 385.7 L645.4 401.5"/>
<path d="M648.0 386.5 L656.1 397.1"/>
<path d="M682.5 369.6 L683.4 384.9"/>
<path d="M686.4 371.5 L692.3 378.6"/>
<path class='h' d="M682.5 385.7 C682.4 387.9 682.7 395.2 682.1 399.1 C681.4 403.0 679.4 405.0 678.5 409.0 C677.6 412.9 676.8 417.8 676.6 422.8 C676.3 427.7 677.3 433.9 676.9 438.5 C676.6 443.1 676.0 447.0 674.6 450.3 C673.2 453.7 669.7 457.2 668.7 458.6"/>
<path class='h' d="M687.4 384.5 C687.2 387.0 687.2 394.7 686.4 399.1 C685.6 403.5 683.4 406.7 682.5 410.9 C681.5 415.2 681.1 419.8 680.9 424.7 C680.7 429.7 681.7 435.9 681.5 440.5 C681.2 445.1 681.0 449.0 679.5 452.3 C678.0 455.7 673.8 459.2 672.6 460.6"/>
<path d="M694.3 383.7 L694.3 399.1"/>
<path d="M689.6 386.5 L689.6 401.5"/>
<path class='h' d="M682.5 405.4 C683.1 404.7 684.1 402.3 686.4 401.1 C688.7 399.9 693.6 398.7 696.3 398.3 C698.9 398.0 701.2 399.0 702.2 399.1"/>
<path class='h' d="M702.2 399.1 L715.0 410.1 L716.0 414.1 L714.0 418.0 L710.4 420.0 L710.4 446.4 L707.3 447.6 L706.1 452.7 L703.2 462.6 L698.2 468.5"/>
<path d="M698.2 468.5 L678.5 454.7 L666.7 450.7"/>
<path class='w hh' d="M701.8 408.6 L705.7 407.0 L708.1 409.8 L704.9 412.9 L702.2 412.1Z"/>
<path class='w hh' d="M702.2 429.5 L706.1 427.9 L708.5 430.6 L705.3 433.8 L702.6 433.0Z"/>
<path class='h' d="M709.1 369.2 L712.4 370.3 L711.2 372.7"/>
<path class='h' d="M653.9 463.3 L666.7 450.7 L678.5 454.7 L702.2 471.2 L696.3 477.9 L672.6 485.8 L664.7 485.8 L658.0 470.4"/>
<path class='h' d="M668.7 490.9 L695.3 477.9 L699.4 476.0 L697.8 481.1 L694.3 484.2 L672.6 494.9 L668.7 490.9"/>
<path d="M670.2 489.4 L696.3 476.7"/>
<path d="M682.5 486.2 L685.2 490.7"/>
<path d="M678.5 488.2 L680.5 492.5"/>
<ellipse class='hh' cx="686.4" cy="485.0" rx="1.4" ry="1.6"/>
<ellipse class='hh' cx="653.9" cy="456.3" rx="2.0" ry="2.2"/>
<ellipse class='h' cx="666.7" cy="453.9" rx="2.0" ry="1.2" transform="rotate(-25 666.7 453.9)"/>
<path class='h' d="M624.3 436.9 L639.1 486.2 L645.0 490.1 L663.7 492.1 L656.1 468.5 L650.9 455.5 L637.5 441.5"/>
<path d="M656.1 468.5 L658.0 470.4"/>
<path class='h' d="M654.9 466.1 L658.8 468.1 L659.6 471.6"/>
<ellipse class='h' cx="642.7" cy="490.7" rx="1.2" ry="2.8" transform="rotate(10 642.7 490.7)"/>
<path d="M645.0 490.1 L639.1 500.0"/>
<path class='h' d="M649.0 491.7 L643.1 500.0"/>
<ellipse class='h' cx="636.7" cy="498.8" rx="1.6" ry="1.2"/>
</g>
<g clip-path="url(#c16_i)">
<path class='h' d="M492.2 296.7 C493.9 295.7 506.4 289.3 509.9 287.5 C513.4 285.7 525.1 279.6 527.6 278.5 C530.1 277.4 533.7 276.6 535.0 276.6 C536.4 276.5 540.3 278.1 540.9 278.3"/>
<path class='h' d="M540.9 278.3 L540.3 288.1 L546.8 291.0 L547.7 282.2 L540.9 278.3"/>
<path class='k' d="M541.8 280.7 L545.7 283.1 L545.4 289.0 L541.8 287.2Z"/>
<path d="M547.7 282.2 L563.4 281.6"/>
<path class='h' d="M487.7 317.6 L535.0 294.9"/>
<path d="M535.0 294.9 L535.8 300.2 L538.0 299.0 L538.3 293.4"/>
<path d="M492.2 296.7 L489.2 307.3 L487.7 317.6"/>
<path class='h' d="M486.3 331.2 L543.9 305.8"/>
<path d="M543.9 305.8 L546.8 308.8 L546.3 316.2"/>
<path class='h' d="M538.3 304.3 L543.9 302.9"/>
<path class='hh' d="M503.7 317.0 L509.9 314.7"/>
<path class='h' d="M487.7 328.9 L492.2 325.9 L497.5 327.4 L496.6 330.3 L490.7 332.7 L487.7 328.9"/>
<path d="M489.2 329.5 L492.2 327.7 L495.4 328.6"/>
<path class='h' d="M488.9 308.8 C489.3 307.8 490.9 305.5 491.0 302.9 C491.1 300.2 489.6 294.8 489.5 292.8 C489.5 290.8 490.2 291.0 490.7 291.0 C491.2 291.0 492.0 290.8 492.5 292.8 C492.9 294.8 493.5 300.2 493.3 302.9 C493.2 305.5 491.9 307.8 491.6 308.8"/>
<path d="M470.0 303.2 L476.8 310.5"/>
<path class='h' d="M484.8 312.0 L486.6 316.5 L484.2 331.2"/>
<ellipse class='w h' cx="477.4" cy="319.4" rx="5.9" ry="7.1" transform="rotate(15 477.4 319.4)"/>
<ellipse class='h' cx="478.3" cy="319.1" rx="3.8" ry="4.9" transform="rotate(15 478.3 319.1)"/>
<ellipse class='t' cx="478.6" cy="319.1" rx="2.7" ry="3.5" transform="rotate(15 478.6 319.1)"/>
<path class='h' d="M549.8 288.1 L561.6 282.2 L564.9 283.1 L565.5 288.1 L558.7 291.9 L557.2 299.3 L552.8 299.3 L549.8 294.9 L549.8 288.1"/>
<path d="M552.8 289.6 L552.8 299.3"/>
<path d="M552.8 289.6 L561.6 285.1"/>
<path class='w h' d="M558.7 289.0 C560.0 289.0 570.4 289.7 572.0 289.6 C573.5 289.4 573.7 287.7 574.3 287.5 C575.0 287.3 578.1 287.2 578.8 287.5 C579.4 287.8 580.8 289.7 580.8 290.4 C580.9 291.2 580.1 294.3 579.4 294.9 C578.6 295.5 575.5 296.4 573.4 296.4 C571.4 296.4 560.1 295.0 558.7 294.9"/>
<path class='h' d="M564.9 289.6 L566.9 333.9 L573.4 345.7 L587.5 364.0 L586.0 382.5"/>
<ellipse class='h' cx="560.9" cy="320.6" rx="1.3" ry="2.1" transform="rotate(15 560.9 320.6)"/>
<path class='h' d="M574.2 342.8 L577.9 340.7 L580.2 348.7 L575.8 351.0 L574.2 342.8"/>
<ellipse cx="576.7" cy="343.6" rx="1.2" ry="0.9"/>
<circle class="k" cx="552.8" cy="335.4" r="0.4"/>
<path class='t' d="M540.9 317.6 L558.7 342.8 L582.3 360.5"/>
<path class='h' d="M520.2 339.8 C520.3 337.3 519.9 329.2 520.8 325.0 C521.8 320.9 524.3 317.3 526.2 315.0 C528.0 312.7 530.1 311.6 532.1 311.1 C534.0 310.7 536.5 311.3 538.0 312.3 C539.5 313.3 540.7 316.3 541.2 317.0"/>
<ellipse class='h' cx="531.3" cy="322.1" rx="5.5" ry="6.2" transform="rotate(10 531.3 322.1)"/>
<ellipse class='h' cx="531.8" cy="322.1" rx="3.3" ry="3.8" transform="rotate(10 531.8 322.1)"/>
<path class='h' d="M520.2 339.8 L521.1 343.1 L527.0 344.5 L529.1 349.0 L528.5 354.6"/>
<path class='k' d="M523.8 334.8 L532.1 334.8 L533.8 337.1 L526.2 336.8Z"/>
<path class='w h' d="M533.5 348.7 C533.6 346.2 533.5 338.1 534.1 333.9 C534.8 329.7 536.0 326.1 537.4 323.5 C538.8 321.0 540.6 319.5 542.4 318.5 C544.2 317.6 546.7 317.3 548.3 317.9 C550.0 318.5 551.5 321.4 552.2 322.1"/>
<path class='h' d="M552.2 322.1 C552.6 323.3 552.9 326.5 554.5 329.5 C556.2 332.4 558.7 336.4 561.9 339.8 C565.1 343.3 569.1 346.9 573.7 350.1 C578.4 353.4 587.3 357.8 590.0 359.3"/>
<ellipse class='w h' cx="543.9" cy="327.4" rx="5.9" ry="6.7" transform="rotate(10 543.9 327.4)"/>
<ellipse class='h' cx="544.3" cy="327.4" rx="3.5" ry="4.1" transform="rotate(10 544.3 327.4)"/>
<path d="M533.5 348.7 L533.0 356.1 L535.3 363.4"/>
<path class='h' d="M528.5 343.1 C528.9 344.5 529.5 348.7 530.6 351.6 C531.7 354.5 533.5 358.2 535.0 360.5 C536.5 362.8 538.7 364.4 539.5 365.2"/>
<path class='h' d="M540.9 350.1 C541.6 350.8 545.0 353.1 545.7 354.9 C546.3 356.7 546.3 361.5 545.7 363.4 C545.0 365.4 542.7 368.2 540.9 369.7 C539.1 371.1 534.4 374.0 532.1 374.1 C529.7 374.2 524.9 370.4 523.5 370.2 C522.1 370.0 522.0 372.3 521.7 372.6"/>
<ellipse class='h' cx="533.0" cy="370.2" rx="2.4" ry="1.3"/>
<path d="M535.3 363.4 L540.9 369.7"/>
<circle class="k" cx="536.5" cy="345.0" r="0.4"/>
<circle class="k" cx="528.4" cy="342.8" r="0.4"/>
<path class='h' d="M470.0 329.5 L484.8 336.3 L521.7 354.6"/>
<path class='t' d="M470.0 344.5 L515.8 367.3"/>
<path class='h' d="M470.0 360.5 L489.2 369.7 L499.6 375.3"/>
<path class='h' d="M521.7 354.6 L527.0 357.5 L522.0 372.3 L520.2 380.0"/>
<circle class="k" cx="473.0" cy="331.2" r="0.4"/>
<circle class="k" cx="483.3" cy="344.5" r="0.4"/>
<circle class="k" cx="497.5" cy="344.5" r="0.4"/>
<circle class="k" cx="506.9" cy="353.1" r="0.4"/>
<circle class="k" cx="509.9" cy="351.6" r="0.4"/>
<circle class="k" cx="517.6" cy="354.0" r="0.4"/>
<circle class="k" cx="506.1" cy="359.3" r="0.4"/>
<circle class="k" cx="501.3" cy="365.8" r="0.4"/>
<circle class="k" cx="501.3" cy="369.7" r="0.4"/>
<circle class="k" cx="489.2" cy="374.1" r="0.4"/>
<circle class="k" cx="480.3" cy="369.7" r="0.4"/>
<circle class="k" cx="473.0" cy="363.7" r="0.4"/>
<ellipse class='k' cx="483.3" cy="344.5" rx="1.3" ry="0.9"/>
<path d="M473.0 363.4 L471.5 380.0"/>
<path d="M478.9 366.4 L477.4 380.0"/>
<path class='h' d="M492.2 372.3 L489.2 380.0"/>
<path d="M499.6 376.7 L502.5 380.0"/>
</g>
<path class='h' d="M364.7 580.3 C364.8 581.3 364.8 584.1 365.7 586.1 C366.6 588.1 368.7 590.4 370.1 592.3 C371.5 594.1 372.9 595.8 373.8 597.2 C374.7 598.6 375.2 600.3 375.5 600.9"/>
<path class='h' d="M375.5 600.9 L374.8 608.3 L367.4 624.0 L362.5 632.9 L361.2 636.6"/>
<path d="M372.3 586.6 C373.1 587.8 376.0 591.5 377.2 593.5 C378.5 595.5 379.2 596.9 379.7 598.4 C380.2 599.9 380.3 601.9 380.4 602.6"/>
<path d="M380.4 609.5 L375.0 621.6 L370.6 629.2 L364.9 634.1"/>
<path d="M384.6 612.0 L380.9 619.4 L377.2 626.7 L372.3 632.9"/>
<path class='h' d="M361.2 636.6 L363.7 639.1 L372.3 634.1 L396.9 621.8"/>
<path d="M364.9 634.1 L367.4 635.9"/>
<ellipse class='k' cx="363.7" cy="633.9" rx="2.5" ry="2.7"/>
<ellipse class='k' cx="378.5" cy="629.0" rx="1.6" ry="1.8"/>
<ellipse class='w t' cx="363.0" cy="633.4" rx="0.7" ry="0.7"/>
<path class='w h' d="M364.7 580.3 L367.1 577.2 L388.6 567.4 L392.3 566.2 L406.8 560.5 L409.8 562.2 L410.2 566.2 L408.3 568.4 L392.3 575.0 L389.6 578.5 L384.6 581.2 L378.5 585.2 L367.4 586.5 L365.4 584.4 L364.7 580.3"/>
<path d="M367.4 586.5 L372.3 586.6"/>
<path class='t' d="M368.6 578.5 L388.9 569.2"/>
<path class='t' d="M392.3 568.6 L407.4 562.7"/>
<path class='h' d="M391.5 573.3 C391.7 574.4 391.6 577.8 392.3 579.7 C393.0 581.6 394.3 583.3 395.7 584.9 C397.2 586.5 400.0 588.6 400.9 589.3"/>
<path d="M396.9 572.3 C397.1 573.3 397.2 576.5 397.7 578.5 C398.2 580.4 399.1 582.6 400.1 584.1 C401.2 585.7 403.2 587.2 403.8 587.8"/>
<path class='h' d="M401.4 571.3 C401.5 572.5 401.6 576.2 402.1 578.5 C402.7 580.7 403.7 582.9 404.6 584.9 C405.4 586.8 406.8 589.2 407.3 590.0"/>
<path d="M405.8 568.6 C405.8 569.9 405.5 573.5 405.8 576.0 C406.1 578.5 407.0 581.1 407.5 583.4 C408.1 585.7 409.0 588.5 409.3 589.6"/>
<path class='w h' d="M378.5 585.2 L384.1 589.1 L389.6 594.7 L394.0 598.4 L396.0 599.2 L396.9 597.9 L396.5 595.7 L392.3 591.8 L387.8 587.3 L384.6 584.1"/>
<path class='t' d="M384.1 589.1 L387.8 587.3"/>
<path d="M385.9 589.1 C386.7 589.9 389.2 592.6 390.8 594.0 C392.4 595.4 394.7 597.1 395.5 597.7"/>
<path class='h' d="M389.1 586.6 L410.7 594.0"/>
<path class='h' d="M381.7 609.5 L400.9 618.1"/>
<path class='h' d="M389.1 586.6 C388.3 586.9 385.9 587.1 384.6 588.6 C383.3 590.1 381.9 593.4 381.2 595.7 C380.5 598.1 380.4 600.3 380.4 602.6 C380.5 604.9 381.5 608.4 381.7 609.5"/>
<path d="M392.3 588.1 C391.7 588.5 389.6 589.3 388.6 590.8 C387.6 592.3 386.8 594.9 386.4 596.9 C385.9 599.0 385.9 601.1 386.1 603.1 C386.3 605.2 387.1 608.2 387.3 609.3"/>
<path class='k' d="M394.7 618.9 L398.4 620.6 L399.2 618.6 L395.7 616.9Z"/>
<ellipse class='k' cx="371.7" cy="582.8" rx="2.6" ry="2.7"/>
<ellipse class='w t' cx="371.1" cy="582.2" rx="0.8" ry="0.8"/>
<ellipse class='t' cx="371.7" cy="582.8" rx="3.3" ry="3.4"/>
<ellipse class='k' cx="381.9" cy="577.2" rx="2.6" ry="2.7"/>
<ellipse class='w t' cx="381.3" cy="576.6" rx="0.8" ry="0.8"/>
<ellipse class='t' cx="381.9" cy="577.2" rx="3.3" ry="3.4"/>
<ellipse class='k' cx="395.2" cy="570.8" rx="2.8" ry="3.0"/>
<ellipse class='w t' cx="394.6" cy="570.2" rx="0.8" ry="0.8"/>
<ellipse class='t' cx="395.2" cy="570.8" rx="3.6" ry="3.7"/>
<ellipse class='k' cx="407.4" cy="564.7" rx="2.3" ry="2.5"/>
<ellipse class='w t' cx="406.8" cy="564.1" rx="0.7" ry="0.7"/>
<ellipse class='t' cx="407.4" cy="564.7" rx="3.1" ry="3.2"/>
<path class='w h' d="M410.7 593.5 C412.4 591.9 412.3 591.7 414.4 591.5 C416.6 591.4 422.5 591.3 425.3 592.5 C428.0 593.7 431.2 596.9 432.7 599.4 C434.1 601.9 434.9 606.3 435.1 609.3 C435.3 612.3 434.8 616.4 433.9 619.4 C433.0 622.3 431.0 626.7 429.0 629.0 C426.9 631.2 422.9 633.4 420.3 634.1 C417.8 634.9 414.1 634.7 411.7 633.9 C409.4 633.1 406.0 630.8 404.6 629.0 C403.1 627.1 402.5 624.2 402.1 621.6 C401.7 619.0 401.7 614.7 401.9 611.7 C402.1 608.8 402.0 604.6 403.3 601.9 C404.7 599.1 409.1 595.0 410.7 593.5Z"/>
<path class='t' d="M409.3 596.9 C408.7 598.0 406.6 600.4 405.8 603.1 C405.0 605.8 404.6 609.7 404.6 613.0 C404.6 616.2 405.0 620.1 405.8 622.8 C406.6 625.5 407.9 627.4 409.3 629.0 C410.7 630.6 413.4 631.8 414.2 632.4"/>
<ellipse class='hh' cx="419.1" cy="614.2" rx="11.8" ry="15.5" transform="rotate(10 419.1 614.2)"/>
<ellipse class='t' cx="419.6" cy="614.4" rx="10.8" ry="14.3" transform="rotate(10 419.6 614.4)"/>
<ellipse class='h' cx="421.0" cy="614.9" rx="8.6" ry="11.1" transform="rotate(10 421.0 614.9)"/>
<ellipse class='h' cx="422.1" cy="615.5" rx="5.7" ry="7.0" transform="rotate(10 422.1 615.5)"/>
<ellipse class='t' cx="422.6" cy="615.9" rx="4.2" ry="5.2" transform="rotate(10 422.6 615.9)"/>
<ellipse class='h' cx="422.8" cy="616.0" rx="2.7" ry="3.2" transform="rotate(10 422.8 616.0)"/>
<ellipse class='k' cx="423.1" cy="616.2" rx="0.7" ry="0.9"/>
<path class='hh' d="M411.7 604.3 C411.5 605.6 410.3 608.9 410.2 611.7 C410.2 614.6 410.6 619.1 411.2 621.6 C411.9 624.0 413.7 625.7 414.2 626.5"/>
<path class='w h' d="M415.4 595.1 L419.1 596.1 L420.0 597.2 L419.4 598.7 L415.7 597.7 L414.8 596.5Z"/>
<path class='t' d="M417.1 595.7 L416.7 597.7"/>
<path class='w h' d="M426.3 596.0 L430.0 596.9 L430.8 598.1 L430.2 599.5 L426.5 598.5 L425.6 597.3Z"/>
<path class='t' d="M428.0 596.6 L427.5 598.5"/>
<path class='w h' d="M431.9 606.7 L435.6 607.7 L436.5 608.8 L435.9 610.2 L432.2 609.3 L431.3 608.0Z"/>
<path class='t' d="M433.6 607.3 L433.2 609.3"/>
<path class='w h' d="M428.7 620.2 L432.4 621.2 L433.3 622.3 L432.7 623.8 L429.0 622.8 L428.1 621.6Z"/>
<path class='t' d="M430.4 620.8 L430.0 622.8"/>
<path class='w h' d="M418.1 629.8 L421.8 630.8 L422.7 631.9 L422.1 633.4 L418.4 632.4 L417.5 631.2Z"/>
<path class='t' d="M419.9 630.4 L419.4 632.4"/>
<path class='w h' d="M407.0 628.8 L410.7 629.8 L411.6 630.9 L411.0 632.4 L407.3 631.4 L406.4 630.2Z"/>
<path class='t' d="M408.8 629.5 L408.3 631.4"/>
<path class='w h' d="M402.4 603.5 L406.1 604.5 L406.9 605.6 L406.3 607.0 L402.6 606.1 L401.7 604.8Z"/>
<path class='t' d="M404.1 604.1 L403.6 606.1"/>
<path class='w h' d="M402.9 619.0 L406.6 620.0 L407.4 621.1 L406.8 622.6 L403.1 621.6 L402.2 620.3Z"/>
<path class='t' d="M404.6 619.6 L404.1 621.6"/>
<path class='h' d="M538.7 495.1 C538.8 496.1 538.8 498.9 539.7 500.9 C540.6 502.9 542.7 505.2 544.1 507.1 C545.5 508.9 546.9 510.6 547.8 512.0 C548.7 513.4 549.2 515.1 549.5 515.7"/>
<path class='h' d="M549.5 515.7 L548.8 523.1 L541.4 538.8 L536.5 547.7 L535.2 551.4"/>
<path d="M546.3 501.4 C547.1 502.6 550.0 506.3 551.2 508.3 C552.5 510.3 553.2 511.7 553.7 513.2 C554.2 514.7 554.3 516.7 554.4 517.4"/>
<path d="M554.4 524.3 L549.0 536.4 L544.6 544.0 L538.9 548.9"/>
<path d="M558.6 526.8 L554.9 534.2 L551.2 541.5 L546.3 547.7"/>
<path class='h' d="M535.2 551.4 L537.7 553.9 L546.3 548.9 L570.9 536.6"/>
<path d="M538.9 548.9 L541.4 550.7"/>
<ellipse class='k' cx="537.7" cy="548.7" rx="2.5" ry="2.7"/>
<ellipse class='k' cx="552.5" cy="543.8" rx="1.6" ry="1.8"/>
<ellipse class='w t' cx="537.0" cy="548.2" rx="0.7" ry="0.7"/>
<path class='w h' d="M538.7 495.1 L541.1 492.0 L562.6 482.2 L566.3 481.0 L580.8 475.3 L583.8 477.0 L584.2 481.0 L582.3 483.2 L566.3 489.8 L563.6 493.3 L558.6 496.0 L552.5 500.0 L541.4 501.3 L539.4 499.2 L538.7 495.1"/>
<path d="M541.4 501.3 L546.3 501.4"/>
<path class='t' d="M542.6 493.3 L562.9 484.0"/>
<path class='t' d="M566.3 483.4 L581.4 477.5"/>
<path class='h' d="M565.5 488.1 C565.7 489.2 565.6 492.6 566.3 494.5 C567.0 496.4 568.3 498.1 569.7 499.7 C571.2 501.3 574.0 503.4 574.9 504.1"/>
<path d="M570.9 487.1 C571.1 488.1 571.2 491.3 571.7 493.3 C572.2 495.2 573.1 497.4 574.1 498.9 C575.2 500.5 577.2 502.0 577.8 502.6"/>
<path class='h' d="M575.4 486.1 C575.5 487.3 575.6 491.0 576.1 493.3 C576.7 495.5 577.7 497.7 578.6 499.7 C579.4 501.6 580.8 504.0 581.3 504.8"/>
<path d="M579.8 483.4 C579.8 484.7 579.5 488.3 579.8 490.8 C580.1 493.3 581.0 495.9 581.5 498.2 C582.1 500.5 583.0 503.3 583.3 504.4"/>
<path class='w h' d="M552.5 500.0 L558.1 503.9 L563.6 509.5 L568.0 513.2 L570.0 514.0 L570.9 512.7 L570.5 510.5 L566.3 506.6 L561.8 502.1 L558.6 498.9"/>
<path class='t' d="M558.1 503.9 L561.8 502.1"/>
<path d="M559.9 503.9 C560.7 504.7 563.2 507.4 564.8 508.8 C566.4 510.2 568.7 511.9 569.5 512.5"/>
<path class='h' d="M563.1 501.4 L584.7 508.8"/>
<path class='h' d="M555.7 524.3 L574.9 532.9"/>
<path class='h' d="M563.1 501.4 C562.3 501.7 559.9 501.9 558.6 503.4 C557.3 504.9 555.9 508.2 555.2 510.5 C554.5 512.9 554.4 515.1 554.4 517.4 C554.5 519.7 555.5 523.2 555.7 524.3"/>
<path d="M566.3 502.9 C565.7 503.3 563.6 504.1 562.6 505.6 C561.6 507.1 560.8 509.7 560.4 511.7 C559.9 513.8 559.9 515.9 560.1 517.9 C560.3 520.0 561.1 523.0 561.3 524.1"/>
<path class='k' d="M568.7 533.7 L572.4 535.4 L573.2 533.4 L569.7 531.7Z"/>
<ellipse class='k' cx="545.7" cy="497.6" rx="2.6" ry="2.7"/>
<ellipse class='w t' cx="545.1" cy="497.0" rx="0.8" ry="0.8"/>
<ellipse class='t' cx="545.7" cy="497.6" rx="3.3" ry="3.4"/>
<ellipse class='k' cx="555.9" cy="492.0" rx="2.6" ry="2.7"/>
<ellipse class='w t' cx="555.3" cy="491.4" rx="0.8" ry="0.8"/>
<ellipse class='t' cx="555.9" cy="492.0" rx="3.3" ry="3.4"/>
<ellipse class='k' cx="569.2" cy="485.6" rx="2.8" ry="3.0"/>
<ellipse class='w t' cx="568.6" cy="485.0" rx="0.8" ry="0.8"/>
<ellipse class='t' cx="569.2" cy="485.6" rx="3.6" ry="3.7"/>
<ellipse class='k' cx="581.4" cy="479.5" rx="2.3" ry="2.5"/>
<ellipse class='w t' cx="580.8" cy="478.9" rx="0.7" ry="0.7"/>
<ellipse class='t' cx="581.4" cy="479.5" rx="3.1" ry="3.2"/>
<path class='w h' d="M584.7 508.3 C586.4 506.7 586.3 506.5 588.4 506.3 C590.6 506.2 596.5 506.1 599.3 507.3 C602.0 508.5 605.2 511.7 606.7 514.2 C608.1 516.7 608.9 521.1 609.1 524.1 C609.3 527.1 608.8 531.2 607.9 534.2 C607.0 537.1 605.0 541.5 603.0 543.8 C600.9 546.0 596.9 548.2 594.3 548.9 C591.8 549.7 588.1 549.5 585.7 548.7 C583.4 547.9 580.0 545.6 578.6 543.8 C577.1 541.9 576.5 539.0 576.1 536.4 C575.7 533.8 575.7 529.5 575.9 526.5 C576.1 523.6 576.0 519.4 577.3 516.7 C578.7 513.9 583.1 509.8 584.7 508.3Z"/>
<path class='t' d="M583.3 511.7 C582.7 512.8 580.6 515.2 579.8 517.9 C579.0 520.6 578.6 524.5 578.6 527.8 C578.6 531.0 579.0 534.9 579.8 537.6 C580.6 540.3 581.9 542.2 583.3 543.8 C584.7 545.4 587.4 546.6 588.2 547.2"/>
<ellipse class='hh' cx="593.1" cy="529.0" rx="11.8" ry="15.5" transform="rotate(10 593.1 529.0)"/>
<ellipse class='t' cx="593.6" cy="529.2" rx="10.8" ry="14.3" transform="rotate(10 593.6 529.2)"/>
<ellipse class='h' cx="595.0" cy="529.7" rx="8.6" ry="11.1" transform="rotate(10 595.0 529.7)"/>
<ellipse class='h' cx="596.1" cy="530.3" rx="5.7" ry="7.0" transform="rotate(10 596.1 530.3)"/>
<ellipse class='t' cx="596.6" cy="530.7" rx="4.2" ry="5.2" transform="rotate(10 596.6 530.7)"/>
<ellipse class='h' cx="596.8" cy="530.8" rx="2.7" ry="3.2" transform="rotate(10 596.8 530.8)"/>
<ellipse class='k' cx="597.1" cy="531.0" rx="0.7" ry="0.9"/>
<path class='hh' d="M585.7 519.1 C585.5 520.4 584.3 523.7 584.2 526.5 C584.2 529.4 584.6 533.9 585.2 536.4 C585.9 538.8 587.7 540.5 588.2 541.3"/>
<path class='w h' d="M589.4 509.9 L593.1 510.9 L594.0 512.0 L593.4 513.5 L589.7 512.5 L588.8 511.3Z"/>
<path class='t' d="M591.1 510.5 L590.7 512.5"/>
<path class='w h' d="M600.3 510.8 L604.0 511.7 L604.8 512.9 L604.2 514.3 L600.5 513.3 L599.6 512.1Z"/>
<path class='t' d="M602.0 511.4 L601.5 513.3"/>
<path class='w h' d="M605.9 521.5 L609.6 522.5 L610.5 523.6 L609.9 525.0 L606.2 524.1 L605.3 522.8Z"/>
<path class='t' d="M607.6 522.1 L607.2 524.1"/>
<path class='w h' d="M602.7 535.0 L606.4 536.0 L607.3 537.1 L606.7 538.6 L603.0 537.6 L602.1 536.4Z"/>
<path class='t' d="M604.4 535.6 L604.0 537.6"/>
<path class='w h' d="M592.1 544.6 L595.8 545.6 L596.7 546.7 L596.1 548.2 L592.4 547.2 L591.5 546.0Z"/>
<path class='t' d="M593.9 545.2 L593.4 547.2"/>
<path class='w h' d="M581.0 543.6 L584.7 544.6 L585.6 545.7 L585.0 547.2 L581.3 546.2 L580.4 545.0Z"/>
<path class='t' d="M582.8 544.3 L582.3 546.2"/>
<path class='w h' d="M576.4 518.3 L580.1 519.3 L580.9 520.4 L580.3 521.8 L576.6 520.9 L575.7 519.6Z"/>
<path class='t' d="M578.1 518.9 L577.6 520.9"/>
<path class='w h' d="M576.9 533.8 L580.6 534.8 L581.4 535.9 L580.8 537.4 L577.1 536.4 L576.2 535.1Z"/>
<path class='t' d="M578.6 534.4 L578.1 536.4"/>
</g>
<circle cx="4.5" cy="4.6" r="0.55" fill="#777"/><circle cx="803.5" cy="994.6" r="0.55" fill="#777"/>
<g class="ld">
<path d="M249.9 401H255.5L346.5 451.5"/>
<path d="M374.6 334.5H380L455.2 480.6"/>
<path d="M185.6 651.6H191.5L414 481"/>
<path d="M569.8 612.3H563.9L495 549.8"/>
</g>
<g class="tb">
<rect x="155.6" y="176.0" width="94.3" height="230.6" fill="#fff"/>
<path d="M155.6 195.2H249.9"/>
<path d="M155.6 214.4H249.9"/>
<path d="M155.6 233.7H249.9"/>
<path d="M155.6 252.9H249.9"/>
<path d="M155.6 272.1H249.9"/>
<path d="M155.6 291.3H249.9"/>
<path d="M155.6 310.5H249.9"/>
<path d="M155.6 329.7H249.9"/>
<path d="M155.6 349.0H249.9"/>
<path d="M155.6 368.2H249.9"/>
<path d="M155.6 387.4H249.9"/>
<rect x="155.6" y="176.0" width="94.3" height="230.6" fill="none"/>
<text x="202.8" y="190.5">29.200.010 01</text>
<text x="202.8" y="209.7">29.200.010 02</text>
<text x="202.8" y="228.9">29.200.010 03</text>
<text x="202.8" y="248.2">29.200.010 04</text>
<text x="202.8" y="267.4">29.200.010 05</text>
<text x="202.8" y="286.6">29.200.020 01</text>
<text x="202.8" y="305.8">29.200.020 02</text>
<text x="202.8" y="325.0">29.200.020 03</text>
<text x="202.8" y="344.2">29.200.020 04</text>
<text x="202.8" y="363.5">29.200.020 05</text>
<text x="202.8" y="382.7">29.200.020 06</text>
<text x="202.8" y="401.9">29.200.030</text>
<rect x="280.6" y="282.2" width="94.0" height="59.0" fill="#fff"/>
<path d="M280.6 301.9H374.6"/>
<path d="M280.6 321.5H374.6"/>
<rect x="280.6" y="282.2" width="94.0" height="59.0" fill="none"/>
<text x="327.6" y="296.9">29.134.010 01</text>
<text x="327.6" y="316.6">29.134.010 02</text>
<text x="327.6" y="336.3">29.134.010 03</text>
<rect x="92.3" y="636.8" width="93.3" height="192.6" fill="#fff"/>
<path d="M92.3 656.1H185.6"/>
<path d="M92.3 675.3H185.6"/>
<path d="M92.3 694.6H185.6"/>
<path d="M92.3 713.8H185.6"/>
<path d="M92.3 733.1H185.6"/>
<path d="M92.3 752.4H185.6"/>
<path d="M92.3 771.6H185.6"/>
<path d="M92.3 790.9H185.6"/>
<path d="M92.3 810.1H185.6"/>
<rect x="92.3" y="636.8" width="93.3" height="192.6" fill="none"/>
<text x="138.9" y="651.3">29.218.030</text>
<text x="138.9" y="670.6">29.218.030 01</text>
<text x="138.9" y="689.8">29.218.030 02</text>
<text x="138.9" y="709.1">29.218.030 03</text>
<text x="138.9" y="728.4">29.218.030 04</text>
<text x="138.9" y="747.6">29.218.030 05</text>
<text x="138.9" y="766.9">29.218.030 06</text>
<text x="138.9" y="786.1">29.218.040</text>
<text x="138.9" y="805.4">29.218.050</text>
<text x="138.9" y="824.7">29.218.050 01</text>
<rect x="569.8" y="597.3" width="93.8" height="250.1" fill="#fff"/>
<path d="M569.8 616.5H663.6"/>
<path d="M569.8 635.8H663.6"/>
<path d="M569.8 655.0H663.6"/>
<path d="M569.8 674.3H663.6"/>
<path d="M569.8 693.5H663.6"/>
<path d="M569.8 712.7H663.6"/>
<path d="M569.8 732.0H663.6"/>
<path d="M569.8 751.2H663.6"/>
<path d="M569.8 770.4H663.6"/>
<path d="M569.8 789.7H663.6"/>
<path d="M569.8 808.9H663.6"/>
<path d="M569.8 828.2H663.6"/>
<rect x="569.8" y="597.3" width="93.8" height="250.1" fill="none"/>
<text x="616.7" y="611.8">29.204.010 01</text>
<text x="616.7" y="631.1">29.204.010 02</text>
<text x="616.7" y="650.3">29.204.020</text>
<text x="616.7" y="669.5">29.204.020 01</text>
<text x="616.7" y="688.8">29.204.020 02</text>
<text x="616.7" y="708.0">29.204.030</text>
<text x="616.7" y="727.2">29.204.030 01</text>
<text x="616.7" y="746.5">29.204.030 02</text>
<text x="616.7" y="765.7">29.218.010 01</text>
<text x="616.7" y="785.0">29.218.010 02</text>
<text x="616.7" y="804.2">29.218.010 03</text>
<text x="616.7" y="823.4">29.218.020 01</text>
<text x="616.7" y="842.7">29.218.020 02</text>
</g>
</svg>
</body></html>
